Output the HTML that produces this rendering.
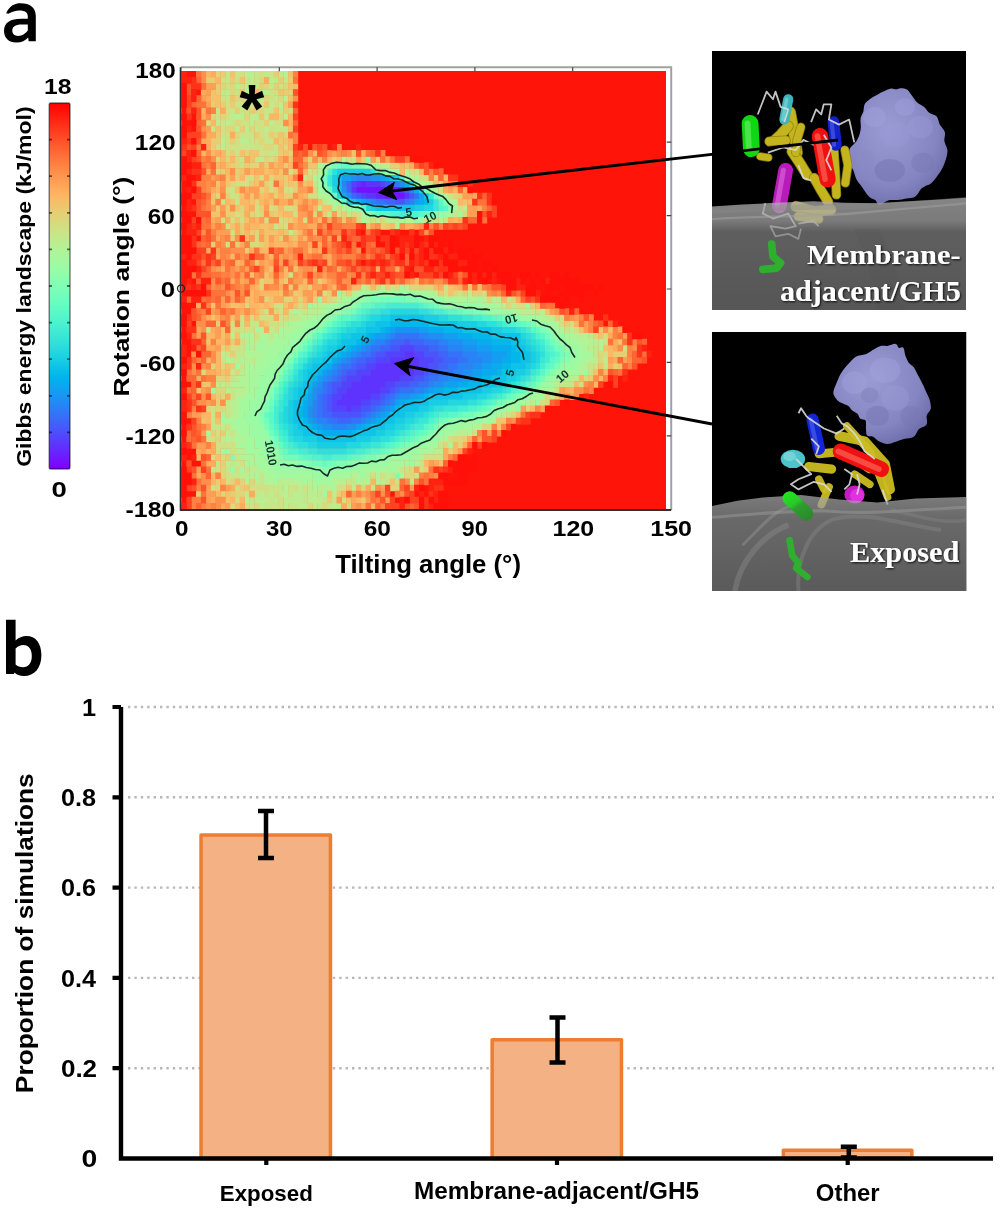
<!DOCTYPE html>
<html><head><meta charset="utf-8"><title>Figure</title>
<style>html,body{margin:0;padding:0;background:#fff;} svg{display:block;will-change:transform;}</style></head>
<body><svg width="1000" height="1212" viewBox="0 0 1000 1212">
<rect width="1000" height="1212" fill="#fff"/>
<path fill="#000" fill-rule="evenodd" d="M6.2 13.2C9.5 5.5 15 3.2 20.5 3.2C30 3.2 35.8 7.5 35.8 16L35.8 41.2L28.6 41.2L28.2 37.5C25.5 40.5 21.5 42.6 16.5 42.6C8.5 42.6 4 37.5 4 31C4 22.5 10.5 18.8 21.5 18.8L27.8 18.8L27.8 16.5C27.8 12.5 25 10.5 19.5 10.5C15.5 10.5 11.5 11.8 8.4 13.8ZM27.8 24.5L21.8 24.5C15 24.5 12.3 27 12.3 30.6C12.3 34 14.5 36 18 36C22.5 36 25.8 33 27.8 30.5Z"/>
<defs><linearGradient id="cbg" x1="0" y1="0" x2="0" y2="1"><stop offset="0.000" stop-color="#ff0000"/><stop offset="0.050" stop-color="#ff2814"/><stop offset="0.100" stop-color="#ff4f28"/><stop offset="0.150" stop-color="#ff743c"/><stop offset="0.200" stop-color="#ff964f"/><stop offset="0.250" stop-color="#ffb462"/><stop offset="0.300" stop-color="#e5ce74"/><stop offset="0.350" stop-color="#cce385"/><stop offset="0.400" stop-color="#b2f396"/><stop offset="0.450" stop-color="#99fca6"/><stop offset="0.500" stop-color="#80ffb4"/><stop offset="0.550" stop-color="#66fcc2"/><stop offset="0.600" stop-color="#4cf3ce"/><stop offset="0.650" stop-color="#33e3d9"/><stop offset="0.700" stop-color="#19cee3"/><stop offset="0.750" stop-color="#00b4ec"/><stop offset="0.800" stop-color="#1a96f3"/><stop offset="0.850" stop-color="#3374f8"/><stop offset="0.900" stop-color="#4d4ffc"/><stop offset="0.950" stop-color="#6628fe"/><stop offset="1.000" stop-color="#8000ff"/></linearGradient></defs>
<rect x="49.2" y="103" width="20.8" height="366" rx="1.5" fill="url(#cbg)"/>
<rect x="49.2" y="103" width="20.8" height="366" rx="1.5" fill="none" stroke="#000" stroke-opacity="0.5" stroke-width="1.4"/>
<path d="M49 139.6h3M70 139.6h-3M49 176.2h3M70 176.2h-3M49 212.8h3M70 212.8h-3M49 249.4h3M70 249.4h-3M49 286.0h3M70 286.0h-3M49 322.6h3M70 322.6h-3M49 359.2h3M70 359.2h-3M49 395.8h3M70 395.8h-3M49 432.4h3M70 432.4h-3" stroke="#000" stroke-opacity="0.55" stroke-width="1.8" fill="none"/>
<text x="200" y="400" font-family="Liberation Sans" font-weight="bold" font-size="23" fill="#000" transform="matrix(1.0750 0.0000 0.0000 0.9765 -171.0750 -296.4882)" >18</text>
<text x="200" y="400" font-family="Liberation Sans" font-weight="bold" font-size="23" fill="#000" transform="matrix(1.2000 0.0000 0.0000 0.9294 -188.4000 124.9353)" >0</text>
<text x="200" y="400" font-family="Liberation Sans" font-weight="bold" font-size="23" fill="#000" transform="matrix(0.0000 -1.0003 0.9130 0.0000 -334.2826 666.8561)" >Gibbs energy landscape (kJ/mol)</text>
<g><rect x="181.5" y="71.0" width="484.50" height="438.00" fill="#ff140a"/>
<path fill="#7511ff" d="M355.9 186.6h39.3v6.6h-39.3zM385.0 192.7h19.9v6.6h-19.9z"/>
<path fill="#6a22fe" d="M360.8 180.5h5.3v6.6h-5.3zM394.7 186.6h5.3v6.6h-5.3zM375.3 192.7h10.2v6.6h-10.2z"/>
<path fill="#5f33fe" d="M355.9 180.5h5.3v6.6h-5.3zM365.6 180.5h15.0v6.6h-15.0zM351.1 186.6h5.3v6.6h-5.3zM399.5 186.6h5.3v6.6h-5.3zM365.6 192.7h10.2v6.6h-10.2zM404.4 192.7h5.3v6.6h-5.3zM404.4 350.8h10.2v6.6h-10.2zM389.8 356.9h29.6v6.6h-29.6zM375.3 363.0h44.1v6.6h-44.1zM370.5 369.1h44.1v6.6h-44.1zM360.8 375.2h39.3v6.6h-39.3zM351.1 381.2h34.4v6.6h-34.4zM346.2 387.3h34.4v6.6h-34.4zM341.4 393.4h29.6v6.6h-29.6zM336.5 399.5h24.7v6.6h-24.7zM346.2 405.6h5.3v6.6h-5.3z"/>
<path fill="#5443fd" d="M351.1 180.5h5.3v6.6h-5.3zM380.1 180.5h5.3v6.6h-5.3zM360.8 192.7h5.3v6.6h-5.3zM399.5 344.8h15.0v6.6h-15.0zM385.0 350.8h19.9v6.6h-19.9zM414.1 350.8h10.2v6.6h-10.2zM375.3 356.9h15.0v6.6h-15.0zM418.9 356.9h15.0v6.6h-15.0zM365.6 363.0h10.2v6.6h-10.2zM418.9 363.0h10.2v6.6h-10.2zM355.9 369.1h15.0v6.6h-15.0zM414.1 369.1h10.2v6.6h-10.2zM346.2 375.2h15.0v6.6h-15.0zM399.5 375.2h15.0v6.6h-15.0zM341.4 381.2h10.2v6.6h-10.2zM385.0 381.2h10.2v6.6h-10.2zM336.5 387.3h10.2v6.6h-10.2zM380.1 387.3h10.2v6.6h-10.2zM331.7 393.4h10.2v6.6h-10.2zM370.5 393.4h10.2v6.6h-10.2zM331.7 399.5h5.3v6.6h-5.3zM360.8 399.5h10.2v6.6h-10.2zM331.7 405.6h15.0v6.6h-15.0zM351.1 405.6h10.2v6.6h-10.2z"/>
<path fill="#4954fb" d="M385.0 180.5h5.3v6.6h-5.3zM404.4 186.6h5.3v6.6h-5.3zM355.9 192.7h5.3v6.6h-5.3zM409.2 192.7h5.3v6.6h-5.3zM394.7 198.8h10.2v6.6h-10.2zM404.4 338.7h5.3v6.6h-5.3zM389.8 344.8h10.2v6.6h-10.2zM414.1 344.8h15.0v6.6h-15.0zM375.3 350.8h10.2v6.6h-10.2zM423.8 350.8h15.0v6.6h-15.0zM365.6 356.9h10.2v6.6h-10.2zM433.4 356.9h10.2v6.6h-10.2zM355.9 363.0h10.2v6.6h-10.2zM428.6 363.0h10.2v6.6h-10.2zM346.2 369.1h10.2v6.6h-10.2zM423.8 369.1h5.3v6.6h-5.3zM341.4 375.2h5.3v6.6h-5.3zM414.1 375.2h10.2v6.6h-10.2zM331.7 381.2h10.2v6.6h-10.2zM394.7 381.2h15.0v6.6h-15.0zM331.7 387.3h5.3v6.6h-5.3zM389.8 387.3h5.3v6.6h-5.3zM326.9 393.4h5.3v6.6h-5.3zM380.1 393.4h5.3v6.6h-5.3zM326.9 399.5h5.3v6.6h-5.3zM370.5 399.5h10.2v6.6h-10.2zM326.9 405.6h5.3v6.6h-5.3zM360.8 405.6h10.2v6.6h-10.2zM331.7 411.7h29.6v6.6h-29.6z"/>
<path fill="#3e64fa" d="M346.2 180.5h5.3v6.6h-5.3zM389.8 180.5h5.3v6.6h-5.3zM346.2 186.6h5.3v6.6h-5.3zM351.1 192.7h5.3v6.6h-5.3zM385.0 198.8h10.2v6.6h-10.2zM389.8 338.7h15.0v6.6h-15.0zM409.2 338.7h15.0v6.6h-15.0zM380.1 344.8h10.2v6.6h-10.2zM428.6 344.8h10.2v6.6h-10.2zM370.5 350.8h5.3v6.6h-5.3zM438.3 350.8h10.2v6.6h-10.2zM355.9 356.9h10.2v6.6h-10.2zM443.1 356.9h15.0v6.6h-15.0zM351.1 363.0h5.3v6.6h-5.3zM438.3 363.0h10.2v6.6h-10.2zM341.4 369.1h5.3v6.6h-5.3zM428.6 369.1h10.2v6.6h-10.2zM336.5 375.2h5.3v6.6h-5.3zM423.8 375.2h5.3v6.6h-5.3zM326.9 381.2h5.3v6.6h-5.3zM409.2 381.2h10.2v6.6h-10.2zM326.9 387.3h5.3v6.6h-5.3zM394.7 387.3h5.3v6.6h-5.3zM322.0 393.4h5.3v6.6h-5.3zM385.0 393.4h5.3v6.6h-5.3zM322.0 399.5h5.3v6.6h-5.3zM380.1 399.5h5.3v6.6h-5.3zM322.0 405.6h5.3v6.6h-5.3zM370.5 405.6h5.3v6.6h-5.3zM322.0 411.7h10.2v6.6h-10.2zM360.8 411.7h5.3v6.6h-5.3zM336.5 417.8h15.0v6.6h-15.0z"/>
<path fill="#3473f8" d="M394.7 180.5h5.3v6.6h-5.3zM414.1 192.7h5.3v6.6h-5.3zM375.3 198.8h10.2v6.6h-10.2zM404.4 198.8h5.3v6.6h-5.3zM394.7 332.6h24.7v6.6h-24.7zM385.0 338.7h5.3v6.6h-5.3zM423.8 338.7h15.0v6.6h-15.0zM370.5 344.8h10.2v6.6h-10.2zM438.3 344.8h10.2v6.6h-10.2zM360.8 350.8h10.2v6.6h-10.2zM448.0 350.8h15.0v6.6h-15.0zM351.1 356.9h5.3v6.6h-5.3zM457.7 356.9h10.2v6.6h-10.2zM341.4 363.0h10.2v6.6h-10.2zM448.0 363.0h10.2v6.6h-10.2zM336.5 369.1h5.3v6.6h-5.3zM438.3 369.1h15.0v6.6h-15.0zM331.7 375.2h5.3v6.6h-5.3zM428.6 375.2h10.2v6.6h-10.2zM322.0 381.2h5.3v6.6h-5.3zM418.9 381.2h10.2v6.6h-10.2zM322.0 387.3h5.3v6.6h-5.3zM399.5 387.3h15.0v6.6h-15.0zM317.2 393.4h5.3v6.6h-5.3zM389.8 393.4h5.3v6.6h-5.3zM317.2 399.5h5.3v6.6h-5.3zM385.0 399.5h5.3v6.6h-5.3zM317.2 405.6h5.3v6.6h-5.3zM375.3 405.6h5.3v6.6h-5.3zM317.2 411.7h5.3v6.6h-5.3zM365.6 411.7h5.3v6.6h-5.3zM326.9 417.8h10.2v6.6h-10.2zM351.1 417.8h10.2v6.6h-10.2z"/>
<path fill="#2982f6" d="M355.9 174.4h15.0v6.6h-15.0zM341.4 180.5h5.3v6.6h-5.3zM409.2 186.6h5.3v6.6h-5.3zM370.5 198.8h5.3v6.6h-5.3zM409.2 198.8h5.3v6.6h-5.3zM389.8 332.6h5.3v6.6h-5.3zM418.9 332.6h10.2v6.6h-10.2zM375.3 338.7h10.2v6.6h-10.2zM438.3 338.7h10.2v6.6h-10.2zM365.6 344.8h5.3v6.6h-5.3zM448.0 344.8h15.0v6.6h-15.0zM355.9 350.8h5.3v6.6h-5.3zM462.5 350.8h15.0v6.6h-15.0zM346.2 356.9h5.3v6.6h-5.3zM467.4 356.9h15.0v6.6h-15.0zM336.5 363.0h5.3v6.6h-5.3zM457.7 363.0h15.0v6.6h-15.0zM331.7 369.1h5.3v6.6h-5.3zM452.8 369.1h10.2v6.6h-10.2zM326.9 375.2h5.3v6.6h-5.3zM438.3 375.2h10.2v6.6h-10.2zM428.6 381.2h5.3v6.6h-5.3zM317.2 387.3h5.3v6.6h-5.3zM414.1 387.3h10.2v6.6h-10.2zM394.7 393.4h5.3v6.6h-5.3zM312.3 399.5h5.3v6.6h-5.3zM389.8 399.5h5.3v6.6h-5.3zM312.3 405.6h5.3v6.6h-5.3zM380.1 405.6h5.3v6.6h-5.3zM312.3 411.7h5.3v6.6h-5.3zM370.5 411.7h5.3v6.6h-5.3zM317.2 417.8h10.2v6.6h-10.2zM360.8 417.8h5.3v6.6h-5.3zM331.7 423.8h15.0v6.6h-15.0z"/>
<path fill="#1e90f4" d="M351.1 174.4h5.3v6.6h-5.3zM370.5 174.4h10.2v6.6h-10.2zM399.5 180.5h5.3v6.6h-5.3zM341.4 186.6h5.3v6.6h-5.3zM346.2 192.7h5.3v6.6h-5.3zM365.6 198.8h5.3v6.6h-5.3zM394.7 326.5h24.7v6.6h-24.7zM385.0 332.6h5.3v6.6h-5.3zM428.6 332.6h15.0v6.6h-15.0zM370.5 338.7h5.3v6.6h-5.3zM448.0 338.7h15.0v6.6h-15.0zM360.8 344.8h5.3v6.6h-5.3zM462.5 344.8h15.0v6.6h-15.0zM351.1 350.8h5.3v6.6h-5.3zM477.0 350.8h15.0v6.6h-15.0zM341.4 356.9h5.3v6.6h-5.3zM481.9 356.9h10.2v6.6h-10.2zM331.7 363.0h5.3v6.6h-5.3zM472.2 363.0h10.2v6.6h-10.2zM326.9 369.1h5.3v6.6h-5.3zM462.5 369.1h10.2v6.6h-10.2zM322.0 375.2h5.3v6.6h-5.3zM448.0 375.2h15.0v6.6h-15.0zM317.2 381.2h5.3v6.6h-5.3zM433.4 381.2h10.2v6.6h-10.2zM312.3 387.3h5.3v6.6h-5.3zM423.8 387.3h5.3v6.6h-5.3zM312.3 393.4h5.3v6.6h-5.3zM399.5 393.4h10.2v6.6h-10.2zM307.5 405.6h5.3v6.6h-5.3zM385.0 405.6h5.3v6.6h-5.3zM307.5 411.7h5.3v6.6h-5.3zM375.3 411.7h5.3v6.6h-5.3zM312.3 417.8h5.3v6.6h-5.3zM365.6 417.8h5.3v6.6h-5.3zM322.0 423.8h10.2v6.6h-10.2zM346.2 423.8h10.2v6.6h-10.2z"/>
<path fill="#139ef1" d="M341.4 174.4h10.2v6.6h-10.2zM380.1 174.4h5.3v6.6h-5.3zM418.9 192.7h5.3v6.6h-5.3zM360.8 198.8h5.3v6.6h-5.3zM414.1 198.8h5.3v6.6h-5.3zM389.8 326.5h5.3v6.6h-5.3zM418.9 326.5h10.2v6.6h-10.2zM375.3 332.6h10.2v6.6h-10.2zM443.1 332.6h15.0v6.6h-15.0zM365.6 338.7h5.3v6.6h-5.3zM462.5 338.7h15.0v6.6h-15.0zM355.9 344.8h5.3v6.6h-5.3zM477.0 344.8h15.0v6.6h-15.0zM346.2 350.8h5.3v6.6h-5.3zM491.6 350.8h15.0v6.6h-15.0zM336.5 356.9h5.3v6.6h-5.3zM491.6 356.9h10.2v6.6h-10.2zM481.9 363.0h10.2v6.6h-10.2zM322.0 369.1h5.3v6.6h-5.3zM472.2 369.1h10.2v6.6h-10.2zM317.2 375.2h5.3v6.6h-5.3zM462.5 375.2h10.2v6.6h-10.2zM312.3 381.2h5.3v6.6h-5.3zM443.1 381.2h15.0v6.6h-15.0zM428.6 387.3h5.3v6.6h-5.3zM307.5 393.4h5.3v6.6h-5.3zM409.2 393.4h10.2v6.6h-10.2zM307.5 399.5h5.3v6.6h-5.3zM394.7 399.5h5.3v6.6h-5.3zM389.8 405.6h5.3v6.6h-5.3zM380.1 411.7h5.3v6.6h-5.3zM307.5 417.8h5.3v6.6h-5.3zM370.5 417.8h5.3v6.6h-5.3zM317.2 423.8h5.3v6.6h-5.3zM355.9 423.8h5.3v6.6h-5.3z"/>
<path fill="#08abee" d="M385.0 174.4h5.3v6.6h-5.3zM404.4 180.5h5.3v6.6h-5.3zM414.1 186.6h5.3v6.6h-5.3zM341.4 192.7h5.3v6.6h-5.3zM418.9 198.8h5.3v6.6h-5.3zM385.0 326.5h5.3v6.6h-5.3zM428.6 326.5h15.0v6.6h-15.0zM370.5 332.6h5.3v6.6h-5.3zM457.7 332.6h15.0v6.6h-15.0zM360.8 338.7h5.3v6.6h-5.3zM477.0 338.7h15.0v6.6h-15.0zM351.1 344.8h5.3v6.6h-5.3zM491.6 344.8h19.9v6.6h-19.9zM341.4 350.8h5.3v6.6h-5.3zM506.1 350.8h5.3v6.6h-5.3zM331.7 356.9h5.3v6.6h-5.3zM501.3 356.9h10.2v6.6h-10.2zM326.9 363.0h5.3v6.6h-5.3zM491.6 363.0h10.2v6.6h-10.2zM481.9 369.1h15.0v6.6h-15.0zM472.2 375.2h10.2v6.6h-10.2zM457.7 381.2h10.2v6.6h-10.2zM307.5 387.3h5.3v6.6h-5.3zM433.4 387.3h10.2v6.6h-10.2zM418.9 393.4h5.3v6.6h-5.3zM302.6 399.5h5.3v6.6h-5.3zM399.5 399.5h5.3v6.6h-5.3zM302.6 405.6h5.3v6.6h-5.3zM302.6 411.7h5.3v6.6h-5.3zM385.0 411.7h5.3v6.6h-5.3zM375.3 417.8h5.3v6.6h-5.3zM312.3 423.8h5.3v6.6h-5.3zM360.8 423.8h5.3v6.6h-5.3zM322.0 429.9h29.6v6.6h-29.6z"/>
<path fill="#03b7eb" d="M355.9 198.8h5.3v6.6h-5.3zM423.8 198.8h5.3v6.6h-5.3zM389.8 320.4h39.3v6.6h-39.3zM380.1 326.5h5.3v6.6h-5.3zM443.1 326.5h19.9v6.6h-19.9zM365.6 332.6h5.3v6.6h-5.3zM472.2 332.6h19.9v6.6h-19.9zM355.9 338.7h5.3v6.6h-5.3zM491.6 338.7h19.9v6.6h-19.9zM346.2 344.8h5.3v6.6h-5.3zM511.0 344.8h5.3v6.6h-5.3zM336.5 350.8h5.3v6.6h-5.3zM511.0 350.8h10.2v6.6h-10.2zM511.0 356.9h10.2v6.6h-10.2zM322.0 363.0h5.3v6.6h-5.3zM501.3 363.0h10.2v6.6h-10.2zM317.2 369.1h5.3v6.6h-5.3zM496.4 369.1h5.3v6.6h-5.3zM312.3 375.2h5.3v6.6h-5.3zM481.9 375.2h10.2v6.6h-10.2zM307.5 381.2h5.3v6.6h-5.3zM467.4 381.2h15.0v6.6h-15.0zM443.1 387.3h15.0v6.6h-15.0zM302.6 393.4h5.3v6.6h-5.3zM423.8 393.4h5.3v6.6h-5.3zM404.4 399.5h10.2v6.6h-10.2zM297.8 405.6h5.3v6.6h-5.3zM394.7 405.6h5.3v6.6h-5.3zM297.8 411.7h5.3v6.6h-5.3zM302.6 417.8h5.3v6.6h-5.3zM380.1 417.8h5.3v6.6h-5.3zM307.5 423.8h5.3v6.6h-5.3zM365.6 423.8h5.3v6.6h-5.3zM317.2 429.9h5.3v6.6h-5.3zM351.1 429.9h5.3v6.6h-5.3z"/>
<path fill="#0ec3e7" d="M336.5 174.4h5.3v6.6h-5.3zM389.8 174.4h5.3v6.6h-5.3zM336.5 180.5h5.3v6.6h-5.3zM336.5 186.6h5.3v6.6h-5.3zM423.8 192.7h5.3v6.6h-5.3zM351.1 198.8h5.3v6.6h-5.3zM375.3 204.8h39.3v6.6h-39.3zM389.8 314.3h34.4v6.6h-34.4zM375.3 320.4h15.0v6.6h-15.0zM428.6 320.4h29.6v6.6h-29.6zM365.6 326.5h15.0v6.6h-15.0zM462.5 326.5h29.6v6.6h-29.6zM351.1 332.6h15.0v6.6h-15.0zM491.6 332.6h29.6v6.6h-29.6zM341.4 338.7h15.0v6.6h-15.0zM511.0 338.7h10.2v6.6h-10.2zM336.5 344.8h10.2v6.6h-10.2zM515.8 344.8h10.2v6.6h-10.2zM326.9 350.8h10.2v6.6h-10.2zM520.6 350.8h10.2v6.6h-10.2zM322.0 356.9h10.2v6.6h-10.2zM520.6 356.9h10.2v6.6h-10.2zM312.3 363.0h10.2v6.6h-10.2zM511.0 363.0h15.0v6.6h-15.0zM307.5 369.1h10.2v6.6h-10.2zM501.3 369.1h15.0v6.6h-15.0zM307.5 375.2h5.3v6.6h-5.3zM491.6 375.2h15.0v6.6h-15.0zM302.6 381.2h5.3v6.6h-5.3zM481.9 381.2h15.0v6.6h-15.0zM297.8 387.3h10.2v6.6h-10.2zM457.7 387.3h24.7v6.6h-24.7zM297.8 393.4h5.3v6.6h-5.3zM428.6 393.4h34.4v6.6h-34.4zM292.9 399.5h10.2v6.6h-10.2zM414.1 399.5h15.0v6.6h-15.0zM292.9 405.6h5.3v6.6h-5.3zM399.5 405.6h19.9v6.6h-19.9zM292.9 411.7h5.3v6.6h-5.3zM389.8 411.7h15.0v6.6h-15.0zM292.9 417.8h10.2v6.6h-10.2zM385.0 417.8h10.2v6.6h-10.2zM297.8 423.8h10.2v6.6h-10.2zM370.5 423.8h15.0v6.6h-15.0zM302.6 429.9h15.0v6.6h-15.0zM355.9 429.9h19.9v6.6h-19.9zM317.2 436.0h39.3v6.6h-39.3z"/>
<path fill="#18cde4" d="M336.5 168.3h34.4v6.6h-34.4zM331.7 174.4h5.3v6.6h-5.3zM394.7 174.4h5.3v6.6h-5.3zM331.7 180.5h5.3v6.6h-5.3zM409.2 180.5h5.3v6.6h-5.3zM418.9 186.6h5.3v6.6h-5.3zM346.2 198.8h5.3v6.6h-5.3zM428.6 198.8h5.3v6.6h-5.3zM370.5 204.8h5.3v6.6h-5.3zM414.1 204.8h10.2v6.6h-10.2zM380.1 314.3h10.2v6.6h-10.2zM423.8 314.3h15.0v6.6h-15.0zM365.6 320.4h10.2v6.6h-10.2zM457.7 320.4h19.9v6.6h-19.9zM355.9 326.5h10.2v6.6h-10.2zM491.6 326.5h10.2v6.6h-10.2zM341.4 332.6h10.2v6.6h-10.2zM336.5 338.7h5.3v6.6h-5.3zM520.6 338.7h5.3v6.6h-5.3zM326.9 344.8h10.2v6.6h-10.2zM525.5 344.8h5.3v6.6h-5.3zM322.0 350.8h5.3v6.6h-5.3zM530.3 350.8h5.3v6.6h-5.3zM312.3 356.9h10.2v6.6h-10.2zM530.3 356.9h5.3v6.6h-5.3zM307.5 363.0h5.3v6.6h-5.3zM525.5 363.0h5.3v6.6h-5.3zM302.6 369.1h5.3v6.6h-5.3zM515.8 369.1h10.2v6.6h-10.2zM302.6 375.2h5.3v6.6h-5.3zM506.1 375.2h10.2v6.6h-10.2zM297.8 381.2h5.3v6.6h-5.3zM496.4 381.2h10.2v6.6h-10.2zM292.9 387.3h5.3v6.6h-5.3zM481.9 387.3h10.2v6.6h-10.2zM292.9 393.4h5.3v6.6h-5.3zM462.5 393.4h15.0v6.6h-15.0zM288.1 399.5h5.3v6.6h-5.3zM428.6 399.5h19.9v6.6h-19.9zM288.1 405.6h5.3v6.6h-5.3zM418.9 405.6h10.2v6.6h-10.2zM288.1 411.7h5.3v6.6h-5.3zM404.4 411.7h10.2v6.6h-10.2zM288.1 417.8h5.3v6.6h-5.3zM394.7 417.8h10.2v6.6h-10.2zM292.9 423.8h5.3v6.6h-5.3zM385.0 423.8h10.2v6.6h-10.2zM292.9 429.9h10.2v6.6h-10.2zM375.3 429.9h10.2v6.6h-10.2zM302.6 436.0h15.0v6.6h-15.0zM355.9 436.0h15.0v6.6h-15.0zM317.2 442.1h29.6v6.6h-29.6z"/>
<path fill="#23d7e0" d="M331.7 186.6h5.3v6.6h-5.3zM336.5 192.7h5.3v6.6h-5.3zM365.6 204.8h5.3v6.6h-5.3zM423.8 204.8h10.2v6.6h-10.2zM389.8 308.2h29.6v6.6h-29.6zM370.5 314.3h10.2v6.6h-10.2zM438.3 314.3h10.2v6.6h-10.2zM360.8 320.4h5.3v6.6h-5.3zM477.0 320.4h10.2v6.6h-10.2zM346.2 326.5h10.2v6.6h-10.2zM501.3 326.5h15.0v6.6h-15.0zM336.5 332.6h5.3v6.6h-5.3zM520.6 332.6h5.3v6.6h-5.3zM326.9 338.7h10.2v6.6h-10.2zM525.5 338.7h5.3v6.6h-5.3zM322.0 344.8h5.3v6.6h-5.3zM530.3 344.8h5.3v6.6h-5.3zM317.2 350.8h5.3v6.6h-5.3zM535.2 350.8h5.3v6.6h-5.3zM307.5 356.9h5.3v6.6h-5.3zM535.2 356.9h5.3v6.6h-5.3zM302.6 363.0h5.3v6.6h-5.3zM530.3 363.0h5.3v6.6h-5.3zM297.8 369.1h5.3v6.6h-5.3zM525.5 369.1h5.3v6.6h-5.3zM297.8 375.2h5.3v6.6h-5.3zM515.8 375.2h5.3v6.6h-5.3zM292.9 381.2h5.3v6.6h-5.3zM506.1 381.2h5.3v6.6h-5.3zM288.1 387.3h5.3v6.6h-5.3zM491.6 387.3h10.2v6.6h-10.2zM288.1 393.4h5.3v6.6h-5.3zM477.0 393.4h10.2v6.6h-10.2zM448.0 399.5h19.9v6.6h-19.9zM283.2 405.6h5.3v6.6h-5.3zM428.6 405.6h5.3v6.6h-5.3zM283.2 411.7h5.3v6.6h-5.3zM414.1 411.7h10.2v6.6h-10.2zM283.2 417.8h5.3v6.6h-5.3zM404.4 417.8h10.2v6.6h-10.2zM288.1 423.8h5.3v6.6h-5.3zM394.7 423.8h10.2v6.6h-10.2zM288.1 429.9h5.3v6.6h-5.3zM385.0 429.9h10.2v6.6h-10.2zM292.9 436.0h10.2v6.6h-10.2zM370.5 436.0h10.2v6.6h-10.2zM307.5 442.1h10.2v6.6h-10.2zM346.2 442.1h15.0v6.6h-15.0z"/>
<path fill="#2ee0db" d="M331.7 168.3h5.3v6.6h-5.3zM370.5 168.3h5.3v6.6h-5.3zM380.1 308.2h10.2v6.6h-10.2zM418.9 308.2h10.2v6.6h-10.2zM365.6 314.3h5.3v6.6h-5.3zM448.0 314.3h15.0v6.6h-15.0zM351.1 320.4h10.2v6.6h-10.2zM486.7 320.4h10.2v6.6h-10.2zM341.4 326.5h5.3v6.6h-5.3zM515.8 326.5h5.3v6.6h-5.3zM331.7 332.6h5.3v6.6h-5.3zM525.5 332.6h5.3v6.6h-5.3zM322.0 338.7h5.3v6.6h-5.3zM530.3 338.7h5.3v6.6h-5.3zM317.2 344.8h5.3v6.6h-5.3zM535.2 344.8h5.3v6.6h-5.3zM312.3 350.8h5.3v6.6h-5.3zM540.0 350.8h5.3v6.6h-5.3zM535.2 363.0h5.3v6.6h-5.3zM292.9 375.2h5.3v6.6h-5.3zM520.6 375.2h5.3v6.6h-5.3zM288.1 381.2h5.3v6.6h-5.3zM511.0 381.2h5.3v6.6h-5.3zM501.3 387.3h5.3v6.6h-5.3zM283.2 393.4h5.3v6.6h-5.3zM486.7 393.4h5.3v6.6h-5.3zM283.2 399.5h5.3v6.6h-5.3zM467.4 399.5h10.2v6.6h-10.2zM433.4 405.6h10.2v6.6h-10.2zM278.4 411.7h5.3v6.6h-5.3zM423.8 411.7h5.3v6.6h-5.3zM278.4 417.8h5.3v6.6h-5.3zM414.1 417.8h5.3v6.6h-5.3zM283.2 423.8h5.3v6.6h-5.3zM404.4 423.8h5.3v6.6h-5.3zM394.7 429.9h5.3v6.6h-5.3zM288.1 436.0h5.3v6.6h-5.3zM380.1 436.0h10.2v6.6h-10.2zM297.8 442.1h10.2v6.6h-10.2zM360.8 442.1h10.2v6.6h-10.2zM317.2 448.2h29.6v6.6h-29.6z"/>
<path fill="#39e7d7" d="M326.9 174.4h5.3v6.6h-5.3zM326.9 180.5h5.3v6.6h-5.3zM428.6 192.7h5.3v6.6h-5.3zM433.4 198.8h5.3v6.6h-5.3zM433.4 204.8h5.3v6.6h-5.3zM370.5 308.2h10.2v6.6h-10.2zM428.6 308.2h5.3v6.6h-5.3zM360.8 314.3h5.3v6.6h-5.3zM462.5 314.3h10.2v6.6h-10.2zM346.2 320.4h5.3v6.6h-5.3zM496.4 320.4h5.3v6.6h-5.3zM336.5 326.5h5.3v6.6h-5.3zM520.6 326.5h5.3v6.6h-5.3zM326.9 332.6h5.3v6.6h-5.3zM530.3 332.6h5.3v6.6h-5.3zM535.2 338.7h5.3v6.6h-5.3zM312.3 344.8h5.3v6.6h-5.3zM540.0 344.8h5.3v6.6h-5.3zM307.5 350.8h5.3v6.6h-5.3zM302.6 356.9h5.3v6.6h-5.3zM540.0 356.9h5.3v6.6h-5.3zM297.8 363.0h5.3v6.6h-5.3zM292.9 369.1h5.3v6.6h-5.3zM530.3 369.1h5.3v6.6h-5.3zM525.5 375.2h5.3v6.6h-5.3zM515.8 381.2h5.3v6.6h-5.3zM283.2 387.3h5.3v6.6h-5.3zM506.1 387.3h5.3v6.6h-5.3zM491.6 393.4h5.3v6.6h-5.3zM278.4 399.5h5.3v6.6h-5.3zM477.0 399.5h5.3v6.6h-5.3zM278.4 405.6h5.3v6.6h-5.3zM443.1 405.6h15.0v6.6h-15.0zM428.6 411.7h5.3v6.6h-5.3zM418.9 417.8h10.2v6.6h-10.2zM278.4 423.8h5.3v6.6h-5.3zM409.2 423.8h5.3v6.6h-5.3zM283.2 429.9h5.3v6.6h-5.3zM399.5 429.9h5.3v6.6h-5.3zM389.8 436.0h5.3v6.6h-5.3zM292.9 442.1h5.3v6.6h-5.3zM370.5 442.1h10.2v6.6h-10.2zM307.5 448.2h10.2v6.6h-10.2zM346.2 448.2h10.2v6.6h-10.2z"/>
<path fill="#44eed2" d="M399.5 210.9h5.3v6.6h-5.3zM385.0 302.2h34.4v6.6h-34.4zM365.6 308.2h5.3v6.6h-5.3zM433.4 308.2h10.2v6.6h-10.2zM355.9 314.3h5.3v6.6h-5.3zM472.2 314.3h10.2v6.6h-10.2zM341.4 320.4h5.3v6.6h-5.3zM501.3 320.4h5.3v6.6h-5.3zM331.7 326.5h5.3v6.6h-5.3zM525.5 326.5h5.3v6.6h-5.3zM322.0 332.6h5.3v6.6h-5.3zM317.2 338.7h5.3v6.6h-5.3zM540.0 338.7h5.3v6.6h-5.3zM544.9 350.8h5.3v6.6h-5.3zM297.8 356.9h5.3v6.6h-5.3zM544.9 356.9h5.3v6.6h-5.3zM292.9 363.0h5.3v6.6h-5.3zM540.0 363.0h5.3v6.6h-5.3zM535.2 369.1h5.3v6.6h-5.3zM288.1 375.2h5.3v6.6h-5.3zM283.2 381.2h5.3v6.6h-5.3zM520.6 381.2h5.3v6.6h-5.3zM278.4 393.4h5.3v6.6h-5.3zM496.4 393.4h5.3v6.6h-5.3zM481.9 399.5h5.3v6.6h-5.3zM273.6 405.6h5.3v6.6h-5.3zM457.7 405.6h10.2v6.6h-10.2zM273.6 411.7h5.3v6.6h-5.3zM433.4 411.7h5.3v6.6h-5.3zM273.6 417.8h5.3v6.6h-5.3zM414.1 423.8h10.2v6.6h-10.2zM278.4 429.9h5.3v6.6h-5.3zM404.4 429.9h5.3v6.6h-5.3zM283.2 436.0h5.3v6.6h-5.3zM394.7 436.0h5.3v6.6h-5.3zM288.1 442.1h5.3v6.6h-5.3zM380.1 442.1h5.3v6.6h-5.3zM297.8 448.2h10.2v6.6h-10.2zM355.9 448.2h10.2v6.6h-10.2zM322.0 454.2h10.2v6.6h-10.2z"/>
<path fill="#4ff4cd" d="M326.9 168.3h5.3v6.6h-5.3zM399.5 174.4h5.3v6.6h-5.3zM438.3 204.8h5.3v6.6h-5.3zM389.8 210.9h10.2v6.6h-10.2zM404.4 210.9h15.0v6.6h-15.0zM375.3 302.2h10.2v6.6h-10.2zM418.9 302.2h5.3v6.6h-5.3zM360.8 308.2h5.3v6.6h-5.3zM443.1 308.2h5.3v6.6h-5.3zM351.1 314.3h5.3v6.6h-5.3zM481.9 314.3h10.2v6.6h-10.2zM336.5 320.4h5.3v6.6h-5.3zM506.1 320.4h10.2v6.6h-10.2zM326.9 326.5h5.3v6.6h-5.3zM535.2 332.6h5.3v6.6h-5.3zM312.3 338.7h5.3v6.6h-5.3zM307.5 344.8h5.3v6.6h-5.3zM544.9 344.8h5.3v6.6h-5.3zM302.6 350.8h5.3v6.6h-5.3zM549.7 350.8h5.3v6.6h-5.3zM288.1 369.1h5.3v6.6h-5.3zM530.3 375.2h5.3v6.6h-5.3zM278.4 387.3h5.3v6.6h-5.3zM511.0 387.3h5.3v6.6h-5.3zM501.3 393.4h5.3v6.6h-5.3zM273.6 399.5h5.3v6.6h-5.3zM486.7 399.5h5.3v6.6h-5.3zM467.4 405.6h10.2v6.6h-10.2zM438.3 411.7h10.2v6.6h-10.2zM428.6 417.8h5.3v6.6h-5.3zM273.6 423.8h5.3v6.6h-5.3zM409.2 429.9h5.3v6.6h-5.3zM278.4 436.0h5.3v6.6h-5.3zM399.5 436.0h5.3v6.6h-5.3zM283.2 442.1h5.3v6.6h-5.3zM385.0 442.1h5.3v6.6h-5.3zM288.1 448.2h10.2v6.6h-10.2zM365.6 448.2h5.3v6.6h-5.3zM312.3 454.2h10.2v6.6h-10.2zM331.7 454.2h15.0v6.6h-15.0z"/>
<path fill="#5af8c8" d="M375.3 168.3h5.3v6.6h-5.3zM438.3 198.8h5.3v6.6h-5.3zM360.8 204.8h5.3v6.6h-5.3zM443.1 204.8h5.3v6.6h-5.3zM380.1 210.9h10.2v6.6h-10.2zM418.9 210.9h5.3v6.6h-5.3zM370.5 302.2h5.3v6.6h-5.3zM423.8 302.2h5.3v6.6h-5.3zM355.9 308.2h5.3v6.6h-5.3zM448.0 308.2h10.2v6.6h-10.2zM341.4 314.3h10.2v6.6h-10.2zM491.6 314.3h5.3v6.6h-5.3zM331.7 320.4h5.3v6.6h-5.3zM515.8 320.4h5.3v6.6h-5.3zM530.3 326.5h5.3v6.6h-5.3zM317.2 332.6h5.3v6.6h-5.3zM540.0 332.6h5.3v6.6h-5.3zM544.9 338.7h5.3v6.6h-5.3zM549.7 344.8h5.3v6.6h-5.3zM297.8 350.8h5.3v6.6h-5.3zM554.6 350.8h5.3v6.6h-5.3zM292.9 356.9h5.3v6.6h-5.3zM549.7 356.9h5.3v6.6h-5.3zM544.9 363.0h5.3v6.6h-5.3zM540.0 369.1h5.3v6.6h-5.3zM283.2 375.2h5.3v6.6h-5.3zM278.4 381.2h5.3v6.6h-5.3zM525.5 381.2h5.3v6.6h-5.3zM515.8 387.3h5.3v6.6h-5.3zM273.6 393.4h5.3v6.6h-5.3zM491.6 399.5h5.3v6.6h-5.3zM477.0 405.6h5.3v6.6h-5.3zM268.7 411.7h5.3v6.6h-5.3zM448.0 411.7h10.2v6.6h-10.2zM268.7 417.8h5.3v6.6h-5.3zM433.4 417.8h5.3v6.6h-5.3zM423.8 423.8h5.3v6.6h-5.3zM273.6 429.9h5.3v6.6h-5.3zM414.1 429.9h5.3v6.6h-5.3zM404.4 436.0h5.3v6.6h-5.3zM389.8 442.1h5.3v6.6h-5.3zM370.5 448.2h10.2v6.6h-10.2zM302.6 454.2h10.2v6.6h-10.2zM346.2 454.2h5.3v6.6h-5.3z"/>
<path fill="#64fbc3" d="M341.4 162.2h10.2v6.6h-10.2zM326.9 186.6h5.3v6.6h-5.3zM331.7 192.7h5.3v6.6h-5.3zM341.4 198.8h5.3v6.6h-5.3zM375.3 210.9h5.3v6.6h-5.3zM423.8 210.9h5.3v6.6h-5.3zM360.8 302.2h10.2v6.6h-10.2zM428.6 302.2h5.3v6.6h-5.3zM457.7 308.2h5.3v6.6h-5.3zM336.5 314.3h5.3v6.6h-5.3zM496.4 314.3h5.3v6.6h-5.3zM520.6 320.4h5.3v6.6h-5.3zM322.0 326.5h5.3v6.6h-5.3zM535.2 326.5h5.3v6.6h-5.3zM312.3 332.6h5.3v6.6h-5.3zM307.5 338.7h5.3v6.6h-5.3zM302.6 344.8h5.3v6.6h-5.3zM554.6 356.9h5.3v6.6h-5.3zM288.1 363.0h5.3v6.6h-5.3zM549.7 363.0h5.3v6.6h-5.3zM283.2 369.1h5.3v6.6h-5.3zM535.2 375.2h5.3v6.6h-5.3zM530.3 381.2h5.3v6.6h-5.3zM273.6 387.3h5.3v6.6h-5.3zM520.6 387.3h5.3v6.6h-5.3zM506.1 393.4h5.3v6.6h-5.3zM268.7 405.6h5.3v6.6h-5.3zM481.9 405.6h5.3v6.6h-5.3zM263.9 411.7h5.3v6.6h-5.3zM457.7 411.7h5.3v6.6h-5.3zM268.7 423.8h5.3v6.6h-5.3zM428.6 423.8h5.3v6.6h-5.3zM418.9 429.9h5.3v6.6h-5.3zM409.2 436.0h5.3v6.6h-5.3zM278.4 442.1h5.3v6.6h-5.3zM394.7 442.1h5.3v6.6h-5.3zM283.2 448.2h5.3v6.6h-5.3zM380.1 448.2h5.3v6.6h-5.3zM297.8 454.2h5.3v6.6h-5.3zM351.1 454.2h10.2v6.6h-10.2zM322.0 460.3h5.3v6.6h-5.3z"/>
<path fill="#6ffebd" d="M336.5 162.2h5.3v6.6h-5.3zM351.1 162.2h10.2v6.6h-10.2zM322.0 174.4h5.3v6.6h-5.3zM433.4 192.7h5.3v6.6h-5.3zM428.6 210.9h5.3v6.6h-5.3zM380.1 296.1h24.7v6.6h-24.7zM433.4 302.2h5.3v6.6h-5.3zM351.1 308.2h5.3v6.6h-5.3zM462.5 308.2h10.2v6.6h-10.2zM501.3 314.3h5.3v6.6h-5.3zM326.9 320.4h5.3v6.6h-5.3zM525.5 320.4h5.3v6.6h-5.3zM544.9 332.6h5.3v6.6h-5.3zM549.7 338.7h5.3v6.6h-5.3zM554.6 344.8h5.3v6.6h-5.3zM559.4 350.8h5.3v6.6h-5.3zM544.9 369.1h5.3v6.6h-5.3zM278.4 375.2h5.3v6.6h-5.3zM540.0 375.2h5.3v6.6h-5.3zM511.0 393.4h5.3v6.6h-5.3zM268.7 399.5h5.3v6.6h-5.3zM496.4 399.5h5.3v6.6h-5.3zM486.7 405.6h5.3v6.6h-5.3zM462.5 411.7h10.2v6.6h-10.2zM263.9 417.8h5.3v6.6h-5.3zM438.3 417.8h5.3v6.6h-5.3zM268.7 429.9h5.3v6.6h-5.3zM423.8 429.9h5.3v6.6h-5.3zM273.6 436.0h5.3v6.6h-5.3zM414.1 436.0h5.3v6.6h-5.3zM399.5 442.1h5.3v6.6h-5.3zM278.4 448.2h5.3v6.6h-5.3zM385.0 448.2h5.3v6.6h-5.3zM283.2 454.2h15.0v6.6h-15.0zM360.8 454.2h5.3v6.6h-5.3zM312.3 460.3h10.2v6.6h-10.2zM326.9 460.3h10.2v6.6h-10.2z"/>
<path fill="#7affb7" d="M331.7 162.2h5.3v6.6h-5.3zM360.8 162.2h5.3v6.6h-5.3zM322.0 180.5h5.3v6.6h-5.3zM423.8 186.6h5.3v6.6h-5.3zM370.5 210.9h5.3v6.6h-5.3zM370.5 296.1h10.2v6.6h-10.2zM404.4 296.1h15.0v6.6h-15.0zM355.9 302.2h5.3v6.6h-5.3zM346.2 308.2h5.3v6.6h-5.3zM472.2 308.2h10.2v6.6h-10.2zM331.7 314.3h5.3v6.6h-5.3zM506.1 314.3h5.3v6.6h-5.3zM530.3 320.4h5.3v6.6h-5.3zM317.2 326.5h5.3v6.6h-5.3zM540.0 326.5h5.3v6.6h-5.3zM302.6 338.7h5.3v6.6h-5.3zM297.8 344.8h5.3v6.6h-5.3zM559.4 344.8h5.3v6.6h-5.3zM292.9 350.8h5.3v6.6h-5.3zM564.3 350.8h5.3v6.6h-5.3zM288.1 356.9h5.3v6.6h-5.3zM559.4 356.9h5.3v6.6h-5.3zM283.2 363.0h5.3v6.6h-5.3zM554.6 363.0h5.3v6.6h-5.3zM273.6 381.2h5.3v6.6h-5.3zM535.2 381.2h5.3v6.6h-5.3zM525.5 387.3h5.3v6.6h-5.3zM268.7 393.4h5.3v6.6h-5.3zM501.3 399.5h5.3v6.6h-5.3zM263.9 405.6h5.3v6.6h-5.3zM472.2 411.7h5.3v6.6h-5.3zM443.1 417.8h5.3v6.6h-5.3zM263.9 423.8h5.3v6.6h-5.3zM433.4 423.8h5.3v6.6h-5.3zM273.6 442.1h5.3v6.6h-5.3zM404.4 442.1h5.3v6.6h-5.3zM389.8 448.2h5.3v6.6h-5.3zM229.9 454.2h5.3v6.6h-5.3zM365.6 454.2h10.2v6.6h-10.2zM307.5 460.3h5.3v6.6h-5.3zM336.5 460.3h10.2v6.6h-10.2zM394.7 472.5h5.3v6.6h-5.3z"/>
<path fill="#85ffb1" d="M365.6 156.2h5.3v6.6h-5.3zM443.1 198.8h5.3v6.6h-5.3zM448.0 204.8h5.3v6.6h-5.3zM433.4 210.9h5.3v6.6h-5.3zM365.6 296.1h5.3v6.6h-5.3zM418.9 296.1h5.3v6.6h-5.3zM438.3 302.2h5.3v6.6h-5.3zM341.4 308.2h5.3v6.6h-5.3zM481.9 308.2h5.3v6.6h-5.3zM511.0 314.3h5.3v6.6h-5.3zM322.0 320.4h5.3v6.6h-5.3zM312.3 326.5h5.3v6.6h-5.3zM544.9 326.5h5.3v6.6h-5.3zM307.5 332.6h5.3v6.6h-5.3zM549.7 332.6h5.3v6.6h-5.3zM554.6 338.7h5.3v6.6h-5.3zM564.3 356.9h5.3v6.6h-5.3zM278.4 369.1h5.3v6.6h-5.3zM549.7 369.1h5.3v6.6h-5.3zM268.7 387.3h5.3v6.6h-5.3zM515.8 393.4h5.3v6.6h-5.3zM263.9 399.5h5.3v6.6h-5.3zM491.6 405.6h5.3v6.6h-5.3zM259.0 411.7h5.3v6.6h-5.3zM477.0 411.7h5.3v6.6h-5.3zM259.0 417.8h5.3v6.6h-5.3zM448.0 417.8h5.3v6.6h-5.3zM428.6 429.9h5.3v6.6h-5.3zM268.7 436.0h5.3v6.6h-5.3zM418.9 436.0h5.3v6.6h-5.3zM409.2 442.1h5.3v6.6h-5.3zM394.7 448.2h5.3v6.6h-5.3zM278.4 454.2h5.3v6.6h-5.3zM375.3 454.2h5.3v6.6h-5.3zM297.8 460.3h10.2v6.6h-10.2zM346.2 460.3h5.3v6.6h-5.3zM322.0 466.4h5.3v6.6h-5.3z"/>
<path fill="#90feab" d="M326.9 162.2h5.3v6.6h-5.3zM365.6 162.2h5.3v6.6h-5.3zM322.0 168.3h5.3v6.6h-5.3zM380.1 168.3h5.3v6.6h-5.3zM355.9 204.8h5.3v6.6h-5.3zM365.6 210.9h5.3v6.6h-5.3zM438.3 210.9h5.3v6.6h-5.3zM336.5 290.0h5.3v6.6h-5.3zM317.2 296.1h5.3v6.6h-5.3zM360.8 296.1h5.3v6.6h-5.3zM423.8 296.1h5.3v6.6h-5.3zM351.1 302.2h5.3v6.6h-5.3zM443.1 302.2h5.3v6.6h-5.3zM336.5 308.2h5.3v6.6h-5.3zM486.7 308.2h5.3v6.6h-5.3zM326.9 314.3h5.3v6.6h-5.3zM515.8 314.3h5.3v6.6h-5.3zM535.2 320.4h5.3v6.6h-5.3zM297.8 338.7h5.3v6.6h-5.3zM292.9 344.8h5.3v6.6h-5.3zM564.3 344.8h5.3v6.6h-5.3zM288.1 350.8h5.3v6.6h-5.3zM569.1 350.8h5.3v6.6h-5.3zM283.2 356.9h5.3v6.6h-5.3zM559.4 363.0h5.3v6.6h-5.3zM273.6 375.2h5.3v6.6h-5.3zM544.9 375.2h5.3v6.6h-5.3zM530.3 387.3h5.3v6.6h-5.3zM520.6 393.4h5.3v6.6h-5.3zM506.1 399.5h5.3v6.6h-5.3zM259.0 405.6h5.3v6.6h-5.3zM515.8 405.6h5.3v6.6h-5.3zM481.9 411.7h5.3v6.6h-5.3zM452.8 417.8h10.2v6.6h-10.2zM438.3 423.8h5.3v6.6h-5.3zM263.9 429.9h5.3v6.6h-5.3zM423.8 436.0h5.3v6.6h-5.3zM268.7 442.1h5.3v6.6h-5.3zM414.1 442.1h5.3v6.6h-5.3zM273.6 448.2h5.3v6.6h-5.3zM399.5 448.2h5.3v6.6h-5.3zM380.1 454.2h5.3v6.6h-5.3zM278.4 460.3h19.9v6.6h-19.9zM351.1 460.3h10.2v6.6h-10.2zM229.9 466.4h5.3v6.6h-5.3zM326.9 466.4h5.3v6.6h-5.3z"/>
<path fill="#9bfba5" d="M385.0 168.3h5.3v6.6h-5.3zM404.4 174.4h5.3v6.6h-5.3zM414.1 180.5h5.3v6.6h-5.3zM322.0 186.6h5.3v6.6h-5.3zM438.3 192.7h5.3v6.6h-5.3zM336.5 198.8h5.3v6.6h-5.3zM351.1 204.8h5.3v6.6h-5.3zM443.1 210.9h5.3v6.6h-5.3zM457.7 210.9h5.3v6.6h-5.3zM414.1 217.0h10.2v6.6h-10.2zM370.5 290.0h44.1v6.6h-44.1zM351.1 296.1h10.2v6.6h-10.2zM428.6 296.1h15.0v6.6h-15.0zM477.0 296.1h5.3v6.6h-5.3zM307.5 302.2h5.3v6.6h-5.3zM336.5 302.2h15.0v6.6h-15.0zM448.0 302.2h34.4v6.6h-34.4zM525.5 302.2h5.3v6.6h-5.3zM326.9 308.2h10.2v6.6h-10.2zM491.6 308.2h19.9v6.6h-19.9zM317.2 314.3h10.2v6.6h-10.2zM520.6 314.3h15.0v6.6h-15.0zM307.5 320.4h15.0v6.6h-15.0zM540.0 320.4h10.2v6.6h-10.2zM302.6 326.5h10.2v6.6h-10.2zM549.7 326.5h5.3v6.6h-5.3zM292.9 332.6h15.0v6.6h-15.0zM554.6 332.6h10.2v6.6h-10.2zM259.0 338.7h5.3v6.6h-5.3zM288.1 338.7h10.2v6.6h-10.2zM559.4 338.7h10.2v6.6h-10.2zM244.5 344.8h5.3v6.6h-5.3zM283.2 344.8h10.2v6.6h-10.2zM569.1 344.8h10.2v6.6h-10.2zM278.4 350.8h10.2v6.6h-10.2zM573.9 350.8h5.3v6.6h-5.3zM273.6 356.9h10.2v6.6h-10.2zM569.1 356.9h10.2v6.6h-10.2zM234.8 363.0h5.3v6.6h-5.3zM268.7 363.0h15.0v6.6h-15.0zM564.3 363.0h10.2v6.6h-10.2zM263.9 369.1h15.0v6.6h-15.0zM554.6 369.1h10.2v6.6h-10.2zM583.6 369.1h5.3v6.6h-5.3zM259.0 375.2h15.0v6.6h-15.0zM549.7 375.2h5.3v6.6h-5.3zM259.0 381.2h15.0v6.6h-15.0zM540.0 381.2h10.2v6.6h-10.2zM210.6 387.3h5.3v6.6h-5.3zM254.2 387.3h15.0v6.6h-15.0zM535.2 387.3h5.3v6.6h-5.3zM254.2 393.4h15.0v6.6h-15.0zM525.5 393.4h5.3v6.6h-5.3zM249.3 399.5h15.0v6.6h-15.0zM511.0 399.5h10.2v6.6h-10.2zM535.2 399.5h5.3v6.6h-5.3zM249.3 405.6h10.2v6.6h-10.2zM496.4 405.6h10.2v6.6h-10.2zM220.3 411.7h5.3v6.6h-5.3zM244.5 411.7h15.0v6.6h-15.0zM486.7 411.7h10.2v6.6h-10.2zM244.5 417.8h15.0v6.6h-15.0zM462.5 417.8h19.9v6.6h-19.9zM486.7 417.8h5.3v6.6h-5.3zM249.3 423.8h15.0v6.6h-15.0zM443.1 423.8h15.0v6.6h-15.0zM249.3 429.9h15.0v6.6h-15.0zM433.4 429.9h10.2v6.6h-10.2zM254.2 436.0h15.0v6.6h-15.0zM428.6 436.0h10.2v6.6h-10.2zM254.2 442.1h15.0v6.6h-15.0zM418.9 442.1h10.2v6.6h-10.2zM225.1 448.2h5.3v6.6h-5.3zM259.0 448.2h15.0v6.6h-15.0zM404.4 448.2h15.0v6.6h-15.0zM263.9 454.2h15.0v6.6h-15.0zM385.0 454.2h24.7v6.6h-24.7zM268.7 460.3h10.2v6.6h-10.2zM360.8 460.3h29.6v6.6h-29.6zM409.2 460.3h5.3v6.6h-5.3zM273.6 466.4h48.9v6.6h-48.9zM331.7 466.4h29.6v6.6h-29.6zM389.8 466.4h5.3v6.6h-5.3zM312.3 472.5h19.9v6.6h-19.9zM360.8 472.5h5.3v6.6h-5.3zM322.0 490.8h5.3v6.6h-5.3z"/>
<path fill="#a5f89e" d="M317.2 162.2h10.2v6.6h-10.2zM370.5 162.2h5.3v6.6h-5.3zM389.8 168.3h10.2v6.6h-10.2zM317.2 174.4h5.3v6.6h-5.3zM414.1 174.4h5.3v6.6h-5.3zM317.2 180.5h5.3v6.6h-5.3zM423.8 180.5h5.3v6.6h-5.3zM317.2 186.6h5.3v6.6h-5.3zM428.6 186.6h5.3v6.6h-5.3zM326.9 192.7h5.3v6.6h-5.3zM331.7 198.8h5.3v6.6h-5.3zM448.0 198.8h5.3v6.6h-5.3zM346.2 204.8h5.3v6.6h-5.3zM452.8 204.8h5.3v6.6h-5.3zM448.0 210.9h5.3v6.6h-5.3zM360.8 217.0h5.3v6.6h-5.3zM399.5 217.0h5.3v6.6h-5.3zM399.5 283.9h5.3v6.6h-5.3zM355.9 290.0h15.0v6.6h-15.0zM414.1 290.0h15.0v6.6h-15.0zM341.4 296.1h10.2v6.6h-10.2zM443.1 296.1h15.0v6.6h-15.0zM462.5 296.1h5.3v6.6h-5.3zM326.9 302.2h10.2v6.6h-10.2zM481.9 302.2h19.9v6.6h-19.9zM292.9 308.2h5.3v6.6h-5.3zM322.0 308.2h5.3v6.6h-5.3zM511.0 308.2h5.3v6.6h-5.3zM307.5 314.3h10.2v6.6h-10.2zM535.2 314.3h5.3v6.6h-5.3zM288.1 320.4h5.3v6.6h-5.3zM297.8 320.4h10.2v6.6h-10.2zM549.7 320.4h5.3v6.6h-5.3zM254.2 326.5h5.3v6.6h-5.3zM278.4 326.5h5.3v6.6h-5.3zM292.9 326.5h10.2v6.6h-10.2zM554.6 326.5h5.3v6.6h-5.3zM244.5 332.6h5.3v6.6h-5.3zM263.9 332.6h5.3v6.6h-5.3zM273.6 332.6h5.3v6.6h-5.3zM283.2 332.6h10.2v6.6h-10.2zM564.3 332.6h5.3v6.6h-5.3zM273.6 338.7h15.0v6.6h-15.0zM569.1 338.7h10.2v6.6h-10.2zM254.2 344.8h29.6v6.6h-29.6zM578.8 344.8h5.3v6.6h-5.3zM263.9 350.8h15.0v6.6h-15.0zM578.8 350.8h15.0v6.6h-15.0zM239.6 356.9h5.3v6.6h-5.3zM259.0 356.9h15.0v6.6h-15.0zM578.8 356.9h10.2v6.6h-10.2zM244.5 363.0h5.3v6.6h-5.3zM254.2 363.0h15.0v6.6h-15.0zM573.9 363.0h10.2v6.6h-10.2zM249.3 369.1h15.0v6.6h-15.0zM564.3 369.1h15.0v6.6h-15.0zM249.3 375.2h10.2v6.6h-10.2zM554.6 375.2h10.2v6.6h-10.2zM249.3 381.2h10.2v6.6h-10.2zM549.7 381.2h5.3v6.6h-5.3zM249.3 387.3h5.3v6.6h-5.3zM540.0 387.3h5.3v6.6h-5.3zM244.5 393.4h10.2v6.6h-10.2zM530.3 393.4h15.0v6.6h-15.0zM239.6 399.5h10.2v6.6h-10.2zM520.6 399.5h5.3v6.6h-5.3zM239.6 405.6h10.2v6.6h-10.2zM506.1 405.6h5.3v6.6h-5.3zM239.6 411.7h5.3v6.6h-5.3zM496.4 411.7h5.3v6.6h-5.3zM220.3 417.8h24.7v6.6h-24.7zM481.9 417.8h5.3v6.6h-5.3zM234.8 423.8h15.0v6.6h-15.0zM457.7 423.8h15.0v6.6h-15.0zM205.7 429.9h5.3v6.6h-5.3zM239.6 429.9h10.2v6.6h-10.2zM443.1 429.9h10.2v6.6h-10.2zM244.5 436.0h10.2v6.6h-10.2zM438.3 436.0h5.3v6.6h-5.3zM239.6 442.1h15.0v6.6h-15.0zM428.6 442.1h10.2v6.6h-10.2zM448.0 442.1h5.3v6.6h-5.3zM220.3 448.2h5.3v6.6h-5.3zM244.5 448.2h15.0v6.6h-15.0zM418.9 448.2h15.0v6.6h-15.0zM254.2 454.2h10.2v6.6h-10.2zM409.2 454.2h10.2v6.6h-10.2zM244.5 460.3h5.3v6.6h-5.3zM254.2 460.3h15.0v6.6h-15.0zM389.8 460.3h15.0v6.6h-15.0zM239.6 466.4h5.3v6.6h-5.3zM259.0 466.4h15.0v6.6h-15.0zM360.8 466.4h24.7v6.6h-24.7zM254.2 472.5h5.3v6.6h-5.3zM268.7 472.5h44.1v6.6h-44.1zM331.7 472.5h19.9v6.6h-19.9zM399.5 472.5h5.3v6.6h-5.3zM273.6 478.6h5.3v6.6h-5.3zM302.6 478.6h5.3v6.6h-5.3zM312.3 478.6h19.9v6.6h-19.9zM355.9 478.6h5.3v6.6h-5.3zM312.3 484.7h5.3v6.6h-5.3z"/>
<path fill="#b0f497" d="M341.4 156.2h5.3v6.6h-5.3zM375.3 162.2h5.3v6.6h-5.3zM404.4 168.3h5.3v6.6h-5.3zM312.3 174.4h5.3v6.6h-5.3zM409.2 174.4h5.3v6.6h-5.3zM418.9 180.5h5.3v6.6h-5.3zM433.4 186.6h5.3v6.6h-5.3zM317.2 192.7h10.2v6.6h-10.2zM443.1 192.7h5.3v6.6h-5.3zM326.9 198.8h5.3v6.6h-5.3zM452.8 198.8h5.3v6.6h-5.3zM331.7 204.8h5.3v6.6h-5.3zM341.4 204.8h5.3v6.6h-5.3zM360.8 210.9h5.3v6.6h-5.3zM404.4 217.0h10.2v6.6h-10.2zM438.3 217.0h5.3v6.6h-5.3zM360.8 283.9h5.3v6.6h-5.3zM380.1 283.9h5.3v6.6h-5.3zM428.6 290.0h5.3v6.6h-5.3zM457.7 296.1h5.3v6.6h-5.3zM467.4 296.1h10.2v6.6h-10.2zM491.6 296.1h5.3v6.6h-5.3zM312.3 302.2h5.3v6.6h-5.3zM322.0 302.2h5.3v6.6h-5.3zM317.2 308.2h5.3v6.6h-5.3zM515.8 308.2h5.3v6.6h-5.3zM540.0 308.2h5.3v6.6h-5.3zM302.6 314.3h5.3v6.6h-5.3zM540.0 314.3h5.3v6.6h-5.3zM292.9 320.4h5.3v6.6h-5.3zM554.6 320.4h5.3v6.6h-5.3zM259.0 326.5h5.3v6.6h-5.3zM283.2 326.5h10.2v6.6h-10.2zM559.4 326.5h5.3v6.6h-5.3zM239.6 332.6h5.3v6.6h-5.3zM249.3 332.6h5.3v6.6h-5.3zM259.0 332.6h5.3v6.6h-5.3zM278.4 332.6h5.3v6.6h-5.3zM569.1 332.6h10.2v6.6h-10.2zM583.6 332.6h5.3v6.6h-5.3zM249.3 338.7h5.3v6.6h-5.3zM263.9 338.7h10.2v6.6h-10.2zM578.8 338.7h15.0v6.6h-15.0zM598.2 338.7h5.3v6.6h-5.3zM583.6 344.8h5.3v6.6h-5.3zM598.2 344.8h5.3v6.6h-5.3zM244.5 350.8h19.9v6.6h-19.9zM225.1 356.9h5.3v6.6h-5.3zM254.2 356.9h5.3v6.6h-5.3zM249.3 363.0h5.3v6.6h-5.3zM244.5 369.1h5.3v6.6h-5.3zM239.6 375.2h10.2v6.6h-10.2zM564.3 375.2h5.3v6.6h-5.3zM229.9 381.2h19.9v6.6h-19.9zM244.5 387.3h5.3v6.6h-5.3zM544.9 387.3h10.2v6.6h-10.2zM234.8 393.4h10.2v6.6h-10.2zM234.8 399.5h5.3v6.6h-5.3zM525.5 399.5h5.3v6.6h-5.3zM234.8 405.6h5.3v6.6h-5.3zM511.0 405.6h5.3v6.6h-5.3zM234.8 411.7h5.3v6.6h-5.3zM491.6 417.8h5.3v6.6h-5.3zM229.9 423.8h5.3v6.6h-5.3zM472.2 423.8h10.2v6.6h-10.2zM234.8 429.9h5.3v6.6h-5.3zM452.8 429.9h5.3v6.6h-5.3zM467.4 429.9h5.3v6.6h-5.3zM225.1 436.0h5.3v6.6h-5.3zM234.8 436.0h10.2v6.6h-10.2zM443.1 436.0h5.3v6.6h-5.3zM234.8 442.1h5.3v6.6h-5.3zM239.6 454.2h15.0v6.6h-15.0zM418.9 454.2h5.3v6.6h-5.3zM249.3 460.3h5.3v6.6h-5.3zM404.4 460.3h5.3v6.6h-5.3zM414.1 460.3h5.3v6.6h-5.3zM385.0 466.4h5.3v6.6h-5.3zM394.7 466.4h5.3v6.6h-5.3zM249.3 472.5h5.3v6.6h-5.3zM263.9 472.5h5.3v6.6h-5.3zM355.9 472.5h5.3v6.6h-5.3zM375.3 472.5h5.3v6.6h-5.3zM263.9 478.6h10.2v6.6h-10.2zM292.9 478.6h10.2v6.6h-10.2zM307.5 478.6h5.3v6.6h-5.3zM331.7 478.6h5.3v6.6h-5.3zM365.6 478.6h5.3v6.6h-5.3zM375.3 478.6h5.3v6.6h-5.3zM283.2 484.7h5.3v6.6h-5.3zM326.9 484.7h10.2v6.6h-10.2z"/>
<path fill="#bbee90" d="M244.5 71.0h10.2v6.6h-10.2zM283.2 71.0h5.3v6.6h-5.3zM249.3 77.1h5.3v6.6h-5.3zM268.7 77.1h5.3v6.6h-5.3zM234.8 83.2h5.3v6.6h-5.3zM244.5 83.2h10.2v6.6h-10.2zM225.1 89.2h5.3v6.6h-5.3zM244.5 89.2h5.3v6.6h-5.3zM259.0 89.2h10.2v6.6h-10.2zM254.2 95.3h10.2v6.6h-10.2zM283.2 95.3h5.3v6.6h-5.3zM268.7 101.4h5.3v6.6h-5.3zM278.4 101.4h5.3v6.6h-5.3zM229.9 113.6h15.0v6.6h-15.0zM249.3 113.6h10.2v6.6h-10.2zM263.9 113.6h5.3v6.6h-5.3zM283.2 113.6h5.3v6.6h-5.3zM215.4 119.7h5.3v6.6h-5.3zM225.1 119.7h5.3v6.6h-5.3zM249.3 119.7h5.3v6.6h-5.3zM268.7 119.7h5.3v6.6h-5.3zM234.8 125.8h5.3v6.6h-5.3zM244.5 125.8h5.3v6.6h-5.3zM263.9 125.8h5.3v6.6h-5.3zM220.3 137.9h5.3v6.6h-5.3zM239.6 137.9h10.2v6.6h-10.2zM220.3 144.0h5.3v6.6h-5.3zM259.0 156.2h5.3v6.6h-5.3zM380.1 162.2h10.2v6.6h-10.2zM317.2 168.3h5.3v6.6h-5.3zM317.2 204.8h5.3v6.6h-5.3zM462.5 204.8h5.3v6.6h-5.3zM326.9 210.9h5.3v6.6h-5.3zM365.6 217.0h5.3v6.6h-5.3zM375.3 217.0h5.3v6.6h-5.3zM385.0 217.0h15.0v6.6h-15.0zM428.6 217.0h5.3v6.6h-5.3zM394.7 223.1h5.3v6.6h-5.3zM288.1 229.2h5.3v6.6h-5.3zM404.4 283.9h5.3v6.6h-5.3zM351.1 290.0h5.3v6.6h-5.3zM433.4 290.0h5.3v6.6h-5.3zM467.4 290.0h5.3v6.6h-5.3zM336.5 296.1h5.3v6.6h-5.3zM481.9 296.1h5.3v6.6h-5.3zM496.4 296.1h5.3v6.6h-5.3zM317.2 302.2h5.3v6.6h-5.3zM501.3 302.2h5.3v6.6h-5.3zM511.0 302.2h5.3v6.6h-5.3zM297.8 308.2h5.3v6.6h-5.3zM307.5 308.2h10.2v6.6h-10.2zM520.6 308.2h15.0v6.6h-15.0zM297.8 314.3h5.3v6.6h-5.3zM544.9 314.3h10.2v6.6h-10.2zM283.2 320.4h5.3v6.6h-5.3zM205.7 326.5h5.3v6.6h-5.3zM268.7 326.5h5.3v6.6h-5.3zM569.1 326.5h5.3v6.6h-5.3zM229.9 332.6h5.3v6.6h-5.3zM578.8 332.6h5.3v6.6h-5.3zM244.5 338.7h5.3v6.6h-5.3zM254.2 338.7h5.3v6.6h-5.3zM593.3 338.7h5.3v6.6h-5.3zM249.3 344.8h5.3v6.6h-5.3zM588.5 344.8h5.3v6.6h-5.3zM220.3 350.8h5.3v6.6h-5.3zM229.9 356.9h5.3v6.6h-5.3zM244.5 356.9h10.2v6.6h-10.2zM588.5 356.9h10.2v6.6h-10.2zM603.0 356.9h5.3v6.6h-5.3zM583.6 363.0h5.3v6.6h-5.3zM229.9 369.1h5.3v6.6h-5.3zM239.6 369.1h5.3v6.6h-5.3zM578.8 369.1h5.3v6.6h-5.3zM234.8 375.2h5.3v6.6h-5.3zM569.1 375.2h10.2v6.6h-10.2zM220.3 381.2h5.3v6.6h-5.3zM554.6 381.2h5.3v6.6h-5.3zM225.1 387.3h5.3v6.6h-5.3zM234.8 387.3h10.2v6.6h-10.2zM549.7 393.4h5.3v6.6h-5.3zM229.9 399.5h5.3v6.6h-5.3zM530.3 399.5h5.3v6.6h-5.3zM229.9 405.6h5.3v6.6h-5.3zM229.9 411.7h5.3v6.6h-5.3zM501.3 411.7h5.3v6.6h-5.3zM220.3 423.8h5.3v6.6h-5.3zM225.1 429.9h5.3v6.6h-5.3zM457.7 429.9h10.2v6.6h-10.2zM220.3 436.0h5.3v6.6h-5.3zM229.9 436.0h5.3v6.6h-5.3zM234.8 448.2h10.2v6.6h-10.2zM433.4 448.2h10.2v6.6h-10.2zM225.1 460.3h5.3v6.6h-5.3zM234.8 460.3h5.3v6.6h-5.3zM210.6 466.4h5.3v6.6h-5.3zM249.3 466.4h10.2v6.6h-10.2zM239.6 472.5h10.2v6.6h-10.2zM351.1 472.5h5.3v6.6h-5.3zM365.6 472.5h5.3v6.6h-5.3zM385.0 472.5h5.3v6.6h-5.3zM244.5 478.6h5.3v6.6h-5.3zM254.2 478.6h5.3v6.6h-5.3zM278.4 478.6h15.0v6.6h-15.0zM336.5 478.6h10.2v6.6h-10.2zM360.8 478.6h5.3v6.6h-5.3zM380.1 478.6h5.3v6.6h-5.3zM297.8 484.7h5.3v6.6h-5.3zM307.5 484.7h5.3v6.6h-5.3zM317.2 484.7h10.2v6.6h-10.2zM351.1 484.7h5.3v6.6h-5.3zM259.0 490.8h5.3v6.6h-5.3zM268.7 490.8h5.3v6.6h-5.3zM278.4 490.8h10.2v6.6h-10.2zM292.9 490.8h10.2v6.6h-10.2zM307.5 490.8h10.2v6.6h-10.2zM331.7 490.8h5.3v6.6h-5.3zM244.5 496.8h5.3v6.6h-5.3zM254.2 496.8h15.0v6.6h-15.0zM273.6 496.8h5.3v6.6h-5.3zM283.2 496.8h19.9v6.6h-19.9zM307.5 496.8h15.0v6.6h-15.0zM259.0 502.9h5.3v6.1h-5.3zM283.2 502.9h5.3v6.1h-5.3zM297.8 502.9h10.2v6.1h-10.2zM312.3 502.9h5.3v6.1h-5.3zM331.7 502.9h5.3v6.1h-5.3z"/>
<path fill="#c6e789" d="M225.1 71.0h5.3v6.6h-5.3zM234.8 71.0h5.3v6.6h-5.3zM254.2 71.0h5.3v6.6h-5.3zM263.9 71.0h10.2v6.6h-10.2zM278.4 71.0h5.3v6.6h-5.3zM225.1 77.1h5.3v6.6h-5.3zM244.5 77.1h5.3v6.6h-5.3zM254.2 77.1h5.3v6.6h-5.3zM273.6 77.1h5.3v6.6h-5.3zM283.2 77.1h5.3v6.6h-5.3zM254.2 83.2h5.3v6.6h-5.3zM268.7 83.2h5.3v6.6h-5.3zM220.3 89.2h5.3v6.6h-5.3zM234.8 89.2h5.3v6.6h-5.3zM249.3 89.2h5.3v6.6h-5.3zM225.1 95.3h5.3v6.6h-5.3zM249.3 95.3h5.3v6.6h-5.3zM273.6 95.3h5.3v6.6h-5.3zM234.8 101.4h10.2v6.6h-10.2zM249.3 101.4h5.3v6.6h-5.3zM259.0 101.4h5.3v6.6h-5.3zM215.4 107.5h5.3v6.6h-5.3zM229.9 107.5h5.3v6.6h-5.3zM239.6 107.5h5.3v6.6h-5.3zM263.9 107.5h10.2v6.6h-10.2zM278.4 107.5h5.3v6.6h-5.3zM220.3 119.7h5.3v6.6h-5.3zM229.9 119.7h5.3v6.6h-5.3zM259.0 119.7h5.3v6.6h-5.3zM254.2 125.8h5.3v6.6h-5.3zM273.6 125.8h15.0v6.6h-15.0zM220.3 131.8h5.3v6.6h-5.3zM239.6 131.8h15.0v6.6h-15.0zM263.9 131.8h5.3v6.6h-5.3zM249.3 137.9h5.3v6.6h-5.3zM263.9 137.9h10.2v6.6h-10.2zM229.9 144.0h5.3v6.6h-5.3zM239.6 144.0h19.9v6.6h-19.9zM273.6 144.0h5.3v6.6h-5.3zM234.8 150.1h5.3v6.6h-5.3zM259.0 150.1h5.3v6.6h-5.3zM268.7 150.1h10.2v6.6h-10.2zM239.6 156.2h5.3v6.6h-5.3zM254.2 156.2h5.3v6.6h-5.3zM351.1 156.2h5.3v6.6h-5.3zM288.1 168.3h5.3v6.6h-5.3zM307.5 168.3h5.3v6.6h-5.3zM414.1 168.3h5.3v6.6h-5.3zM302.6 174.4h5.3v6.6h-5.3zM244.5 180.5h5.3v6.6h-5.3zM312.3 180.5h5.3v6.6h-5.3zM428.6 180.5h5.3v6.6h-5.3zM229.9 186.6h5.3v6.6h-5.3zM288.1 186.6h5.3v6.6h-5.3zM229.9 192.7h5.3v6.6h-5.3zM448.0 192.7h5.3v6.6h-5.3zM220.3 198.8h5.3v6.6h-5.3zM234.8 198.8h5.3v6.6h-5.3zM322.0 198.8h5.3v6.6h-5.3zM346.2 210.9h5.3v6.6h-5.3zM452.8 210.9h5.3v6.6h-5.3zM273.6 223.1h5.3v6.6h-5.3zM229.9 229.2h5.3v6.6h-5.3zM288.1 271.8h5.3v6.6h-5.3zM389.8 283.9h5.3v6.6h-5.3zM443.1 283.9h5.3v6.6h-5.3zM457.7 290.0h5.3v6.6h-5.3zM506.1 296.1h5.3v6.6h-5.3zM263.9 308.2h5.3v6.6h-5.3zM288.1 308.2h5.3v6.6h-5.3zM302.6 308.2h5.3v6.6h-5.3zM278.4 314.3h5.3v6.6h-5.3zM288.1 314.3h10.2v6.6h-10.2zM239.6 320.4h5.3v6.6h-5.3zM249.3 320.4h10.2v6.6h-10.2zM278.4 320.4h5.3v6.6h-5.3zM239.6 326.5h5.3v6.6h-5.3zM564.3 326.5h5.3v6.6h-5.3zM268.7 332.6h5.3v6.6h-5.3zM588.5 332.6h5.3v6.6h-5.3zM603.0 338.7h5.3v6.6h-5.3zM239.6 344.8h5.3v6.6h-5.3zM593.3 344.8h5.3v6.6h-5.3zM225.1 350.8h5.3v6.6h-5.3zM234.8 350.8h10.2v6.6h-10.2zM593.3 350.8h5.3v6.6h-5.3zM220.3 356.9h5.3v6.6h-5.3zM234.8 356.9h5.3v6.6h-5.3zM239.6 363.0h5.3v6.6h-5.3zM588.5 363.0h5.3v6.6h-5.3zM603.0 363.0h5.3v6.6h-5.3zM229.9 375.2h5.3v6.6h-5.3zM215.4 381.2h5.3v6.6h-5.3zM559.4 381.2h15.0v6.6h-15.0zM229.9 387.3h5.3v6.6h-5.3zM225.1 399.5h5.3v6.6h-5.3zM225.1 405.6h5.3v6.6h-5.3zM210.6 411.7h5.3v6.6h-5.3zM210.6 417.8h5.3v6.6h-5.3zM210.6 423.8h10.2v6.6h-10.2zM229.9 429.9h5.3v6.6h-5.3zM438.3 442.1h5.3v6.6h-5.3zM234.8 454.2h5.3v6.6h-5.3zM215.4 460.3h5.3v6.6h-5.3zM229.9 460.3h5.3v6.6h-5.3zM418.9 460.3h5.3v6.6h-5.3zM225.1 466.4h5.3v6.6h-5.3zM244.5 466.4h5.3v6.6h-5.3zM399.5 466.4h5.3v6.6h-5.3zM229.9 472.5h10.2v6.6h-10.2zM259.0 472.5h5.3v6.6h-5.3zM389.8 472.5h5.3v6.6h-5.3zM414.1 472.5h5.3v6.6h-5.3zM259.0 478.6h5.3v6.6h-5.3zM346.2 478.6h10.2v6.6h-10.2zM385.0 478.6h5.3v6.6h-5.3zM409.2 478.6h5.3v6.6h-5.3zM268.7 484.7h15.0v6.6h-15.0zM288.1 484.7h5.3v6.6h-5.3zM370.5 484.7h5.3v6.6h-5.3zM244.5 490.8h5.3v6.6h-5.3zM254.2 490.8h5.3v6.6h-5.3zM263.9 490.8h5.3v6.6h-5.3zM288.1 490.8h5.3v6.6h-5.3zM302.6 490.8h5.3v6.6h-5.3zM317.2 490.8h5.3v6.6h-5.3zM249.3 496.8h5.3v6.6h-5.3zM268.7 496.8h5.3v6.6h-5.3zM302.6 496.8h5.3v6.6h-5.3zM322.0 496.8h5.3v6.6h-5.3zM331.7 496.8h5.3v6.6h-5.3zM249.3 502.9h5.3v6.1h-5.3zM263.9 502.9h15.0v6.1h-15.0zM288.1 502.9h10.2v6.1h-10.2zM317.2 502.9h5.3v6.1h-5.3zM326.9 502.9h5.3v6.1h-5.3zM336.5 502.9h5.3v6.1h-5.3z"/>
<path fill="#d1e082" d="M239.6 71.0h5.3v6.6h-5.3zM259.0 71.0h5.3v6.6h-5.3zM220.3 77.1h5.3v6.6h-5.3zM234.8 77.1h5.3v6.6h-5.3zM225.1 83.2h5.3v6.6h-5.3zM239.6 83.2h5.3v6.6h-5.3zM278.4 83.2h5.3v6.6h-5.3zM268.7 89.2h10.2v6.6h-10.2zM220.3 95.3h5.3v6.6h-5.3zM244.5 95.3h5.3v6.6h-5.3zM268.7 95.3h5.3v6.6h-5.3zM225.1 101.4h5.3v6.6h-5.3zM244.5 101.4h5.3v6.6h-5.3zM254.2 101.4h5.3v6.6h-5.3zM273.6 101.4h5.3v6.6h-5.3zM225.1 107.5h5.3v6.6h-5.3zM244.5 107.5h5.3v6.6h-5.3zM288.1 107.5h5.3v6.6h-5.3zM215.4 113.6h5.3v6.6h-5.3zM225.1 113.6h5.3v6.6h-5.3zM205.7 119.7h5.3v6.6h-5.3zM239.6 119.7h10.2v6.6h-10.2zM254.2 119.7h5.3v6.6h-5.3zM273.6 119.7h10.2v6.6h-10.2zM210.6 125.8h5.3v6.6h-5.3zM220.3 125.8h5.3v6.6h-5.3zM259.0 125.8h5.3v6.6h-5.3zM268.7 125.8h5.3v6.6h-5.3zM225.1 131.8h5.3v6.6h-5.3zM259.0 131.8h5.3v6.6h-5.3zM225.1 137.9h5.3v6.6h-5.3zM234.8 137.9h5.3v6.6h-5.3zM254.2 137.9h5.3v6.6h-5.3zM215.4 144.0h5.3v6.6h-5.3zM225.1 144.0h5.3v6.6h-5.3zM234.8 144.0h5.3v6.6h-5.3zM259.0 144.0h5.3v6.6h-5.3zM225.1 150.1h5.3v6.6h-5.3zM263.9 150.1h5.3v6.6h-5.3zM268.7 156.2h5.3v6.6h-5.3zM346.2 156.2h5.3v6.6h-5.3zM239.6 162.2h5.3v6.6h-5.3zM312.3 168.3h5.3v6.6h-5.3zM409.2 168.3h5.3v6.6h-5.3zM244.5 174.4h10.2v6.6h-10.2zM259.0 174.4h5.3v6.6h-5.3zM418.9 174.4h10.2v6.6h-10.2zM234.8 180.5h10.2v6.6h-10.2zM268.7 180.5h5.3v6.6h-5.3zM225.1 186.6h5.3v6.6h-5.3zM268.7 186.6h5.3v6.6h-5.3zM283.2 186.6h5.3v6.6h-5.3zM438.3 186.6h5.3v6.6h-5.3zM234.8 192.7h5.3v6.6h-5.3zM307.5 192.7h10.2v6.6h-10.2zM254.2 204.8h5.3v6.6h-5.3zM268.7 204.8h5.3v6.6h-5.3zM283.2 204.8h10.2v6.6h-10.2zM336.5 204.8h5.3v6.6h-5.3zM457.7 204.8h5.3v6.6h-5.3zM234.8 210.9h5.3v6.6h-5.3zM254.2 210.9h5.3v6.6h-5.3zM292.9 210.9h5.3v6.6h-5.3zM336.5 210.9h5.3v6.6h-5.3zM355.9 210.9h5.3v6.6h-5.3zM220.3 217.0h5.3v6.6h-5.3zM229.9 217.0h5.3v6.6h-5.3zM239.6 217.0h5.3v6.6h-5.3zM263.9 217.0h5.3v6.6h-5.3zM278.4 217.0h5.3v6.6h-5.3zM302.6 217.0h5.3v6.6h-5.3zM370.5 217.0h5.3v6.6h-5.3zM423.8 217.0h5.3v6.6h-5.3zM433.4 217.0h5.3v6.6h-5.3zM443.1 217.0h5.3v6.6h-5.3zM225.1 223.1h5.3v6.6h-5.3zM283.2 223.1h5.3v6.6h-5.3zM225.1 241.3h5.3v6.6h-5.3zM365.6 283.9h5.3v6.6h-5.3zM322.0 290.0h5.3v6.6h-5.3zM341.4 290.0h5.3v6.6h-5.3zM443.1 290.0h5.3v6.6h-5.3zM481.9 290.0h5.3v6.6h-5.3zM331.7 296.1h5.3v6.6h-5.3zM273.6 302.2h10.2v6.6h-10.2zM297.8 302.2h5.3v6.6h-5.3zM515.8 302.2h10.2v6.6h-10.2zM278.4 308.2h5.3v6.6h-5.3zM535.2 308.2h5.3v6.6h-5.3zM239.6 314.3h5.3v6.6h-5.3zM249.3 314.3h5.3v6.6h-5.3zM259.0 314.3h15.0v6.6h-15.0zM559.4 314.3h5.3v6.6h-5.3zM229.9 320.4h5.3v6.6h-5.3zM268.7 320.4h10.2v6.6h-10.2zM559.4 320.4h5.3v6.6h-5.3zM569.1 320.4h5.3v6.6h-5.3zM229.9 326.5h5.3v6.6h-5.3zM244.5 326.5h10.2v6.6h-10.2zM273.6 326.5h5.3v6.6h-5.3zM573.9 326.5h5.3v6.6h-5.3zM254.2 332.6h5.3v6.6h-5.3zM603.0 332.6h5.3v6.6h-5.3zM239.6 338.7h5.3v6.6h-5.3zM229.9 344.8h10.2v6.6h-10.2zM622.4 344.8h5.3v6.6h-5.3zM603.0 350.8h5.3v6.6h-5.3zM593.3 363.0h5.3v6.6h-5.3zM588.5 369.1h5.3v6.6h-5.3zM225.1 381.2h5.3v6.6h-5.3zM578.8 381.2h5.3v6.6h-5.3zM554.6 387.3h5.3v6.6h-5.3zM229.9 393.4h5.3v6.6h-5.3zM540.0 399.5h5.3v6.6h-5.3zM210.6 405.6h5.3v6.6h-5.3zM225.1 411.7h5.3v6.6h-5.3zM506.1 411.7h5.3v6.6h-5.3zM225.1 423.8h5.3v6.6h-5.3zM215.4 429.9h5.3v6.6h-5.3zM472.2 429.9h5.3v6.6h-5.3zM205.7 436.0h10.2v6.6h-10.2zM448.0 436.0h5.3v6.6h-5.3zM215.4 442.1h19.9v6.6h-19.9zM215.4 448.2h5.3v6.6h-5.3zM229.9 448.2h5.3v6.6h-5.3zM210.6 454.2h5.3v6.6h-5.3zM220.3 454.2h5.3v6.6h-5.3zM423.8 454.2h19.9v6.6h-19.9zM239.6 460.3h5.3v6.6h-5.3zM215.4 466.4h5.3v6.6h-5.3zM234.8 466.4h5.3v6.6h-5.3zM404.4 466.4h5.3v6.6h-5.3zM418.9 466.4h5.3v6.6h-5.3zM225.1 472.5h5.3v6.6h-5.3zM370.5 472.5h5.3v6.6h-5.3zM380.1 472.5h5.3v6.6h-5.3zM225.1 478.6h5.3v6.6h-5.3zM394.7 478.6h5.3v6.6h-5.3zM210.6 484.7h5.3v6.6h-5.3zM234.8 484.7h5.3v6.6h-5.3zM249.3 484.7h19.9v6.6h-19.9zM292.9 484.7h5.3v6.6h-5.3zM302.6 484.7h5.3v6.6h-5.3zM336.5 484.7h10.2v6.6h-10.2zM273.6 490.8h5.3v6.6h-5.3zM234.8 496.8h5.3v6.6h-5.3zM278.4 496.8h5.3v6.6h-5.3zM341.4 496.8h5.3v6.6h-5.3zM229.9 502.9h5.3v6.1h-5.3zM244.5 502.9h5.3v6.1h-5.3zM278.4 502.9h5.3v6.1h-5.3z"/>
<path fill="#dcd77b" d="M215.4 71.0h5.3v6.6h-5.3zM259.0 77.1h5.3v6.6h-5.3zM220.3 83.2h5.3v6.6h-5.3zM229.9 83.2h5.3v6.6h-5.3zM263.9 83.2h5.3v6.6h-5.3zM283.2 83.2h5.3v6.6h-5.3zM229.9 89.2h5.3v6.6h-5.3zM288.1 89.2h5.3v6.6h-5.3zM234.8 95.3h10.2v6.6h-10.2zM263.9 95.3h5.3v6.6h-5.3zM278.4 95.3h5.3v6.6h-5.3zM254.2 107.5h10.2v6.6h-10.2zM210.6 113.6h5.3v6.6h-5.3zM220.3 113.6h5.3v6.6h-5.3zM244.5 113.6h5.3v6.6h-5.3zM278.4 113.6h5.3v6.6h-5.3zM234.8 119.7h5.3v6.6h-5.3zM225.1 125.8h10.2v6.6h-10.2zM249.3 125.8h5.3v6.6h-5.3zM234.8 131.8h5.3v6.6h-5.3zM273.6 131.8h5.3v6.6h-5.3zM283.2 131.8h5.3v6.6h-5.3zM259.0 137.9h5.3v6.6h-5.3zM263.9 144.0h10.2v6.6h-10.2zM283.2 144.0h5.3v6.6h-5.3zM244.5 150.1h5.3v6.6h-5.3zM288.1 150.1h5.3v6.6h-5.3zM215.4 156.2h5.3v6.6h-5.3zM225.1 156.2h5.3v6.6h-5.3zM234.8 156.2h5.3v6.6h-5.3zM263.9 156.2h5.3v6.6h-5.3zM307.5 156.2h5.3v6.6h-5.3zM331.7 156.2h5.3v6.6h-5.3zM234.8 162.2h5.3v6.6h-5.3zM249.3 162.2h10.2v6.6h-10.2zM215.4 168.3h5.3v6.6h-5.3zM268.7 174.4h5.3v6.6h-5.3zM307.5 174.4h5.3v6.6h-5.3zM229.9 180.5h5.3v6.6h-5.3zM259.0 186.6h5.3v6.6h-5.3zM312.3 186.6h5.3v6.6h-5.3zM215.4 192.7h5.3v6.6h-5.3zM452.8 192.7h5.3v6.6h-5.3zM254.2 198.8h5.3v6.6h-5.3zM239.6 204.8h5.3v6.6h-5.3zM273.6 204.8h5.3v6.6h-5.3zM292.9 204.8h5.3v6.6h-5.3zM239.6 210.9h5.3v6.6h-5.3zM249.3 210.9h5.3v6.6h-5.3zM259.0 210.9h5.3v6.6h-5.3zM312.3 210.9h5.3v6.6h-5.3zM351.1 210.9h5.3v6.6h-5.3zM462.5 210.9h5.3v6.6h-5.3zM283.2 217.0h5.3v6.6h-5.3zM355.9 217.0h5.3v6.6h-5.3zM380.1 217.0h5.3v6.6h-5.3zM278.4 223.1h5.3v6.6h-5.3zM254.2 229.2h5.3v6.6h-5.3zM254.2 235.2h5.3v6.6h-5.3zM249.3 241.3h10.2v6.6h-10.2zM259.0 277.8h5.3v6.6h-5.3zM259.0 283.9h5.3v6.6h-5.3zM375.3 283.9h5.3v6.6h-5.3zM394.7 283.9h5.3v6.6h-5.3zM409.2 283.9h10.2v6.6h-10.2zM423.8 283.9h10.2v6.6h-10.2zM452.8 290.0h5.3v6.6h-5.3zM263.9 296.1h5.3v6.6h-5.3zM283.2 296.1h10.2v6.6h-10.2zM297.8 296.1h5.3v6.6h-5.3zM326.9 296.1h5.3v6.6h-5.3zM486.7 296.1h5.3v6.6h-5.3zM511.0 296.1h5.3v6.6h-5.3zM244.5 302.2h5.3v6.6h-5.3zM506.1 302.2h5.3v6.6h-5.3zM273.6 308.2h5.3v6.6h-5.3zM283.2 314.3h5.3v6.6h-5.3zM234.8 326.5h5.3v6.6h-5.3zM593.3 332.6h5.3v6.6h-5.3zM220.3 344.8h5.3v6.6h-5.3zM598.2 350.8h5.3v6.6h-5.3zM598.2 356.9h5.3v6.6h-5.3zM210.6 363.0h5.3v6.6h-5.3zM220.3 363.0h5.3v6.6h-5.3zM200.9 369.1h5.3v6.6h-5.3zM234.8 369.1h5.3v6.6h-5.3zM215.4 375.2h10.2v6.6h-10.2zM583.6 375.2h5.3v6.6h-5.3zM215.4 387.3h10.2v6.6h-10.2zM220.3 393.4h5.3v6.6h-5.3zM544.9 393.4h5.3v6.6h-5.3zM544.9 399.5h5.3v6.6h-5.3zM205.7 405.6h5.3v6.6h-5.3zM215.4 405.6h10.2v6.6h-10.2zM511.0 411.7h5.3v6.6h-5.3zM481.9 423.8h10.2v6.6h-10.2zM215.4 436.0h5.3v6.6h-5.3zM452.8 436.0h10.2v6.6h-10.2zM443.1 442.1h5.3v6.6h-5.3zM457.7 442.1h5.3v6.6h-5.3zM448.0 448.2h5.3v6.6h-5.3zM220.3 466.4h5.3v6.6h-5.3zM409.2 466.4h5.3v6.6h-5.3zM220.3 472.5h5.3v6.6h-5.3zM404.4 472.5h10.2v6.6h-10.2zM229.9 478.6h5.3v6.6h-5.3zM239.6 478.6h5.3v6.6h-5.3zM249.3 478.6h5.3v6.6h-5.3zM215.4 484.7h5.3v6.6h-5.3zM360.8 484.7h5.3v6.6h-5.3zM389.8 484.7h10.2v6.6h-10.2zM220.3 490.8h5.3v6.6h-5.3zM234.8 490.8h10.2v6.6h-10.2zM254.2 502.9h5.3v6.1h-5.3zM307.5 502.9h5.3v6.1h-5.3zM322.0 502.9h5.3v6.1h-5.3zM346.2 502.9h5.3v6.1h-5.3z"/>
<path fill="#e7cd73" d="M220.3 71.0h5.3v6.6h-5.3zM273.6 71.0h5.3v6.6h-5.3zM205.7 77.1h10.2v6.6h-10.2zM229.9 77.1h5.3v6.6h-5.3zM278.4 77.1h5.3v6.6h-5.3zM288.1 77.1h5.3v6.6h-5.3zM215.4 83.2h5.3v6.6h-5.3zM259.0 83.2h5.3v6.6h-5.3zM273.6 83.2h5.3v6.6h-5.3zM215.4 89.2h5.3v6.6h-5.3zM239.6 89.2h5.3v6.6h-5.3zM283.2 89.2h5.3v6.6h-5.3zM210.6 101.4h5.3v6.6h-5.3zM220.3 101.4h5.3v6.6h-5.3zM229.9 101.4h5.3v6.6h-5.3zM234.8 107.5h5.3v6.6h-5.3zM249.3 107.5h5.3v6.6h-5.3zM283.2 107.5h5.3v6.6h-5.3zM263.9 119.7h5.3v6.6h-5.3zM239.6 125.8h5.3v6.6h-5.3zM215.4 131.8h5.3v6.6h-5.3zM254.2 131.8h5.3v6.6h-5.3zM268.7 131.8h5.3v6.6h-5.3zM210.6 137.9h10.2v6.6h-10.2zM229.9 137.9h5.3v6.6h-5.3zM278.4 137.9h5.3v6.6h-5.3zM210.6 144.0h5.3v6.6h-5.3zM229.9 150.1h5.3v6.6h-5.3zM278.4 150.1h5.3v6.6h-5.3zM273.6 156.2h5.3v6.6h-5.3zM360.8 156.2h5.3v6.6h-5.3zM375.3 156.2h5.3v6.6h-5.3zM229.9 162.2h5.3v6.6h-5.3zM244.5 162.2h5.3v6.6h-5.3zM263.9 162.2h5.3v6.6h-5.3zM283.2 162.2h5.3v6.6h-5.3zM389.8 162.2h10.2v6.6h-10.2zM220.3 168.3h5.3v6.6h-5.3zM234.8 168.3h5.3v6.6h-5.3zM234.8 174.4h5.3v6.6h-5.3zM283.2 174.4h5.3v6.6h-5.3zM433.4 174.4h5.3v6.6h-5.3zM249.3 180.5h5.3v6.6h-5.3zM263.9 180.5h5.3v6.6h-5.3zM283.2 180.5h5.3v6.6h-5.3zM292.9 180.5h5.3v6.6h-5.3zM438.3 180.5h5.3v6.6h-5.3zM273.6 186.6h5.3v6.6h-5.3zM292.9 186.6h5.3v6.6h-5.3zM225.1 192.7h5.3v6.6h-5.3zM273.6 192.7h5.3v6.6h-5.3zM283.2 192.7h10.2v6.6h-10.2zM457.7 192.7h5.3v6.6h-5.3zM215.4 204.8h5.3v6.6h-5.3zM225.1 204.8h5.3v6.6h-5.3zM259.0 204.8h5.3v6.6h-5.3zM225.1 210.9h10.2v6.6h-10.2zM273.6 210.9h5.3v6.6h-5.3zM322.0 210.9h5.3v6.6h-5.3zM341.4 210.9h5.3v6.6h-5.3zM288.1 217.0h5.3v6.6h-5.3zM239.6 223.1h5.3v6.6h-5.3zM380.1 223.1h5.3v6.6h-5.3zM239.6 229.2h5.3v6.6h-5.3zM249.3 229.2h5.3v6.6h-5.3zM292.9 229.2h5.3v6.6h-5.3zM229.9 235.2h5.3v6.6h-5.3zM278.4 235.2h5.3v6.6h-5.3zM210.6 241.3h5.3v6.6h-5.3zM234.8 241.3h5.3v6.6h-5.3zM259.0 241.3h5.3v6.6h-5.3zM244.5 247.4h5.3v6.6h-5.3zM283.2 277.8h5.3v6.6h-5.3zM317.2 277.8h5.3v6.6h-5.3zM288.1 283.9h5.3v6.6h-5.3zM307.5 283.9h5.3v6.6h-5.3zM385.0 283.9h5.3v6.6h-5.3zM418.9 283.9h5.3v6.6h-5.3zM292.9 290.0h5.3v6.6h-5.3zM326.9 290.0h5.3v6.6h-5.3zM346.2 290.0h5.3v6.6h-5.3zM438.3 290.0h5.3v6.6h-5.3zM462.5 290.0h5.3v6.6h-5.3zM472.2 290.0h10.2v6.6h-10.2zM312.3 296.1h5.3v6.6h-5.3zM302.6 302.2h5.3v6.6h-5.3zM530.3 302.2h5.3v6.6h-5.3zM259.0 308.2h5.3v6.6h-5.3zM554.6 314.3h5.3v6.6h-5.3zM215.4 320.4h5.3v6.6h-5.3zM263.9 320.4h5.3v6.6h-5.3zM564.3 320.4h5.3v6.6h-5.3zM229.9 338.7h5.3v6.6h-5.3zM229.9 350.8h5.3v6.6h-5.3zM612.7 350.8h15.0v6.6h-15.0zM229.9 363.0h5.3v6.6h-5.3zM612.7 363.0h5.3v6.6h-5.3zM225.1 375.2h5.3v6.6h-5.3zM588.5 375.2h5.3v6.6h-5.3zM215.4 393.4h5.3v6.6h-5.3zM554.6 393.4h5.3v6.6h-5.3zM215.4 399.5h5.3v6.6h-5.3zM525.5 405.6h5.3v6.6h-5.3zM210.6 429.9h5.3v6.6h-5.3zM220.3 429.9h5.3v6.6h-5.3zM462.5 436.0h5.3v6.6h-5.3zM225.1 454.2h5.3v6.6h-5.3zM220.3 460.3h5.3v6.6h-5.3zM423.8 466.4h5.3v6.6h-5.3zM215.4 478.6h5.3v6.6h-5.3zM239.6 484.7h5.3v6.6h-5.3zM196.0 490.8h5.3v6.6h-5.3zM229.9 490.8h5.3v6.6h-5.3zM336.5 490.8h5.3v6.6h-5.3zM326.9 496.8h5.3v6.6h-5.3zM360.8 496.8h5.3v6.6h-5.3z"/>
<path fill="#f1c36b" d="M229.9 71.0h5.3v6.6h-5.3zM288.1 71.0h5.3v6.6h-5.3zM239.6 77.1h5.3v6.6h-5.3zM288.1 83.2h5.3v6.6h-5.3zM210.6 89.2h5.3v6.6h-5.3zM278.4 89.2h5.3v6.6h-5.3zM210.6 95.3h10.2v6.6h-10.2zM229.9 95.3h5.3v6.6h-5.3zM288.1 95.3h5.3v6.6h-5.3zM215.4 101.4h5.3v6.6h-5.3zM263.9 101.4h5.3v6.6h-5.3zM283.2 101.4h5.3v6.6h-5.3zM273.6 107.5h5.3v6.6h-5.3zM259.0 113.6h5.3v6.6h-5.3zM215.4 125.8h5.3v6.6h-5.3zM288.1 125.8h5.3v6.6h-5.3zM278.4 131.8h5.3v6.6h-5.3zM283.2 137.9h5.3v6.6h-5.3zM278.4 144.0h5.3v6.6h-5.3zM239.6 150.1h5.3v6.6h-5.3zM249.3 150.1h10.2v6.6h-10.2zM283.2 150.1h5.3v6.6h-5.3zM351.1 150.1h5.3v6.6h-5.3zM249.3 156.2h5.3v6.6h-5.3zM288.1 156.2h5.3v6.6h-5.3zM336.5 156.2h5.3v6.6h-5.3zM225.1 162.2h5.3v6.6h-5.3zM307.5 162.2h10.2v6.6h-10.2zM404.4 162.2h5.3v6.6h-5.3zM239.6 168.3h5.3v6.6h-5.3zM263.9 168.3h5.3v6.6h-5.3zM278.4 168.3h5.3v6.6h-5.3zM292.9 168.3h5.3v6.6h-5.3zM225.1 174.4h5.3v6.6h-5.3zM254.2 174.4h5.3v6.6h-5.3zM273.6 174.4h10.2v6.6h-10.2zM215.4 180.5h5.3v6.6h-5.3zM225.1 180.5h5.3v6.6h-5.3zM254.2 180.5h5.3v6.6h-5.3zM288.1 180.5h5.3v6.6h-5.3zM302.6 180.5h5.3v6.6h-5.3zM234.8 186.6h5.3v6.6h-5.3zM263.9 186.6h5.3v6.6h-5.3zM210.6 192.7h5.3v6.6h-5.3zM239.6 192.7h5.3v6.6h-5.3zM249.3 192.7h5.3v6.6h-5.3zM259.0 192.7h5.3v6.6h-5.3zM210.6 198.8h5.3v6.6h-5.3zM229.9 198.8h5.3v6.6h-5.3zM249.3 198.8h5.3v6.6h-5.3zM268.7 198.8h5.3v6.6h-5.3zM292.9 198.8h5.3v6.6h-5.3zM317.2 198.8h5.3v6.6h-5.3zM462.5 198.8h5.3v6.6h-5.3zM234.8 204.8h5.3v6.6h-5.3zM322.0 204.8h10.2v6.6h-10.2zM210.6 210.9h10.2v6.6h-10.2zM268.7 210.9h5.3v6.6h-5.3zM278.4 210.9h5.3v6.6h-5.3zM234.8 217.0h5.3v6.6h-5.3zM244.5 217.0h5.3v6.6h-5.3zM341.4 217.0h5.3v6.6h-5.3zM229.9 223.1h5.3v6.6h-5.3zM259.0 223.1h10.2v6.6h-10.2zM365.6 223.1h5.3v6.6h-5.3zM385.0 223.1h5.3v6.6h-5.3zM263.9 229.2h15.0v6.6h-15.0zM283.2 229.2h5.3v6.6h-5.3zM263.9 235.2h5.3v6.6h-5.3zM292.9 235.2h5.3v6.6h-5.3zM263.9 241.3h5.3v6.6h-5.3zM254.2 259.6h5.3v6.6h-5.3zM268.7 265.7h5.3v6.6h-5.3zM292.9 265.7h5.3v6.6h-5.3zM249.3 271.8h5.3v6.6h-5.3zM263.9 271.8h5.3v6.6h-5.3zM263.9 277.8h10.2v6.6h-10.2zM297.8 283.9h5.3v6.6h-5.3zM448.0 283.9h5.3v6.6h-5.3zM467.4 283.9h5.3v6.6h-5.3zM278.4 290.0h5.3v6.6h-5.3zM297.8 290.0h5.3v6.6h-5.3zM448.0 290.0h5.3v6.6h-5.3zM244.5 296.1h5.3v6.6h-5.3zM268.7 296.1h5.3v6.6h-5.3zM322.0 296.1h5.3v6.6h-5.3zM210.6 302.2h5.3v6.6h-5.3zM229.9 302.2h10.2v6.6h-10.2zM259.0 302.2h5.3v6.6h-5.3zM268.7 302.2h5.3v6.6h-5.3zM283.2 302.2h5.3v6.6h-5.3zM292.9 302.2h5.3v6.6h-5.3zM544.9 308.2h5.3v6.6h-5.3zM210.6 314.3h5.3v6.6h-5.3zM229.9 314.3h5.3v6.6h-5.3zM254.2 314.3h5.3v6.6h-5.3zM220.3 326.5h5.3v6.6h-5.3zM578.8 326.5h5.3v6.6h-5.3zM598.2 326.5h5.3v6.6h-5.3zM607.9 326.5h5.3v6.6h-5.3zM220.3 332.6h5.3v6.6h-5.3zM234.8 332.6h5.3v6.6h-5.3zM598.2 332.6h5.3v6.6h-5.3zM205.7 338.7h5.3v6.6h-5.3zM617.5 338.7h5.3v6.6h-5.3zM225.1 344.8h5.3v6.6h-5.3zM603.0 344.8h5.3v6.6h-5.3zM225.1 363.0h5.3v6.6h-5.3zM598.2 363.0h5.3v6.6h-5.3zM617.5 363.0h5.3v6.6h-5.3zM220.3 369.1h5.3v6.6h-5.3zM593.3 369.1h5.3v6.6h-5.3zM200.9 381.2h10.2v6.6h-10.2zM196.0 387.3h5.3v6.6h-5.3zM200.9 417.8h5.3v6.6h-5.3zM215.4 417.8h5.3v6.6h-5.3zM496.4 417.8h10.2v6.6h-10.2zM496.4 423.8h5.3v6.6h-5.3zM215.4 454.2h5.3v6.6h-5.3zM438.3 460.3h5.3v6.6h-5.3zM389.8 478.6h5.3v6.6h-5.3zM244.5 484.7h5.3v6.6h-5.3zM346.2 484.7h5.3v6.6h-5.3zM225.1 490.8h5.3v6.6h-5.3zM326.9 490.8h5.3v6.6h-5.3zM225.1 496.8h5.3v6.6h-5.3zM346.2 496.8h5.3v6.6h-5.3zM234.8 502.9h5.3v6.1h-5.3z"/>
<path fill="#fcb764" d="M205.7 71.0h5.3v6.6h-5.3zM215.4 77.1h5.3v6.6h-5.3zM292.9 83.2h5.3v6.6h-5.3zM254.2 89.2h5.3v6.6h-5.3zM200.9 107.5h5.3v6.6h-5.3zM268.7 113.6h10.2v6.6h-10.2zM288.1 113.6h5.3v6.6h-5.3zM210.6 119.7h5.3v6.6h-5.3zM288.1 119.7h5.3v6.6h-5.3zM273.6 137.9h5.3v6.6h-5.3zM288.1 137.9h5.3v6.6h-5.3zM288.1 144.0h5.3v6.6h-5.3zM200.9 150.1h5.3v6.6h-5.3zM210.6 150.1h5.3v6.6h-5.3zM220.3 150.1h5.3v6.6h-5.3zM312.3 150.1h5.3v6.6h-5.3zM220.3 156.2h5.3v6.6h-5.3zM229.9 156.2h5.3v6.6h-5.3zM317.2 156.2h5.3v6.6h-5.3zM326.9 156.2h5.3v6.6h-5.3zM215.4 162.2h5.3v6.6h-5.3zM273.6 162.2h5.3v6.6h-5.3zM288.1 162.2h5.3v6.6h-5.3zM399.5 162.2h5.3v6.6h-5.3zM225.1 168.3h5.3v6.6h-5.3zM249.3 168.3h5.3v6.6h-5.3zM268.7 168.3h5.3v6.6h-5.3zM302.6 168.3h5.3v6.6h-5.3zM399.5 168.3h5.3v6.6h-5.3zM418.9 168.3h5.3v6.6h-5.3zM239.6 174.4h5.3v6.6h-5.3zM288.1 174.4h5.3v6.6h-5.3zM443.1 174.4h5.3v6.6h-5.3zM278.4 180.5h5.3v6.6h-5.3zM307.5 180.5h5.3v6.6h-5.3zM433.4 180.5h5.3v6.6h-5.3zM215.4 186.6h5.3v6.6h-5.3zM452.8 186.6h5.3v6.6h-5.3zM263.9 192.7h5.3v6.6h-5.3zM278.4 192.7h5.3v6.6h-5.3zM302.6 192.7h5.3v6.6h-5.3zM225.1 198.8h5.3v6.6h-5.3zM239.6 198.8h10.2v6.6h-10.2zM259.0 198.8h5.3v6.6h-5.3zM457.7 198.8h5.3v6.6h-5.3zM467.4 198.8h5.3v6.6h-5.3zM244.5 204.8h5.3v6.6h-5.3zM278.4 204.8h5.3v6.6h-5.3zM312.3 204.8h5.3v6.6h-5.3zM283.2 210.9h10.2v6.6h-10.2zM254.2 217.0h5.3v6.6h-5.3zM292.9 217.0h5.3v6.6h-5.3zM317.2 217.0h5.3v6.6h-5.3zM452.8 217.0h5.3v6.6h-5.3zM249.3 223.1h10.2v6.6h-10.2zM268.7 223.1h5.3v6.6h-5.3zM389.8 223.1h5.3v6.6h-5.3zM244.5 229.2h5.3v6.6h-5.3zM278.4 229.2h5.3v6.6h-5.3zM297.8 229.2h5.3v6.6h-5.3zM312.3 229.2h5.3v6.6h-5.3zM244.5 235.2h5.3v6.6h-5.3zM273.6 235.2h5.3v6.6h-5.3zM288.1 235.2h5.3v6.6h-5.3zM302.6 235.2h5.3v6.6h-5.3zM273.6 241.3h15.0v6.6h-15.0zM292.9 241.3h5.3v6.6h-5.3zM259.0 247.4h10.2v6.6h-10.2zM307.5 247.4h5.3v6.6h-5.3zM229.9 253.5h5.3v6.6h-5.3zM268.7 253.5h5.3v6.6h-5.3zM234.8 259.6h5.3v6.6h-5.3zM283.2 265.7h5.3v6.6h-5.3zM283.2 271.8h5.3v6.6h-5.3zM278.4 277.8h5.3v6.6h-5.3zM302.6 277.8h5.3v6.6h-5.3zM322.0 277.8h5.3v6.6h-5.3zM414.1 277.8h5.3v6.6h-5.3zM254.2 283.9h5.3v6.6h-5.3zM302.6 283.9h5.3v6.6h-5.3zM331.7 283.9h5.3v6.6h-5.3zM351.1 283.9h10.2v6.6h-10.2zM370.5 283.9h5.3v6.6h-5.3zM433.4 283.9h5.3v6.6h-5.3zM452.8 283.9h5.3v6.6h-5.3zM477.0 283.9h5.3v6.6h-5.3zM249.3 290.0h5.3v6.6h-5.3zM259.0 290.0h19.9v6.6h-19.9zM312.3 290.0h5.3v6.6h-5.3zM249.3 296.1h5.3v6.6h-5.3zM292.9 296.1h5.3v6.6h-5.3zM302.6 296.1h5.3v6.6h-5.3zM501.3 296.1h5.3v6.6h-5.3zM239.6 302.2h5.3v6.6h-5.3zM249.3 302.2h10.2v6.6h-10.2zM263.9 302.2h5.3v6.6h-5.3zM535.2 302.2h5.3v6.6h-5.3zM254.2 308.2h5.3v6.6h-5.3zM283.2 308.2h5.3v6.6h-5.3zM244.5 320.4h5.3v6.6h-5.3zM259.0 320.4h5.3v6.6h-5.3zM573.9 320.4h5.3v6.6h-5.3zM205.7 332.6h10.2v6.6h-10.2zM215.4 338.7h10.2v6.6h-10.2zM607.9 344.8h5.3v6.6h-5.3zM215.4 350.8h5.3v6.6h-5.3zM607.9 350.8h5.3v6.6h-5.3zM205.7 356.9h5.3v6.6h-5.3zM215.4 356.9h5.3v6.6h-5.3zM215.4 363.0h5.3v6.6h-5.3zM215.4 369.1h5.3v6.6h-5.3zM225.1 369.1h5.3v6.6h-5.3zM603.0 369.1h5.3v6.6h-5.3zM578.8 375.2h5.3v6.6h-5.3zM598.2 375.2h5.3v6.6h-5.3zM573.9 381.2h5.3v6.6h-5.3zM593.3 381.2h5.3v6.6h-5.3zM569.1 387.3h5.3v6.6h-5.3zM210.6 393.4h5.3v6.6h-5.3zM530.3 405.6h5.3v6.6h-5.3zM200.9 411.7h10.2v6.6h-10.2zM515.8 411.7h5.3v6.6h-5.3zM205.7 417.8h5.3v6.6h-5.3zM452.8 442.1h5.3v6.6h-5.3zM205.7 448.2h5.3v6.6h-5.3zM452.8 448.2h5.3v6.6h-5.3zM196.0 454.2h5.3v6.6h-5.3zM423.8 460.3h5.3v6.6h-5.3zM210.6 472.5h5.3v6.6h-5.3zM210.6 478.6h5.3v6.6h-5.3zM220.3 478.6h5.3v6.6h-5.3zM234.8 478.6h5.3v6.6h-5.3zM370.5 478.6h5.3v6.6h-5.3zM215.4 490.8h5.3v6.6h-5.3zM341.4 490.8h5.3v6.6h-5.3zM229.9 496.8h5.3v6.6h-5.3zM239.6 496.8h5.3v6.6h-5.3zM355.9 496.8h5.3v6.6h-5.3zM370.5 502.9h5.3v6.1h-5.3z"/>
<path fill="#ffab5c" d="M210.6 71.0h5.3v6.6h-5.3zM263.9 77.1h5.3v6.6h-5.3zM200.9 89.2h5.3v6.6h-5.3zM205.7 95.3h5.3v6.6h-5.3zM220.3 107.5h5.3v6.6h-5.3zM200.9 113.6h5.3v6.6h-5.3zM205.7 131.8h10.2v6.6h-10.2zM229.9 131.8h5.3v6.6h-5.3zM200.9 137.9h10.2v6.6h-10.2zM205.7 144.0h5.3v6.6h-5.3zM215.4 150.1h5.3v6.6h-5.3zM360.8 150.1h5.3v6.6h-5.3zM244.5 156.2h5.3v6.6h-5.3zM278.4 156.2h5.3v6.6h-5.3zM302.6 156.2h5.3v6.6h-5.3zM355.9 156.2h5.3v6.6h-5.3zM220.3 162.2h5.3v6.6h-5.3zM259.0 162.2h5.3v6.6h-5.3zM278.4 162.2h5.3v6.6h-5.3zM409.2 162.2h5.3v6.6h-5.3zM205.7 168.3h5.3v6.6h-5.3zM254.2 168.3h10.2v6.6h-10.2zM273.6 168.3h5.3v6.6h-5.3zM263.9 174.4h5.3v6.6h-5.3zM210.6 186.6h5.3v6.6h-5.3zM244.5 186.6h5.3v6.6h-5.3zM278.4 186.6h5.3v6.6h-5.3zM443.1 186.6h5.3v6.6h-5.3zM462.5 186.6h5.3v6.6h-5.3zM268.7 192.7h5.3v6.6h-5.3zM297.8 192.7h5.3v6.6h-5.3zM472.2 192.7h5.3v6.6h-5.3zM263.9 198.8h5.3v6.6h-5.3zM278.4 198.8h10.2v6.6h-10.2zM297.8 198.8h5.3v6.6h-5.3zM307.5 198.8h5.3v6.6h-5.3zM249.3 204.8h5.3v6.6h-5.3zM477.0 204.8h5.3v6.6h-5.3zM244.5 210.9h5.3v6.6h-5.3zM210.6 217.0h5.3v6.6h-5.3zM225.1 217.0h5.3v6.6h-5.3zM249.3 217.0h5.3v6.6h-5.3zM326.9 217.0h5.3v6.6h-5.3zM448.0 217.0h5.3v6.6h-5.3zM457.7 217.0h5.3v6.6h-5.3zM234.8 223.1h5.3v6.6h-5.3zM244.5 223.1h5.3v6.6h-5.3zM292.9 223.1h5.3v6.6h-5.3zM307.5 223.1h10.2v6.6h-10.2zM404.4 223.1h10.2v6.6h-10.2zM234.8 229.2h5.3v6.6h-5.3zM259.0 229.2h5.3v6.6h-5.3zM215.4 235.2h5.3v6.6h-5.3zM336.5 235.2h5.3v6.6h-5.3zM239.6 241.3h5.3v6.6h-5.3zM268.7 241.3h5.3v6.6h-5.3zM288.1 241.3h5.3v6.6h-5.3zM307.5 241.3h5.3v6.6h-5.3zM317.2 241.3h5.3v6.6h-5.3zM205.7 247.4h5.3v6.6h-5.3zM249.3 247.4h5.3v6.6h-5.3zM317.2 247.4h5.3v6.6h-5.3zM215.4 253.5h5.3v6.6h-5.3zM326.9 253.5h5.3v6.6h-5.3zM239.6 259.6h5.3v6.6h-5.3zM263.9 259.6h5.3v6.6h-5.3zM326.9 259.6h5.3v6.6h-5.3zM220.3 265.7h5.3v6.6h-5.3zM263.9 265.7h5.3v6.6h-5.3zM312.3 265.7h5.3v6.6h-5.3zM336.5 265.7h5.3v6.6h-5.3zM375.3 265.7h5.3v6.6h-5.3zM394.7 265.7h5.3v6.6h-5.3zM268.7 271.8h5.3v6.6h-5.3zM229.9 277.8h5.3v6.6h-5.3zM239.6 277.8h5.3v6.6h-5.3zM249.3 283.9h5.3v6.6h-5.3zM278.4 283.9h5.3v6.6h-5.3zM438.3 283.9h5.3v6.6h-5.3zM457.7 283.9h5.3v6.6h-5.3zM254.2 290.0h5.3v6.6h-5.3zM254.2 296.1h5.3v6.6h-5.3zM273.6 296.1h10.2v6.6h-10.2zM515.8 296.1h5.3v6.6h-5.3zM196.0 302.2h5.3v6.6h-5.3zM225.1 302.2h5.3v6.6h-5.3zM288.1 302.2h5.3v6.6h-5.3zM239.6 308.2h5.3v6.6h-5.3zM249.3 308.2h5.3v6.6h-5.3zM205.7 314.3h5.3v6.6h-5.3zM215.4 314.3h5.3v6.6h-5.3zM244.5 314.3h5.3v6.6h-5.3zM273.6 314.3h5.3v6.6h-5.3zM196.0 326.5h5.3v6.6h-5.3zM210.6 326.5h5.3v6.6h-5.3zM263.9 326.5h5.3v6.6h-5.3zM225.1 332.6h5.3v6.6h-5.3zM607.9 332.6h5.3v6.6h-5.3zM234.8 338.7h5.3v6.6h-5.3zM612.7 338.7h5.3v6.6h-5.3zM205.7 344.8h10.2v6.6h-10.2zM612.7 344.8h5.3v6.6h-5.3zM612.7 356.9h5.3v6.6h-5.3zM607.9 363.0h5.3v6.6h-5.3zM205.7 369.1h10.2v6.6h-10.2zM196.0 375.2h5.3v6.6h-5.3zM564.3 387.3h5.3v6.6h-5.3zM225.1 393.4h5.3v6.6h-5.3zM559.4 393.4h5.3v6.6h-5.3zM215.4 411.7h5.3v6.6h-5.3zM467.4 436.0h5.3v6.6h-5.3zM210.6 442.1h5.3v6.6h-5.3zM462.5 442.1h5.3v6.6h-5.3zM196.0 448.2h5.3v6.6h-5.3zM210.6 448.2h5.3v6.6h-5.3zM443.1 448.2h5.3v6.6h-5.3zM443.1 454.2h5.3v6.6h-5.3zM205.7 460.3h10.2v6.6h-10.2zM433.4 460.3h5.3v6.6h-5.3zM196.0 472.5h5.3v6.6h-5.3zM229.9 484.7h5.3v6.6h-5.3zM355.9 484.7h5.3v6.6h-5.3zM365.6 484.7h5.3v6.6h-5.3zM249.3 490.8h5.3v6.6h-5.3zM210.6 496.8h5.3v6.6h-5.3zM351.1 496.8h5.3v6.6h-5.3zM220.3 502.9h5.3v6.1h-5.3zM239.6 502.9h5.3v6.1h-5.3zM341.4 502.9h5.3v6.1h-5.3zM360.8 502.9h5.3v6.1h-5.3z"/>
<path fill="#ff9e54" d="M205.7 83.2h10.2v6.6h-10.2zM205.7 89.2h5.3v6.6h-5.3zM200.9 95.3h5.3v6.6h-5.3zM205.7 101.4h5.3v6.6h-5.3zM288.1 101.4h5.3v6.6h-5.3zM205.7 125.8h5.3v6.6h-5.3zM331.7 150.1h5.3v6.6h-5.3zM370.5 156.2h5.3v6.6h-5.3zM385.0 156.2h5.3v6.6h-5.3zM268.7 162.2h5.3v6.6h-5.3zM244.5 168.3h5.3v6.6h-5.3zM210.6 174.4h5.3v6.6h-5.3zM229.9 174.4h5.3v6.6h-5.3zM220.3 180.5h5.3v6.6h-5.3zM259.0 180.5h5.3v6.6h-5.3zM443.1 180.5h5.3v6.6h-5.3zM249.3 186.6h10.2v6.6h-10.2zM297.8 186.6h10.2v6.6h-10.2zM448.0 186.6h5.3v6.6h-5.3zM244.5 192.7h5.3v6.6h-5.3zM254.2 192.7h5.3v6.6h-5.3zM462.5 192.7h10.2v6.6h-10.2zM312.3 198.8h5.3v6.6h-5.3zM210.6 204.8h5.3v6.6h-5.3zM220.3 204.8h5.3v6.6h-5.3zM263.9 204.8h5.3v6.6h-5.3zM307.5 204.8h5.3v6.6h-5.3zM467.4 204.8h10.2v6.6h-10.2zM297.8 210.9h10.2v6.6h-10.2zM331.7 210.9h5.3v6.6h-5.3zM467.4 210.9h10.2v6.6h-10.2zM215.4 217.0h5.3v6.6h-5.3zM259.0 217.0h5.3v6.6h-5.3zM297.8 217.0h5.3v6.6h-5.3zM312.3 217.0h5.3v6.6h-5.3zM351.1 217.0h5.3v6.6h-5.3zM210.6 223.1h5.3v6.6h-5.3zM297.8 223.1h10.2v6.6h-10.2zM370.5 223.1h5.3v6.6h-5.3zM414.1 223.1h5.3v6.6h-5.3zM215.4 229.2h15.0v6.6h-15.0zM249.3 235.2h5.3v6.6h-5.3zM259.0 235.2h5.3v6.6h-5.3zM268.7 235.2h5.3v6.6h-5.3zM297.8 235.2h5.3v6.6h-5.3zM326.9 235.2h5.3v6.6h-5.3zM215.4 247.4h5.3v6.6h-5.3zM283.2 247.4h5.3v6.6h-5.3zM312.3 247.4h5.3v6.6h-5.3zM263.9 253.5h5.3v6.6h-5.3zM278.4 253.5h5.3v6.6h-5.3zM288.1 253.5h5.3v6.6h-5.3zM322.0 253.5h5.3v6.6h-5.3zM259.0 259.6h5.3v6.6h-5.3zM268.7 259.6h5.3v6.6h-5.3zM278.4 259.6h5.3v6.6h-5.3zM292.9 259.6h5.3v6.6h-5.3zM215.4 265.7h5.3v6.6h-5.3zM234.8 265.7h5.3v6.6h-5.3zM244.5 265.7h5.3v6.6h-5.3zM297.8 265.7h5.3v6.6h-5.3zM239.6 271.8h5.3v6.6h-5.3zM278.4 271.8h5.3v6.6h-5.3zM297.8 271.8h5.3v6.6h-5.3zM322.0 271.8h5.3v6.6h-5.3zM244.5 277.8h5.3v6.6h-5.3zM254.2 277.8h5.3v6.6h-5.3zM292.9 277.8h10.2v6.6h-10.2zM312.3 277.8h5.3v6.6h-5.3zM326.9 277.8h5.3v6.6h-5.3zM409.2 277.8h5.3v6.6h-5.3zM312.3 283.9h10.2v6.6h-10.2zM326.9 283.9h5.3v6.6h-5.3zM229.9 290.0h5.3v6.6h-5.3zM288.1 290.0h5.3v6.6h-5.3zM302.6 290.0h10.2v6.6h-10.2zM220.3 296.1h5.3v6.6h-5.3zM229.9 296.1h5.3v6.6h-5.3zM307.5 296.1h5.3v6.6h-5.3zM220.3 302.2h5.3v6.6h-5.3zM210.6 308.2h5.3v6.6h-5.3zM234.8 308.2h5.3v6.6h-5.3zM268.7 308.2h5.3v6.6h-5.3zM549.7 308.2h5.3v6.6h-5.3zM234.8 314.3h5.3v6.6h-5.3zM573.9 314.3h5.3v6.6h-5.3zM583.6 320.4h5.3v6.6h-5.3zM215.4 326.5h5.3v6.6h-5.3zM583.6 326.5h5.3v6.6h-5.3zM617.5 326.5h5.3v6.6h-5.3zM196.0 332.6h5.3v6.6h-5.3zM215.4 332.6h5.3v6.6h-5.3zM622.4 332.6h5.3v6.6h-5.3zM225.1 338.7h5.3v6.6h-5.3zM215.4 344.8h5.3v6.6h-5.3zM607.9 356.9h5.3v6.6h-5.3zM622.4 356.9h5.3v6.6h-5.3zM200.9 387.3h5.3v6.6h-5.3zM559.4 387.3h5.3v6.6h-5.3zM569.1 393.4h5.3v6.6h-5.3zM205.7 399.5h5.3v6.6h-5.3zM520.6 405.6h5.3v6.6h-5.3zM540.0 405.6h5.3v6.6h-5.3zM191.2 411.7h10.2v6.6h-10.2zM205.7 423.8h5.3v6.6h-5.3zM200.9 429.9h5.3v6.6h-5.3zM486.7 429.9h5.3v6.6h-5.3zM477.0 436.0h5.3v6.6h-5.3zM196.0 442.1h10.2v6.6h-10.2zM200.9 448.2h5.3v6.6h-5.3zM457.7 448.2h5.3v6.6h-5.3zM428.6 460.3h5.3v6.6h-5.3zM196.0 466.4h5.3v6.6h-5.3zM414.1 466.4h5.3v6.6h-5.3zM205.7 484.7h5.3v6.6h-5.3zM225.1 484.7h5.3v6.6h-5.3zM380.1 484.7h5.3v6.6h-5.3zM409.2 484.7h5.3v6.6h-5.3zM205.7 490.8h10.2v6.6h-10.2zM351.1 490.8h5.3v6.6h-5.3zM360.8 490.8h5.3v6.6h-5.3zM205.7 496.8h5.3v6.6h-5.3zM336.5 496.8h5.3v6.6h-5.3zM365.6 496.8h5.3v6.6h-5.3zM385.0 496.8h5.3v6.6h-5.3zM225.1 502.9h5.3v6.1h-5.3zM351.1 502.9h5.3v6.1h-5.3z"/>
<path fill="#ff904c" d="M200.9 71.0h5.3v6.6h-5.3zM200.9 77.1h5.3v6.6h-5.3zM292.9 95.3h5.3v6.6h-5.3zM205.7 113.6h5.3v6.6h-5.3zM283.2 119.7h5.3v6.6h-5.3zM200.9 125.8h5.3v6.6h-5.3zM205.7 150.1h5.3v6.6h-5.3zM307.5 150.1h5.3v6.6h-5.3zM326.9 150.1h5.3v6.6h-5.3zM336.5 150.1h5.3v6.6h-5.3zM346.2 150.1h5.3v6.6h-5.3zM210.6 156.2h5.3v6.6h-5.3zM283.2 156.2h5.3v6.6h-5.3zM312.3 156.2h5.3v6.6h-5.3zM302.6 162.2h5.3v6.6h-5.3zM229.9 168.3h5.3v6.6h-5.3zM283.2 168.3h5.3v6.6h-5.3zM215.4 174.4h5.3v6.6h-5.3zM205.7 180.5h5.3v6.6h-5.3zM297.8 180.5h5.3v6.6h-5.3zM205.7 186.6h5.3v6.6h-5.3zM220.3 186.6h5.3v6.6h-5.3zM239.6 186.6h5.3v6.6h-5.3zM292.9 192.7h5.3v6.6h-5.3zM273.6 198.8h5.3v6.6h-5.3zM288.1 198.8h5.3v6.6h-5.3zM302.6 198.8h5.3v6.6h-5.3zM229.9 204.8h5.3v6.6h-5.3zM297.8 204.8h5.3v6.6h-5.3zM220.3 210.9h5.3v6.6h-5.3zM263.9 210.9h5.3v6.6h-5.3zM317.2 210.9h5.3v6.6h-5.3zM268.7 217.0h10.2v6.6h-10.2zM336.5 217.0h5.3v6.6h-5.3zM346.2 217.0h5.3v6.6h-5.3zM220.3 223.1h5.3v6.6h-5.3zM288.1 223.1h5.3v6.6h-5.3zM322.0 223.1h5.3v6.6h-5.3zM375.3 223.1h5.3v6.6h-5.3zM399.5 223.1h5.3v6.6h-5.3zM418.9 223.1h5.3v6.6h-5.3zM200.9 229.2h5.3v6.6h-5.3zM302.6 229.2h5.3v6.6h-5.3zM423.8 229.2h5.3v6.6h-5.3zM220.3 235.2h5.3v6.6h-5.3zM234.8 235.2h5.3v6.6h-5.3zM283.2 235.2h5.3v6.6h-5.3zM312.3 235.2h10.2v6.6h-10.2zM220.3 241.3h5.3v6.6h-5.3zM297.8 241.3h10.2v6.6h-10.2zM326.9 241.3h5.3v6.6h-5.3zM229.9 247.4h15.0v6.6h-15.0zM288.1 247.4h5.3v6.6h-5.3zM302.6 247.4h5.3v6.6h-5.3zM355.9 247.4h5.3v6.6h-5.3zM225.1 253.5h5.3v6.6h-5.3zM239.6 253.5h5.3v6.6h-5.3zM283.2 253.5h5.3v6.6h-5.3zM302.6 253.5h5.3v6.6h-5.3zM220.3 259.6h5.3v6.6h-5.3zM288.1 259.6h5.3v6.6h-5.3zM210.6 265.7h5.3v6.6h-5.3zM229.9 265.7h5.3v6.6h-5.3zM302.6 265.7h10.2v6.6h-10.2zM322.0 265.7h5.3v6.6h-5.3zM229.9 271.8h5.3v6.6h-5.3zM254.2 271.8h5.3v6.6h-5.3zM292.9 271.8h5.3v6.6h-5.3zM312.3 271.8h5.3v6.6h-5.3zM346.2 271.8h5.3v6.6h-5.3zM210.6 277.8h5.3v6.6h-5.3zM331.7 277.8h5.3v6.6h-5.3zM341.4 277.8h10.2v6.6h-10.2zM370.5 277.8h5.3v6.6h-5.3zM404.4 277.8h5.3v6.6h-5.3zM433.4 277.8h10.2v6.6h-10.2zM210.6 283.9h5.3v6.6h-5.3zM220.3 283.9h5.3v6.6h-5.3zM239.6 283.9h5.3v6.6h-5.3zM268.7 283.9h10.2v6.6h-10.2zM346.2 283.9h5.3v6.6h-5.3zM225.1 290.0h5.3v6.6h-5.3zM239.6 290.0h5.3v6.6h-5.3zM331.7 290.0h5.3v6.6h-5.3zM486.7 290.0h5.3v6.6h-5.3zM496.4 290.0h5.3v6.6h-5.3zM259.0 296.1h5.3v6.6h-5.3zM215.4 308.2h5.3v6.6h-5.3zM244.5 308.2h5.3v6.6h-5.3zM554.6 308.2h5.3v6.6h-5.3zM200.9 314.3h5.3v6.6h-5.3zM220.3 314.3h5.3v6.6h-5.3zM569.1 314.3h5.3v6.6h-5.3zM196.0 320.4h10.2v6.6h-10.2zM200.9 326.5h5.3v6.6h-5.3zM603.0 326.5h5.3v6.6h-5.3zM617.5 344.8h5.3v6.6h-5.3zM632.1 344.8h5.3v6.6h-5.3zM191.2 350.8h5.3v6.6h-5.3zM210.6 350.8h5.3v6.6h-5.3zM210.6 356.9h5.3v6.6h-5.3zM627.2 356.9h5.3v6.6h-5.3zM191.2 363.0h5.3v6.6h-5.3zM200.9 363.0h5.3v6.6h-5.3zM191.2 369.1h5.3v6.6h-5.3zM593.3 375.2h5.3v6.6h-5.3zM210.6 381.2h5.3v6.6h-5.3zM583.6 381.2h5.3v6.6h-5.3zM205.7 387.3h5.3v6.6h-5.3zM573.9 387.3h10.2v6.6h-10.2zM200.9 393.4h5.3v6.6h-5.3zM573.9 393.4h5.3v6.6h-5.3zM196.0 399.5h10.2v6.6h-10.2zM210.6 399.5h5.3v6.6h-5.3zM220.3 399.5h5.3v6.6h-5.3zM511.0 417.8h5.3v6.6h-5.3zM200.9 472.5h5.3v6.6h-5.3zM433.4 472.5h5.3v6.6h-5.3zM200.9 478.6h10.2v6.6h-10.2zM404.4 478.6h5.3v6.6h-5.3zM375.3 484.7h5.3v6.6h-5.3zM365.6 490.8h5.3v6.6h-5.3zM380.1 490.8h5.3v6.6h-5.3zM399.5 490.8h5.3v6.6h-5.3zM215.4 496.8h10.2v6.6h-10.2zM205.7 502.9h5.3v6.1h-5.3zM215.4 502.9h5.3v6.1h-5.3zM355.9 502.9h5.3v6.1h-5.3z"/>
<path fill="#ff8243" d="M292.9 71.0h5.3v6.6h-5.3zM210.6 107.5h5.3v6.6h-5.3zM292.9 131.8h5.3v6.6h-5.3zM292.9 137.9h5.3v6.6h-5.3zM196.0 144.0h5.3v6.6h-5.3zM336.5 144.0h5.3v6.6h-5.3zM341.4 150.1h5.3v6.6h-5.3zM380.1 150.1h5.3v6.6h-5.3zM200.9 156.2h5.3v6.6h-5.3zM322.0 156.2h5.3v6.6h-5.3zM205.7 162.2h5.3v6.6h-5.3zM428.6 168.3h5.3v6.6h-5.3zM200.9 174.4h10.2v6.6h-10.2zM220.3 174.4h5.3v6.6h-5.3zM292.9 174.4h5.3v6.6h-5.3zM428.6 174.4h5.3v6.6h-5.3zM196.0 180.5h10.2v6.6h-10.2zM210.6 180.5h5.3v6.6h-5.3zM200.9 186.6h5.3v6.6h-5.3zM307.5 186.6h5.3v6.6h-5.3zM220.3 192.7h5.3v6.6h-5.3zM205.7 198.8h5.3v6.6h-5.3zM215.4 198.8h5.3v6.6h-5.3zM205.7 204.8h5.3v6.6h-5.3zM302.6 204.8h5.3v6.6h-5.3zM481.9 204.8h5.3v6.6h-5.3zM307.5 210.9h5.3v6.6h-5.3zM307.5 217.0h5.3v6.6h-5.3zM215.4 223.1h5.3v6.6h-5.3zM341.4 223.1h15.0v6.6h-15.0zM428.6 223.1h5.3v6.6h-5.3zM438.3 223.1h5.3v6.6h-5.3zM210.6 229.2h5.3v6.6h-5.3zM322.0 229.2h5.3v6.6h-5.3zM331.7 229.2h10.2v6.6h-10.2zM225.1 235.2h5.3v6.6h-5.3zM307.5 235.2h5.3v6.6h-5.3zM215.4 241.3h5.3v6.6h-5.3zM244.5 241.3h5.3v6.6h-5.3zM220.3 247.4h10.2v6.6h-10.2zM326.9 247.4h5.3v6.6h-5.3zM220.3 253.5h5.3v6.6h-5.3zM244.5 253.5h5.3v6.6h-5.3zM292.9 253.5h5.3v6.6h-5.3zM307.5 253.5h5.3v6.6h-5.3zM331.7 253.5h5.3v6.6h-5.3zM341.4 253.5h15.0v6.6h-15.0zM365.6 253.5h5.3v6.6h-5.3zM249.3 259.6h5.3v6.6h-5.3zM331.7 259.6h5.3v6.6h-5.3zM239.6 265.7h5.3v6.6h-5.3zM259.0 265.7h5.3v6.6h-5.3zM278.4 265.7h5.3v6.6h-5.3zM341.4 265.7h5.3v6.6h-5.3zM220.3 271.8h10.2v6.6h-10.2zM259.0 271.8h5.3v6.6h-5.3zM302.6 271.8h5.3v6.6h-5.3zM317.2 271.8h5.3v6.6h-5.3zM326.9 271.8h10.2v6.6h-10.2zM351.1 271.8h5.3v6.6h-5.3zM360.8 271.8h5.3v6.6h-5.3zM234.8 277.8h5.3v6.6h-5.3zM273.6 277.8h5.3v6.6h-5.3zM288.1 277.8h5.3v6.6h-5.3zM360.8 277.8h5.3v6.6h-5.3zM385.0 277.8h5.3v6.6h-5.3zM394.7 277.8h5.3v6.6h-5.3zM423.8 277.8h5.3v6.6h-5.3zM215.4 283.9h5.3v6.6h-5.3zM234.8 283.9h5.3v6.6h-5.3zM263.9 283.9h5.3v6.6h-5.3zM292.9 283.9h5.3v6.6h-5.3zM322.0 283.9h5.3v6.6h-5.3zM481.9 283.9h5.3v6.6h-5.3zM283.2 290.0h5.3v6.6h-5.3zM317.2 290.0h5.3v6.6h-5.3zM491.6 290.0h5.3v6.6h-5.3zM239.6 296.1h5.3v6.6h-5.3zM205.7 302.2h5.3v6.6h-5.3zM200.9 308.2h5.3v6.6h-5.3zM225.1 308.2h5.3v6.6h-5.3zM225.1 314.3h5.3v6.6h-5.3zM564.3 314.3h5.3v6.6h-5.3zM578.8 314.3h5.3v6.6h-5.3zM588.5 314.3h5.3v6.6h-5.3zM225.1 320.4h5.3v6.6h-5.3zM234.8 320.4h5.3v6.6h-5.3zM588.5 320.4h5.3v6.6h-5.3zM588.5 326.5h5.3v6.6h-5.3zM612.7 326.5h5.3v6.6h-5.3zM612.7 332.6h5.3v6.6h-5.3zM210.6 338.7h5.3v6.6h-5.3zM632.1 338.7h5.3v6.6h-5.3zM627.2 344.8h5.3v6.6h-5.3zM627.2 350.8h5.3v6.6h-5.3zM196.0 356.9h5.3v6.6h-5.3zM205.7 363.0h5.3v6.6h-5.3zM627.2 363.0h5.3v6.6h-5.3zM598.2 369.1h5.3v6.6h-5.3zM205.7 375.2h10.2v6.6h-10.2zM603.0 375.2h5.3v6.6h-5.3zM588.5 381.2h5.3v6.6h-5.3zM588.5 387.3h5.3v6.6h-5.3zM564.3 393.4h5.3v6.6h-5.3zM191.2 405.6h5.3v6.6h-5.3zM535.2 405.6h5.3v6.6h-5.3zM186.3 411.7h5.3v6.6h-5.3zM196.0 417.8h5.3v6.6h-5.3zM506.1 417.8h5.3v6.6h-5.3zM200.9 423.8h5.3v6.6h-5.3zM491.6 423.8h5.3v6.6h-5.3zM501.3 423.8h5.3v6.6h-5.3zM477.0 429.9h5.3v6.6h-5.3zM496.4 429.9h5.3v6.6h-5.3zM205.7 442.1h5.3v6.6h-5.3zM448.0 454.2h5.3v6.6h-5.3zM215.4 472.5h5.3v6.6h-5.3zM418.9 472.5h5.3v6.6h-5.3zM428.6 472.5h5.3v6.6h-5.3zM414.1 478.6h5.3v6.6h-5.3zM196.0 484.7h5.3v6.6h-5.3zM220.3 484.7h5.3v6.6h-5.3zM355.9 490.8h5.3v6.6h-5.3zM191.2 496.8h10.2v6.6h-10.2zM375.3 496.8h5.3v6.6h-5.3zM191.2 502.9h5.3v6.1h-5.3zM200.9 502.9h5.3v6.1h-5.3zM210.6 502.9h5.3v6.1h-5.3zM380.1 502.9h5.3v6.1h-5.3z"/>
<path fill="#ff733b" d="M196.0 71.0h5.3v6.6h-5.3zM292.9 77.1h5.3v6.6h-5.3zM200.9 83.2h5.3v6.6h-5.3zM196.0 101.4h10.2v6.6h-10.2zM205.7 107.5h5.3v6.6h-5.3zM200.9 119.7h5.3v6.6h-5.3zM200.9 131.8h5.3v6.6h-5.3zM288.1 131.8h5.3v6.6h-5.3zM365.6 150.1h5.3v6.6h-5.3zM205.7 156.2h5.3v6.6h-5.3zM380.1 156.2h5.3v6.6h-5.3zM389.8 156.2h5.3v6.6h-5.3zM404.4 156.2h5.3v6.6h-5.3zM200.9 162.2h5.3v6.6h-5.3zM297.8 162.2h5.3v6.6h-5.3zM210.6 168.3h5.3v6.6h-5.3zM273.6 180.5h5.3v6.6h-5.3zM448.0 180.5h10.2v6.6h-10.2zM205.7 192.7h5.3v6.6h-5.3zM477.0 198.8h10.2v6.6h-10.2zM200.9 204.8h5.3v6.6h-5.3zM200.9 217.0h5.3v6.6h-5.3zM322.0 217.0h5.3v6.6h-5.3zM331.7 217.0h5.3v6.6h-5.3zM481.9 217.0h5.3v6.6h-5.3zM200.9 223.1h10.2v6.6h-10.2zM317.2 223.1h5.3v6.6h-5.3zM331.7 223.1h10.2v6.6h-10.2zM307.5 229.2h5.3v6.6h-5.3zM365.6 229.2h5.3v6.6h-5.3zM210.6 235.2h5.3v6.6h-5.3zM200.9 241.3h5.3v6.6h-5.3zM229.9 241.3h5.3v6.6h-5.3zM351.1 241.3h5.3v6.6h-5.3zM370.5 241.3h5.3v6.6h-5.3zM254.2 247.4h5.3v6.6h-5.3zM273.6 247.4h5.3v6.6h-5.3zM292.9 247.4h10.2v6.6h-10.2zM331.7 247.4h5.3v6.6h-5.3zM351.1 247.4h5.3v6.6h-5.3zM234.8 253.5h5.3v6.6h-5.3zM312.3 253.5h10.2v6.6h-10.2zM336.5 253.5h5.3v6.6h-5.3zM385.0 253.5h5.3v6.6h-5.3zM200.9 259.6h5.3v6.6h-5.3zM225.1 259.6h5.3v6.6h-5.3zM351.1 259.6h5.3v6.6h-5.3zM225.1 265.7h5.3v6.6h-5.3zM288.1 265.7h5.3v6.6h-5.3zM331.7 265.7h5.3v6.6h-5.3zM355.9 265.7h5.3v6.6h-5.3zM191.2 271.8h5.3v6.6h-5.3zM210.6 271.8h10.2v6.6h-10.2zM234.8 271.8h5.3v6.6h-5.3zM457.7 271.8h5.3v6.6h-5.3zM220.3 277.8h5.3v6.6h-5.3zM355.9 277.8h5.3v6.6h-5.3zM418.9 277.8h5.3v6.6h-5.3zM428.6 277.8h5.3v6.6h-5.3zM443.1 277.8h5.3v6.6h-5.3zM229.9 283.9h5.3v6.6h-5.3zM244.5 283.9h5.3v6.6h-5.3zM283.2 283.9h5.3v6.6h-5.3zM336.5 283.9h5.3v6.6h-5.3zM462.5 283.9h5.3v6.6h-5.3zM472.2 283.9h5.3v6.6h-5.3zM486.7 283.9h5.3v6.6h-5.3zM210.6 290.0h15.0v6.6h-15.0zM515.8 290.0h5.3v6.6h-5.3zM200.9 296.1h5.3v6.6h-5.3zM210.6 296.1h5.3v6.6h-5.3zM215.4 302.2h5.3v6.6h-5.3zM544.9 302.2h10.2v6.6h-10.2zM196.0 308.2h5.3v6.6h-5.3zM229.9 308.2h5.3v6.6h-5.3zM578.8 320.4h5.3v6.6h-5.3zM191.2 332.6h5.3v6.6h-5.3zM617.5 332.6h5.3v6.6h-5.3zM607.9 338.7h5.3v6.6h-5.3zM622.4 338.7h5.3v6.6h-5.3zM641.8 350.8h5.3v6.6h-5.3zM186.3 369.1h5.3v6.6h-5.3zM196.0 369.1h5.3v6.6h-5.3zM617.5 369.1h5.3v6.6h-5.3zM200.9 375.2h5.3v6.6h-5.3zM186.3 387.3h5.3v6.6h-5.3zM583.6 387.3h5.3v6.6h-5.3zM191.2 393.4h5.3v6.6h-5.3zM520.6 411.7h5.3v6.6h-5.3zM196.0 423.8h5.3v6.6h-5.3zM186.3 429.9h5.3v6.6h-5.3zM186.3 436.0h5.3v6.6h-5.3zM200.9 436.0h5.3v6.6h-5.3zM191.2 442.1h5.3v6.6h-5.3zM200.9 460.3h5.3v6.6h-5.3zM205.7 466.4h5.3v6.6h-5.3zM428.6 466.4h5.3v6.6h-5.3zM191.2 472.5h5.3v6.6h-5.3zM423.8 472.5h5.3v6.6h-5.3zM196.0 478.6h5.3v6.6h-5.3zM399.5 478.6h5.3v6.6h-5.3zM423.8 478.6h5.3v6.6h-5.3zM200.9 490.8h5.3v6.6h-5.3zM370.5 490.8h5.3v6.6h-5.3zM394.7 490.8h5.3v6.6h-5.3zM370.5 496.8h5.3v6.6h-5.3zM365.6 502.9h5.3v6.1h-5.3z"/>
<path fill="#ff6433" d="M196.0 77.1h5.3v6.6h-5.3zM196.0 95.3h5.3v6.6h-5.3zM191.2 101.4h5.3v6.6h-5.3zM292.9 107.5h5.3v6.6h-5.3zM196.0 119.7h5.3v6.6h-5.3zM292.9 119.7h5.3v6.6h-5.3zM196.0 150.1h5.3v6.6h-5.3zM297.8 150.1h5.3v6.6h-5.3zM322.0 150.1h5.3v6.6h-5.3zM370.5 150.1h5.3v6.6h-5.3zM292.9 156.2h10.2v6.6h-10.2zM210.6 162.2h5.3v6.6h-5.3zM414.1 162.2h5.3v6.6h-5.3zM297.8 168.3h5.3v6.6h-5.3zM438.3 168.3h5.3v6.6h-5.3zM438.3 174.4h5.3v6.6h-5.3zM457.7 186.6h5.3v6.6h-5.3zM481.9 192.7h5.3v6.6h-5.3zM200.9 198.8h5.3v6.6h-5.3zM486.7 204.8h5.3v6.6h-5.3zM205.7 217.0h5.3v6.6h-5.3zM467.4 217.0h10.2v6.6h-10.2zM326.9 229.2h5.3v6.6h-5.3zM346.2 229.2h5.3v6.6h-5.3zM200.9 235.2h5.3v6.6h-5.3zM322.0 235.2h5.3v6.6h-5.3zM351.1 235.2h10.2v6.6h-10.2zM196.0 241.3h5.3v6.6h-5.3zM205.7 241.3h5.3v6.6h-5.3zM322.0 241.3h5.3v6.6h-5.3zM331.7 241.3h5.3v6.6h-5.3zM365.6 241.3h5.3v6.6h-5.3zM278.4 247.4h5.3v6.6h-5.3zM341.4 247.4h5.3v6.6h-5.3zM365.6 247.4h5.3v6.6h-5.3zM375.3 247.4h5.3v6.6h-5.3zM254.2 253.5h10.2v6.6h-10.2zM273.6 253.5h5.3v6.6h-5.3zM355.9 253.5h5.3v6.6h-5.3zM370.5 253.5h5.3v6.6h-5.3zM404.4 253.5h5.3v6.6h-5.3zM210.6 259.6h5.3v6.6h-5.3zM229.9 259.6h5.3v6.6h-5.3zM244.5 259.6h5.3v6.6h-5.3zM302.6 259.6h5.3v6.6h-5.3zM404.4 259.6h5.3v6.6h-5.3zM205.7 265.7h5.3v6.6h-5.3zM249.3 265.7h5.3v6.6h-5.3zM326.9 265.7h5.3v6.6h-5.3zM346.2 265.7h5.3v6.6h-5.3zM365.6 265.7h5.3v6.6h-5.3zM385.0 265.7h10.2v6.6h-10.2zM399.5 265.7h5.3v6.6h-5.3zM200.9 271.8h10.2v6.6h-10.2zM244.5 271.8h5.3v6.6h-5.3zM273.6 271.8h5.3v6.6h-5.3zM336.5 271.8h10.2v6.6h-10.2zM196.0 277.8h5.3v6.6h-5.3zM225.1 277.8h5.3v6.6h-5.3zM249.3 277.8h5.3v6.6h-5.3zM307.5 277.8h5.3v6.6h-5.3zM336.5 277.8h5.3v6.6h-5.3zM365.6 277.8h5.3v6.6h-5.3zM399.5 277.8h5.3v6.6h-5.3zM457.7 277.8h5.3v6.6h-5.3zM205.7 283.9h5.3v6.6h-5.3zM341.4 283.9h5.3v6.6h-5.3zM501.3 290.0h5.3v6.6h-5.3zM186.3 296.1h5.3v6.6h-5.3zM205.7 296.1h5.3v6.6h-5.3zM215.4 296.1h5.3v6.6h-5.3zM225.1 296.1h5.3v6.6h-5.3zM234.8 296.1h5.3v6.6h-5.3zM520.6 296.1h5.3v6.6h-5.3zM540.0 302.2h5.3v6.6h-5.3zM220.3 308.2h5.3v6.6h-5.3zM564.3 308.2h5.3v6.6h-5.3zM573.9 308.2h5.3v6.6h-5.3zM196.0 314.3h5.3v6.6h-5.3zM205.7 320.4h10.2v6.6h-10.2zM593.3 320.4h5.3v6.6h-5.3zM607.9 320.4h5.3v6.6h-5.3zM225.1 326.5h5.3v6.6h-5.3zM200.9 338.7h5.3v6.6h-5.3zM641.8 338.7h5.3v6.6h-5.3zM196.0 344.8h5.3v6.6h-5.3zM200.9 350.8h10.2v6.6h-10.2zM632.1 350.8h5.3v6.6h-5.3zM191.2 356.9h5.3v6.6h-5.3zM200.9 356.9h5.3v6.6h-5.3zM617.5 356.9h5.3v6.6h-5.3zM632.1 356.9h10.2v6.6h-10.2zM622.4 363.0h5.3v6.6h-5.3zM612.7 369.1h5.3v6.6h-5.3zM186.3 375.2h10.2v6.6h-10.2zM191.2 381.2h5.3v6.6h-5.3zM191.2 387.3h5.3v6.6h-5.3zM549.7 399.5h5.3v6.6h-5.3zM196.0 429.9h5.3v6.6h-5.3zM191.2 436.0h5.3v6.6h-5.3zM472.2 436.0h5.3v6.6h-5.3zM467.4 442.1h5.3v6.6h-5.3zM205.7 454.2h5.3v6.6h-5.3zM452.8 454.2h5.3v6.6h-5.3zM443.1 460.3h5.3v6.6h-5.3zM205.7 472.5h5.3v6.6h-5.3zM399.5 484.7h5.3v6.6h-5.3zM346.2 490.8h5.3v6.6h-5.3zM196.0 502.9h5.3v6.1h-5.3zM375.3 502.9h5.3v6.1h-5.3zM409.2 502.9h5.3v6.1h-5.3z"/>
<path fill="#ff542a" d="M186.3 83.2h5.3v6.6h-5.3zM186.3 89.2h5.3v6.6h-5.3zM292.9 89.2h5.3v6.6h-5.3zM186.3 107.5h5.3v6.6h-5.3zM196.0 107.5h5.3v6.6h-5.3zM196.0 113.6h5.3v6.6h-5.3zM196.0 125.8h5.3v6.6h-5.3zM196.0 137.9h5.3v6.6h-5.3zM186.3 144.0h5.3v6.6h-5.3zM302.6 144.0h5.3v6.6h-5.3zM312.3 144.0h5.3v6.6h-5.3zM322.0 144.0h5.3v6.6h-5.3zM292.9 150.1h5.3v6.6h-5.3zM302.6 150.1h5.3v6.6h-5.3zM317.2 150.1h5.3v6.6h-5.3zM355.9 150.1h5.3v6.6h-5.3zM196.0 156.2h5.3v6.6h-5.3zM423.8 162.2h5.3v6.6h-5.3zM200.9 168.3h5.3v6.6h-5.3zM423.8 168.3h5.3v6.6h-5.3zM433.4 168.3h5.3v6.6h-5.3zM200.9 192.7h5.3v6.6h-5.3zM196.0 198.8h5.3v6.6h-5.3zM196.0 204.8h5.3v6.6h-5.3zM196.0 210.9h15.0v6.6h-15.0zM481.9 210.9h5.3v6.6h-5.3zM433.4 223.1h5.3v6.6h-5.3zM448.0 223.1h5.3v6.6h-5.3zM457.7 223.1h5.3v6.6h-5.3zM205.7 229.2h5.3v6.6h-5.3zM351.1 229.2h5.3v6.6h-5.3zM428.6 229.2h5.3v6.6h-5.3zM205.7 235.2h5.3v6.6h-5.3zM346.2 235.2h5.3v6.6h-5.3zM336.5 241.3h5.3v6.6h-5.3zM336.5 247.4h5.3v6.6h-5.3zM370.5 247.4h5.3v6.6h-5.3zM380.1 247.4h5.3v6.6h-5.3zM394.7 247.4h5.3v6.6h-5.3zM200.9 253.5h5.3v6.6h-5.3zM360.8 253.5h5.3v6.6h-5.3zM273.6 259.6h5.3v6.6h-5.3zM317.2 259.6h5.3v6.6h-5.3zM336.5 259.6h10.2v6.6h-10.2zM389.8 259.6h5.3v6.6h-5.3zM360.8 265.7h5.3v6.6h-5.3zM414.1 265.7h10.2v6.6h-10.2zM394.7 271.8h10.2v6.6h-10.2zM462.5 271.8h5.3v6.6h-5.3zM215.4 277.8h5.3v6.6h-5.3zM375.3 277.8h5.3v6.6h-5.3zM225.1 283.9h5.3v6.6h-5.3zM491.6 283.9h10.2v6.6h-10.2zM234.8 290.0h5.3v6.6h-5.3zM244.5 290.0h5.3v6.6h-5.3zM511.0 290.0h5.3v6.6h-5.3zM530.3 296.1h5.3v6.6h-5.3zM191.2 308.2h5.3v6.6h-5.3zM559.4 308.2h5.3v6.6h-5.3zM191.2 314.3h5.3v6.6h-5.3zM583.6 314.3h5.3v6.6h-5.3zM220.3 320.4h5.3v6.6h-5.3zM598.2 320.4h5.3v6.6h-5.3zM200.9 332.6h5.3v6.6h-5.3zM636.9 338.7h5.3v6.6h-5.3zM641.8 356.9h5.3v6.6h-5.3zM632.1 363.0h5.3v6.6h-5.3zM607.9 369.1h5.3v6.6h-5.3zM205.7 393.4h5.3v6.6h-5.3zM191.2 399.5h5.3v6.6h-5.3zM554.6 399.5h5.3v6.6h-5.3zM191.2 423.8h5.3v6.6h-5.3zM191.2 429.9h5.3v6.6h-5.3zM481.9 429.9h5.3v6.6h-5.3zM196.0 436.0h5.3v6.6h-5.3zM481.9 436.0h10.2v6.6h-10.2zM200.9 454.2h5.3v6.6h-5.3zM186.3 460.3h5.3v6.6h-5.3zM191.2 466.4h5.3v6.6h-5.3zM418.9 478.6h5.3v6.6h-5.3zM191.2 484.7h5.3v6.6h-5.3zM200.9 484.7h5.3v6.6h-5.3zM385.0 490.8h5.3v6.6h-5.3zM404.4 490.8h5.3v6.6h-5.3zM200.9 496.8h5.3v6.6h-5.3zM380.1 496.8h5.3v6.6h-5.3zM404.4 502.9h5.3v6.1h-5.3zM414.1 502.9h5.3v6.1h-5.3z"/>
<path fill="#ff4322" d="M186.3 95.3h5.3v6.6h-5.3zM186.3 101.4h5.3v6.6h-5.3zM292.9 113.6h5.3v6.6h-5.3zM292.9 125.8h5.3v6.6h-5.3zM186.3 131.8h15.0v6.6h-15.0zM191.2 144.0h5.3v6.6h-5.3zM292.9 144.0h5.3v6.6h-5.3zM317.2 144.0h5.3v6.6h-5.3zM181.5 150.1h5.3v6.6h-5.3zM191.2 156.2h5.3v6.6h-5.3zM394.7 156.2h10.2v6.6h-10.2zM292.9 162.2h5.3v6.6h-5.3zM418.9 162.2h5.3v6.6h-5.3zM196.0 186.6h5.3v6.6h-5.3zM191.2 192.7h10.2v6.6h-10.2zM491.6 204.8h5.3v6.6h-5.3zM491.6 210.9h5.3v6.6h-5.3zM191.2 217.0h5.3v6.6h-5.3zM326.9 223.1h5.3v6.6h-5.3zM355.9 223.1h5.3v6.6h-5.3zM443.1 223.1h5.3v6.6h-5.3zM452.8 223.1h5.3v6.6h-5.3zM462.5 223.1h5.3v6.6h-5.3zM196.0 229.2h5.3v6.6h-5.3zM317.2 229.2h5.3v6.6h-5.3zM370.5 229.2h5.3v6.6h-5.3zM418.9 229.2h5.3v6.6h-5.3zM331.7 235.2h5.3v6.6h-5.3zM365.6 235.2h10.2v6.6h-10.2zM312.3 241.3h5.3v6.6h-5.3zM341.4 241.3h5.3v6.6h-5.3zM196.0 247.4h10.2v6.6h-10.2zM268.7 247.4h5.3v6.6h-5.3zM346.2 247.4h5.3v6.6h-5.3zM404.4 247.4h5.3v6.6h-5.3zM414.1 247.4h5.3v6.6h-5.3zM210.6 253.5h5.3v6.6h-5.3zM380.1 253.5h5.3v6.6h-5.3zM389.8 253.5h5.3v6.6h-5.3zM196.0 259.6h5.3v6.6h-5.3zM215.4 259.6h5.3v6.6h-5.3zM283.2 259.6h5.3v6.6h-5.3zM297.8 259.6h5.3v6.6h-5.3zM307.5 259.6h5.3v6.6h-5.3zM322.0 259.6h5.3v6.6h-5.3zM346.2 259.6h5.3v6.6h-5.3zM200.9 265.7h5.3v6.6h-5.3zM254.2 265.7h5.3v6.6h-5.3zM273.6 265.7h5.3v6.6h-5.3zM351.1 265.7h5.3v6.6h-5.3zM370.5 265.7h5.3v6.6h-5.3zM433.4 265.7h5.3v6.6h-5.3zM307.5 271.8h5.3v6.6h-5.3zM365.6 271.8h5.3v6.6h-5.3zM375.3 271.8h10.2v6.6h-10.2zM389.8 271.8h5.3v6.6h-5.3zM418.9 271.8h15.0v6.6h-15.0zM438.3 271.8h5.3v6.6h-5.3zM452.8 271.8h5.3v6.6h-5.3zM389.8 277.8h5.3v6.6h-5.3zM501.3 283.9h5.3v6.6h-5.3zM520.6 290.0h5.3v6.6h-5.3zM525.5 296.1h5.3v6.6h-5.3zM205.7 308.2h5.3v6.6h-5.3zM186.3 320.4h5.3v6.6h-5.3zM593.3 326.5h5.3v6.6h-5.3zM200.9 344.8h5.3v6.6h-5.3zM612.7 375.2h5.3v6.6h-5.3zM598.2 381.2h5.3v6.6h-5.3zM612.7 381.2h5.3v6.6h-5.3zM186.3 393.4h5.3v6.6h-5.3zM196.0 393.4h5.3v6.6h-5.3zM200.9 405.6h5.3v6.6h-5.3zM525.5 411.7h5.3v6.6h-5.3zM191.2 417.8h5.3v6.6h-5.3zM515.8 417.8h5.3v6.6h-5.3zM506.1 423.8h5.3v6.6h-5.3zM491.6 429.9h5.3v6.6h-5.3zM491.6 436.0h5.3v6.6h-5.3zM477.0 442.1h5.3v6.6h-5.3zM462.5 448.2h5.3v6.6h-5.3zM186.3 466.4h5.3v6.6h-5.3zM200.9 466.4h5.3v6.6h-5.3zM438.3 466.4h5.3v6.6h-5.3zM186.3 484.7h5.3v6.6h-5.3zM385.0 484.7h5.3v6.6h-5.3zM404.4 484.7h5.3v6.6h-5.3zM375.3 490.8h5.3v6.6h-5.3zM409.2 490.8h5.3v6.6h-5.3zM186.3 496.8h5.3v6.6h-5.3zM389.8 496.8h5.3v6.6h-5.3zM409.2 496.8h10.2v6.6h-10.2zM186.3 502.9h5.3v6.1h-5.3zM385.0 502.9h15.0v6.1h-15.0z"/>
<path fill="#ff331a" d="M191.2 77.1h5.3v6.6h-5.3zM191.2 83.2h10.2v6.6h-10.2zM292.9 101.4h5.3v6.6h-5.3zM186.3 113.6h5.3v6.6h-5.3zM186.3 137.9h5.3v6.6h-5.3zM181.5 144.0h5.3v6.6h-5.3zM375.3 150.1h5.3v6.6h-5.3zM191.2 168.3h10.2v6.6h-10.2zM448.0 174.4h10.2v6.6h-10.2zM191.2 180.5h5.3v6.6h-5.3zM467.4 180.5h5.3v6.6h-5.3zM477.0 192.7h5.3v6.6h-5.3zM486.7 192.7h5.3v6.6h-5.3zM472.2 198.8h5.3v6.6h-5.3zM486.7 198.8h5.3v6.6h-5.3zM191.2 204.8h5.3v6.6h-5.3zM462.5 217.0h5.3v6.6h-5.3zM191.2 223.1h5.3v6.6h-5.3zM360.8 223.1h5.3v6.6h-5.3zM341.4 229.2h5.3v6.6h-5.3zM375.3 229.2h5.3v6.6h-5.3zM389.8 229.2h5.3v6.6h-5.3zM409.2 229.2h5.3v6.6h-5.3zM191.2 235.2h5.3v6.6h-5.3zM239.6 235.2h5.3v6.6h-5.3zM360.8 235.2h5.3v6.6h-5.3zM380.1 235.2h10.2v6.6h-10.2zM191.2 241.3h5.3v6.6h-5.3zM360.8 241.3h5.3v6.6h-5.3zM385.0 241.3h5.3v6.6h-5.3zM404.4 241.3h5.3v6.6h-5.3zM423.8 241.3h5.3v6.6h-5.3zM210.6 247.4h5.3v6.6h-5.3zM322.0 247.4h5.3v6.6h-5.3zM385.0 247.4h5.3v6.6h-5.3zM428.6 247.4h5.3v6.6h-5.3zM191.2 253.5h10.2v6.6h-10.2zM205.7 253.5h5.3v6.6h-5.3zM249.3 253.5h5.3v6.6h-5.3zM375.3 253.5h5.3v6.6h-5.3zM394.7 253.5h5.3v6.6h-5.3zM414.1 253.5h5.3v6.6h-5.3zM428.6 253.5h10.2v6.6h-10.2zM205.7 259.6h5.3v6.6h-5.3zM312.3 259.6h5.3v6.6h-5.3zM355.9 259.6h5.3v6.6h-5.3zM365.6 259.6h5.3v6.6h-5.3zM375.3 259.6h5.3v6.6h-5.3zM385.0 259.6h5.3v6.6h-5.3zM394.7 259.6h10.2v6.6h-10.2zM414.1 259.6h5.3v6.6h-5.3zM423.8 259.6h5.3v6.6h-5.3zM438.3 259.6h5.3v6.6h-5.3zM380.1 265.7h5.3v6.6h-5.3zM438.3 265.7h10.2v6.6h-10.2zM196.0 271.8h5.3v6.6h-5.3zM355.9 271.8h5.3v6.6h-5.3zM380.1 277.8h5.3v6.6h-5.3zM448.0 277.8h10.2v6.6h-10.2zM186.3 283.9h5.3v6.6h-5.3zM196.0 283.9h5.3v6.6h-5.3zM205.7 290.0h5.3v6.6h-5.3zM535.2 296.1h5.3v6.6h-5.3zM200.9 302.2h5.3v6.6h-5.3zM186.3 314.3h5.3v6.6h-5.3zM603.0 314.3h5.3v6.6h-5.3zM186.3 326.5h10.2v6.6h-10.2zM627.2 332.6h5.3v6.6h-5.3zM191.2 338.7h10.2v6.6h-10.2zM627.2 338.7h5.3v6.6h-5.3zM636.9 344.8h5.3v6.6h-5.3zM636.9 350.8h5.3v6.6h-5.3zM186.3 356.9h5.3v6.6h-5.3zM186.3 363.0h5.3v6.6h-5.3zM622.4 369.1h5.3v6.6h-5.3zM196.0 381.2h5.3v6.6h-5.3zM186.3 399.5h5.3v6.6h-5.3zM186.3 405.6h5.3v6.6h-5.3zM196.0 405.6h5.3v6.6h-5.3zM530.3 411.7h10.2v6.6h-10.2zM520.6 417.8h10.2v6.6h-10.2zM186.3 423.8h5.3v6.6h-5.3zM186.3 442.1h5.3v6.6h-5.3zM433.4 466.4h5.3v6.6h-5.3zM443.1 466.4h5.3v6.6h-5.3zM433.4 484.7h10.2v6.6h-10.2zM428.6 490.8h5.3v6.6h-5.3zM423.8 496.8h5.3v6.6h-5.3zM423.8 502.9h5.3v6.1h-5.3z"/>
<path fill="#ff2211" d="M181.5 71.0h5.3v6.6h-5.3zM181.5 77.1h10.2v6.6h-10.2zM191.2 89.2h5.3v6.6h-5.3zM191.2 95.3h5.3v6.6h-5.3zM191.2 107.5h5.3v6.6h-5.3zM186.3 125.8h5.3v6.6h-5.3zM181.5 137.9h5.3v6.6h-5.3zM200.9 144.0h5.3v6.6h-5.3zM297.8 144.0h5.3v6.6h-5.3zM331.7 144.0h5.3v6.6h-5.3zM355.9 144.0h5.3v6.6h-5.3zM186.3 150.1h5.3v6.6h-5.3zM186.3 156.2h5.3v6.6h-5.3zM191.2 162.2h10.2v6.6h-10.2zM428.6 162.2h5.3v6.6h-5.3zM186.3 168.3h5.3v6.6h-5.3zM181.5 174.4h5.3v6.6h-5.3zM196.0 174.4h5.3v6.6h-5.3zM297.8 174.4h5.3v6.6h-5.3zM186.3 186.6h5.3v6.6h-5.3zM186.3 198.8h5.3v6.6h-5.3zM186.3 204.8h5.3v6.6h-5.3zM486.7 210.9h5.3v6.6h-5.3zM186.3 223.1h5.3v6.6h-5.3zM196.0 223.1h5.3v6.6h-5.3zM423.8 223.1h5.3v6.6h-5.3zM186.3 229.2h10.2v6.6h-10.2zM355.9 229.2h5.3v6.6h-5.3zM394.7 229.2h5.3v6.6h-5.3zM341.4 235.2h5.3v6.6h-5.3zM399.5 235.2h15.0v6.6h-15.0zM423.8 235.2h5.3v6.6h-5.3zM346.2 241.3h5.3v6.6h-5.3zM399.5 241.3h5.3v6.6h-5.3zM409.2 241.3h5.3v6.6h-5.3zM418.9 241.3h5.3v6.6h-5.3zM433.4 241.3h5.3v6.6h-5.3zM399.5 247.4h5.3v6.6h-5.3zM418.9 247.4h5.3v6.6h-5.3zM443.1 247.4h5.3v6.6h-5.3zM181.5 253.5h5.3v6.6h-5.3zM297.8 253.5h5.3v6.6h-5.3zM418.9 253.5h5.3v6.6h-5.3zM438.3 253.5h5.3v6.6h-5.3zM448.0 253.5h10.2v6.6h-10.2zM186.3 259.6h10.2v6.6h-10.2zM370.5 259.6h5.3v6.6h-5.3zM380.1 259.6h5.3v6.6h-5.3zM409.2 259.6h5.3v6.6h-5.3zM418.9 259.6h5.3v6.6h-5.3zM457.7 259.6h10.2v6.6h-10.2zM196.0 265.7h5.3v6.6h-5.3zM317.2 265.7h5.3v6.6h-5.3zM404.4 265.7h5.3v6.6h-5.3zM423.8 265.7h10.2v6.6h-10.2zM370.5 271.8h5.3v6.6h-5.3zM385.0 271.8h5.3v6.6h-5.3zM409.2 271.8h5.3v6.6h-5.3zM433.4 271.8h5.3v6.6h-5.3zM448.0 271.8h5.3v6.6h-5.3zM472.2 271.8h5.3v6.6h-5.3zM481.9 271.8h5.3v6.6h-5.3zM491.6 271.8h5.3v6.6h-5.3zM186.3 277.8h5.3v6.6h-5.3zM200.9 277.8h10.2v6.6h-10.2zM351.1 277.8h5.3v6.6h-5.3zM462.5 277.8h5.3v6.6h-5.3zM472.2 277.8h5.3v6.6h-5.3zM491.6 277.8h5.3v6.6h-5.3zM515.8 277.8h5.3v6.6h-5.3zM544.9 277.8h5.3v6.6h-5.3zM191.2 283.9h5.3v6.6h-5.3zM515.8 283.9h10.2v6.6h-10.2zM506.1 290.0h5.3v6.6h-5.3zM535.2 290.0h5.3v6.6h-5.3zM181.5 296.1h5.3v6.6h-5.3zM191.2 296.1h10.2v6.6h-10.2zM569.1 308.2h5.3v6.6h-5.3zM612.7 320.4h5.3v6.6h-5.3zM186.3 332.6h5.3v6.6h-5.3zM181.5 344.8h5.3v6.6h-5.3zM191.2 344.8h5.3v6.6h-5.3zM641.8 344.8h5.3v6.6h-5.3zM181.5 350.8h5.3v6.6h-5.3zM646.6 350.8h5.3v6.6h-5.3zM181.5 363.0h5.3v6.6h-5.3zM196.0 363.0h5.3v6.6h-5.3zM607.9 375.2h5.3v6.6h-5.3zM622.4 375.2h5.3v6.6h-5.3zM181.5 387.3h5.3v6.6h-5.3zM583.6 393.4h5.3v6.6h-5.3zM181.5 399.5h5.3v6.6h-5.3zM181.5 405.6h5.3v6.6h-5.3zM181.5 442.1h5.3v6.6h-5.3zM467.4 448.2h5.3v6.6h-5.3zM181.5 454.2h5.3v6.6h-5.3zM191.2 454.2h5.3v6.6h-5.3zM448.0 466.4h5.3v6.6h-5.3zM191.2 478.6h5.3v6.6h-5.3zM428.6 478.6h15.0v6.6h-15.0zM414.1 484.7h5.3v6.6h-5.3zM428.6 484.7h5.3v6.6h-5.3zM418.9 490.8h5.3v6.6h-5.3zM433.4 490.8h5.3v6.6h-5.3zM399.5 496.8h5.3v6.6h-5.3zM433.4 496.8h5.3v6.6h-5.3zM181.5 502.9h5.3v6.1h-5.3zM399.5 502.9h5.3v6.1h-5.3zM428.6 502.9h5.3v6.1h-5.3z"/>
<path fill="#ff1109" d="M181.5 83.2h5.3v6.6h-5.3zM181.5 89.2h5.3v6.6h-5.3zM181.5 95.3h5.3v6.6h-5.3zM181.5 101.4h5.3v6.6h-5.3zM181.5 113.6h5.3v6.6h-5.3zM191.2 119.7h5.3v6.6h-5.3zM181.5 125.8h5.3v6.6h-5.3zM181.5 131.8h5.3v6.6h-5.3zM191.2 137.9h5.3v6.6h-5.3zM191.2 150.1h5.3v6.6h-5.3zM181.5 156.2h5.3v6.6h-5.3zM414.1 156.2h10.2v6.6h-10.2zM181.5 162.2h10.2v6.6h-10.2zM433.4 162.2h5.3v6.6h-5.3zM181.5 168.3h5.3v6.6h-5.3zM186.3 174.4h5.3v6.6h-5.3zM186.3 180.5h5.3v6.6h-5.3zM457.7 180.5h10.2v6.6h-10.2zM191.2 186.6h5.3v6.6h-5.3zM467.4 186.6h5.3v6.6h-5.3zM181.5 192.7h10.2v6.6h-10.2zM181.5 198.8h5.3v6.6h-5.3zM491.6 198.8h5.3v6.6h-5.3zM181.5 210.9h5.3v6.6h-5.3zM477.0 210.9h5.3v6.6h-5.3zM186.3 217.0h5.3v6.6h-5.3zM196.0 217.0h5.3v6.6h-5.3zM477.0 217.0h5.3v6.6h-5.3zM181.5 223.1h5.3v6.6h-5.3zM181.5 235.2h10.2v6.6h-10.2zM389.8 235.2h5.3v6.6h-5.3zM414.1 235.2h5.3v6.6h-5.3zM428.6 235.2h10.2v6.6h-10.2zM181.5 241.3h10.2v6.6h-10.2zM389.8 241.3h5.3v6.6h-5.3zM414.1 241.3h5.3v6.6h-5.3zM428.6 241.3h5.3v6.6h-5.3zM438.3 241.3h5.3v6.6h-5.3zM448.0 241.3h5.3v6.6h-5.3zM181.5 247.4h15.0v6.6h-15.0zM389.8 247.4h5.3v6.6h-5.3zM423.8 247.4h5.3v6.6h-5.3zM433.4 247.4h10.2v6.6h-10.2zM448.0 247.4h5.3v6.6h-5.3zM457.7 247.4h15.0v6.6h-15.0zM186.3 253.5h5.3v6.6h-5.3zM399.5 253.5h5.3v6.6h-5.3zM409.2 253.5h5.3v6.6h-5.3zM423.8 253.5h5.3v6.6h-5.3zM443.1 253.5h5.3v6.6h-5.3zM457.7 253.5h10.2v6.6h-10.2zM472.2 253.5h10.2v6.6h-10.2zM181.5 259.6h5.3v6.6h-5.3zM428.6 259.6h10.2v6.6h-10.2zM443.1 259.6h15.0v6.6h-15.0zM467.4 259.6h10.2v6.6h-10.2zM481.9 259.6h10.2v6.6h-10.2zM181.5 265.7h15.0v6.6h-15.0zM448.0 265.7h10.2v6.6h-10.2zM462.5 265.7h15.0v6.6h-15.0zM481.9 265.7h5.3v6.6h-5.3zM491.6 265.7h5.3v6.6h-5.3zM181.5 271.8h10.2v6.6h-10.2zM404.4 271.8h5.3v6.6h-5.3zM443.1 271.8h5.3v6.6h-5.3zM477.0 271.8h5.3v6.6h-5.3zM486.7 271.8h5.3v6.6h-5.3zM496.4 271.8h15.0v6.6h-15.0zM520.6 271.8h10.2v6.6h-10.2zM535.2 271.8h5.3v6.6h-5.3zM549.7 271.8h10.2v6.6h-10.2zM564.3 271.8h5.3v6.6h-5.3zM181.5 277.8h5.3v6.6h-5.3zM481.9 277.8h5.3v6.6h-5.3zM501.3 277.8h15.0v6.6h-15.0zM520.6 277.8h5.3v6.6h-5.3zM530.3 277.8h5.3v6.6h-5.3zM540.0 277.8h5.3v6.6h-5.3zM549.7 277.8h29.6v6.6h-29.6zM200.9 283.9h5.3v6.6h-5.3zM506.1 283.9h10.2v6.6h-10.2zM525.5 283.9h10.2v6.6h-10.2zM544.9 283.9h15.0v6.6h-15.0zM564.3 283.9h29.6v6.6h-29.6zM598.2 283.9h5.3v6.6h-5.3zM186.3 290.0h19.9v6.6h-19.9zM525.5 290.0h10.2v6.6h-10.2zM544.9 290.0h5.3v6.6h-5.3zM559.4 290.0h24.7v6.6h-24.7zM593.3 290.0h5.3v6.6h-5.3zM540.0 296.1h19.9v6.6h-19.9zM564.3 296.1h5.3v6.6h-5.3zM578.8 296.1h5.3v6.6h-5.3zM181.5 302.2h5.3v6.6h-5.3zM559.4 302.2h5.3v6.6h-5.3zM181.5 314.3h5.3v6.6h-5.3zM181.5 320.4h5.3v6.6h-5.3zM622.4 326.5h5.3v6.6h-5.3zM181.5 332.6h5.3v6.6h-5.3zM632.1 332.6h10.2v6.6h-10.2zM196.0 350.8h5.3v6.6h-5.3zM181.5 356.9h5.3v6.6h-5.3zM181.5 369.1h5.3v6.6h-5.3zM181.5 381.2h5.3v6.6h-5.3zM607.9 381.2h5.3v6.6h-5.3zM181.5 393.4h5.3v6.6h-5.3zM564.3 399.5h5.3v6.6h-5.3zM544.9 405.6h5.3v6.6h-5.3zM181.5 411.7h5.3v6.6h-5.3zM181.5 417.8h5.3v6.6h-5.3zM511.0 423.8h5.3v6.6h-5.3zM181.5 429.9h5.3v6.6h-5.3zM501.3 429.9h5.3v6.6h-5.3zM472.2 442.1h5.3v6.6h-5.3zM481.9 442.1h5.3v6.6h-5.3zM181.5 448.2h5.3v6.6h-5.3zM457.7 454.2h10.2v6.6h-10.2zM472.2 454.2h5.3v6.6h-5.3zM448.0 460.3h5.3v6.6h-5.3zM457.7 460.3h19.9v6.6h-19.9zM181.5 466.4h5.3v6.6h-5.3zM452.8 466.4h24.7v6.6h-24.7zM181.5 472.5h10.2v6.6h-10.2zM438.3 472.5h10.2v6.6h-10.2zM457.7 472.5h10.2v6.6h-10.2zM181.5 478.6h10.2v6.6h-10.2zM443.1 478.6h24.7v6.6h-24.7zM181.5 484.7h5.3v6.6h-5.3zM418.9 484.7h5.3v6.6h-5.3zM181.5 490.8h5.3v6.6h-5.3zM438.3 490.8h10.2v6.6h-10.2zM404.4 496.8h5.3v6.6h-5.3zM418.9 496.8h5.3v6.6h-5.3zM428.6 496.8h5.3v6.6h-5.3zM438.3 496.8h10.2v6.6h-10.2zM418.9 502.9h5.3v6.1h-5.3zM433.4 502.9h15.0v6.1h-15.0z"/></g>
<polyline points="280.0,465.0 284.2,464.2 288.3,465.8 292.5,465.0 297.0,466.4 301.8,466.1 306.3,467.5 310.9,468.2 315.4,469.5 320.0,470.0 323.4,473.5 327.5,476.0 330.0,470.0 334.0,468.3 338.1,467.3 342.6,468.2 346.6,466.5 350.9,466.4 355.0,465.0 359.0,463.1 363.3,463.2 367.6,463.0 371.5,461.1 376.0,461.8 380.0,460.0 384.4,459.6 388.0,456.5 392.2,455.3 396.7,455.1 401.1,454.7 405.0,452.5 409.0,450.2 413.1,447.8 417.4,446.1 421.2,443.2 425.6,441.5 430.0,440.0 432.9,436.9 436.0,434.0 438.6,430.6 441.6,427.6 445.0,425.0 449.0,423.6 453.2,423.2 457.2,422.0 461.2,420.6 465.7,421.6 469.7,420.1 473.8,419.5 477.8,417.7 482.0,417.5 486.7,416.4 490.7,414.0 494.1,410.5 498.5,408.8 503.1,407.5 507.0,405.0 510.9,403.7 514.8,402.4 518.1,399.7 522.2,398.8 525.7,396.8 529.1,394.3 533.0,393.0" fill="none" stroke="#132a2a" stroke-width="1.6" stroke-linejoin="round"/>
<polyline points="255.0,416.0 256.8,411.9 260.6,409.1 262.5,405.0 264.5,401.2 265.0,396.8 267.0,393.0 268.4,389.0 270.0,385.0 272.3,381.7 274.6,378.3 275.2,374.1 277.1,370.5 280.0,367.5 283.1,363.7 284.9,359.1 287.5,355.0 290.9,351.9 292.7,347.3 296.4,344.4 299.9,341.3 302.5,337.5 305.8,333.3 310.0,330.0 313.9,328.3 317.2,325.7 320.0,322.5 323.1,318.6 326.8,315.4 331.3,313.2 335.0,310.0 340.3,309.2 344.9,306.4 350.0,305.0 353.0,302.0 356.6,299.9 360.0,297.5 363.8,295.8 367.9,295.5 372.0,295.3 376.0,294.7 380.0,294.0 384.2,293.6 388.4,293.7 392.5,293.9 396.7,294.6 400.9,294.4 405.0,295.0 410.1,294.3 415.0,296.4 420.0,296.0 424.1,297.5 428.2,299.0 432.7,299.3 436.3,302.4 440.6,303.4 445.0,304.0 449.3,303.8 453.4,304.8 457.4,306.2 461.6,306.8 465.7,307.9 470.0,307.5 474.0,307.8 477.9,309.2 482.0,309.4 486.1,309.1 490.0,310.0" fill="none" stroke="#132a2a" stroke-width="1.6" stroke-linejoin="round"/>
<polyline points="532.0,320.0 536.8,321.0 540.7,324.2 545.3,325.8 550.0,327.0 553.7,330.7 556.7,335.0 560.0,339.0 563.4,341.7 566.5,344.9 570.0,347.5 571.9,352.8 575.0,357.5" fill="none" stroke="#132a2a" stroke-width="1.6" stroke-linejoin="round"/>
<polyline points="345.0,346.0 341.7,349.5 337.0,351.1 333.4,354.2 330.0,357.5 326.6,361.6 322.5,365.0 319.2,368.3 315.9,371.7 312.5,375.0 310.3,378.6 308.2,382.2 307.7,386.6 305.0,390.0 304.3,394.6 301.0,398.1 300.0,402.5 298.9,406.8 297.5,411.0 297.5,415.0 299.5,420.3 302.5,425.0 306.5,426.6 309.2,429.9 312.5,432.5 316.7,434.6 321.5,435.2 325.3,438.3 330.0,439.0 334.3,439.2 338.2,436.6 342.3,436.0 346.7,436.4 351.0,436.6 355.0,435.0 359.1,433.1 363.1,431.1 367.4,429.8 371.3,427.4 375.6,426.1 380.0,425.0 383.0,422.4 386.2,420.0 389.0,417.0 392.5,415.0 395.3,412.0 398.4,409.5 401.8,407.4 405.0,405.0 409.9,403.7 414.8,402.3 420.0,402.5 424.1,401.3 427.6,398.9 431.4,397.2 435.0,395.0 439.4,393.8 444.1,395.1 448.6,394.3 452.9,392.2 457.5,392.5 461.6,391.1 466.0,390.8 470.1,389.7 474.4,389.1 478.3,386.9 482.5,386.0 487.2,384.7 491.4,382.3 495.4,379.6 500.0,378.0" fill="none" stroke="#132a2a" stroke-width="1.6" stroke-linejoin="round"/>
<polyline points="395.0,320.0 399.5,319.2 404.0,320.8 408.5,320.6 413.0,319.5 417.5,320.0 421.7,321.0 425.9,321.9 430.0,323.0 435.0,324.0 439.9,325.0 445.0,325.0 449.3,324.8 453.5,325.3 457.4,327.7 461.7,327.5 465.7,328.9 470.0,329.0 474.4,328.8 478.4,330.5 482.4,332.0 486.8,331.7 490.6,334.1 495.0,334.0 499.7,336.6 505.0,337.5 510.3,337.7 515.0,340.0 516.0,337.5 517.8,341.6 517.5,346.0 519.9,349.3 522.5,352.5 524.0,360.0" fill="none" stroke="#132a2a" stroke-width="1.6" stroke-linejoin="round"/>
<polyline points="418.0,218.0 414.0,218.7 410.0,217.0 406.0,217.1 402.0,218.1 398.0,217.4 394.0,217.4 390.0,217.2 386.0,216.5 382.1,215.8 377.9,216.9 374.0,215.6 369.8,215.8 366.0,214.0 362.8,209.2 358.7,207.4 354.2,207.2 350.0,206.0 346.3,203.5 341.5,203.0 337.9,200.1 334.0,198.0 330.6,193.9 326.1,191.0 322.8,186.8 323.0,182.6 321.2,178.8 323.6,174.8 323.4,169.9 326.0,166.0 331.0,163.6 336.4,162.2 342.0,162.8 347.0,163.1 352.0,164.2 357.0,163.5 361.7,163.8 366.4,164.0 371.0,165.2 376.0,170.0 380.7,170.6 385.5,170.6 390.0,172.4 394.2,173.0 398.0,174.7 402.0,176.0 406.0,177.2 410.3,179.1 414.0,182.0 418.3,183.9 422.0,186.8 426.6,188.4 430.7,191.0 435.0,193.2 438.9,194.9 442.9,196.6 446.0,199.6 448.7,203.3 452.4,206.0 451.6,213.2" fill="none" stroke="#132a2a" stroke-width="1.6" stroke-linejoin="round"/>
<polyline points="402.0,207.5 398.0,208.1 394.0,206.3 390.0,206.3 386.0,207.2 382.0,206.4 378.0,206.3 374.0,206.0 370.1,204.9 366.1,203.8 361.8,204.5 358.0,202.8 353.8,203.0 350.0,201.2 346.4,198.2 342.0,196.4 339.9,192.5 338.0,188.4 339.0,183.6 338.8,178.8 340.4,174.8 345.1,173.3 350.0,174.0 354.0,173.9 358.0,174.5 362.0,173.4 366.0,175.0 370.0,174.9 374.0,174.0 378.2,173.6 382.2,174.2 386.0,175.9 390.0,176.4 393.7,178.7 398.1,179.0 402.2,180.0 406.0,182.0 410.3,184.0 415.0,185.3 418.8,188.4 423.2,192.0 426.8,196.4 428.4,202.8" fill="none" stroke="#132a2a" stroke-width="1.6" stroke-linejoin="round"/>
<circle cx="181" cy="288.5" r="3.5" fill="none" stroke="#222" stroke-width="1.3"/>
<text x="366" y="340" font-family="Liberation Sans" font-weight="bold" font-size="11.5" fill="#123030" text-anchor="middle" dominant-baseline="middle" transform="rotate(-60 366 340)">5</text>
<text x="511" y="318" font-family="Liberation Sans" font-weight="bold" font-size="11.5" fill="#123030" text-anchor="middle" dominant-baseline="middle" transform="rotate(165 511 318)">10</text>
<text x="511" y="373" font-family="Liberation Sans" font-weight="bold" font-size="11.5" fill="#123030" text-anchor="middle" dominant-baseline="middle" transform="rotate(-75 511 373)">5</text>
<text x="563" y="377" font-family="Liberation Sans" font-weight="bold" font-size="11.5" fill="#123030" text-anchor="middle" dominant-baseline="middle" transform="rotate(-40 563 377)">10</text>
<text x="270" y="453" font-family="Liberation Sans" font-weight="bold" font-size="11.5" fill="#123030" text-anchor="middle" dominant-baseline="middle" transform="rotate(80 270 453)">1010</text>
<text x="409" y="213" font-family="Liberation Sans" font-weight="bold" font-size="11.5" fill="#123030" text-anchor="middle" dominant-baseline="middle" transform="rotate(-10 409 213)">5</text>
<text x="430.5" y="218" font-family="Liberation Sans" font-weight="bold" font-size="11.5" fill="#123030" text-anchor="middle" dominant-baseline="middle" transform="rotate(-25 430.5 218)">10</text>
<path d="M181 67.3H671.2V510" stroke="#9ea2a2" stroke-width="2" fill="none"/>
<path d="M180.6 67.3V510H671.2" stroke="#303030" stroke-width="1.8" fill="none"/>
<path d="M279.3 67.3v4M377.1 67.3v4M474.9 67.3v4M572.7 67.3v4M671.2 142.2h-4.5M671.2 215.6h-4.5M671.2 289.0h-4.5M671.2 362.4h-4.5M671.2 435.8h-4.5" stroke="#444" stroke-width="1.2" fill="none"/>
<text x="200" y="400" font-family="Liberation Sans" font-weight="bold" font-size="23" fill="#000" transform="matrix(1.0528 0.0000 0.0000 0.9706 -75.3083 -309.9853)" >180</text>
<text x="200" y="400" font-family="Liberation Sans" font-weight="bold" font-size="23" fill="#000" transform="matrix(1.0639 0.0000 0.0000 0.9706 -77.9417 -237.8173)" >120</text>
<text x="200" y="400" font-family="Liberation Sans" font-weight="bold" font-size="23" fill="#000" transform="matrix(1.0542 0.0000 0.0000 0.9706 -62.9875 -164.4013)" >60</text>
<text x="200" y="400" font-family="Liberation Sans" font-weight="bold" font-size="23" fill="#000" transform="matrix(1.1182 0.0000 0.0000 0.9706 -62.8545 -90.9853)" >0</text>
<text x="200" y="400" font-family="Liberation Sans" font-weight="bold" font-size="23" fill="#000" transform="matrix(1.0774 0.0000 0.0000 0.9706 -75.7613 -17.5693)" >-60</text>
<text x="200" y="400" font-family="Liberation Sans" font-weight="bold" font-size="23" fill="#000" transform="matrix(1.0795 0.0000 0.0000 0.9706 -90.2886 55.8467)" >-120</text>
<text x="200" y="400" font-family="Liberation Sans" font-weight="bold" font-size="23" fill="#000" transform="matrix(1.0795 0.0000 0.0000 0.9706 -90.2886 128.3147)" >-180</text>
<text x="200" y="400" font-family="Liberation Sans" font-weight="bold" font-size="23" fill="#000" transform="matrix(1.0545 0.0000 0.0000 0.9706 -35.9636 147.5647)" >0</text>
<text x="200" y="400" font-family="Liberation Sans" font-weight="bold" font-size="23" fill="#000" transform="matrix(1.0417 0.0000 0.0000 0.9706 57.6250 147.5647)" >30</text>
<text x="200" y="400" font-family="Liberation Sans" font-weight="bold" font-size="23" fill="#000" transform="matrix(1.0625 0.0000 0.0000 0.9706 151.2375 147.5647)" >60</text>
<text x="200" y="400" font-family="Liberation Sans" font-weight="bold" font-size="23" fill="#000" transform="matrix(1.0292 0.0000 0.0000 0.9706 255.6375 147.5647)" >90</text>
<text x="200" y="400" font-family="Liberation Sans" font-weight="bold" font-size="23" fill="#000" transform="matrix(1.0861 0.0000 0.0000 0.9706 335.3917 147.5647)" >120</text>
<text x="200" y="400" font-family="Liberation Sans" font-weight="bold" font-size="23" fill="#000" transform="matrix(1.0889 0.0000 0.0000 0.9706 432.4333 147.5647)" >150</text>
<text x="200" y="400" font-family="Liberation Sans" font-weight="bold" font-size="26" fill="#000" transform="matrix(0.0000 -1.0212 0.8750 0.0000 -220.9750 600.7877)" >Rotation angle (°)</text>
<text x="200" y="400" font-family="Liberation Sans" font-weight="bold" font-size="26" fill="#000" transform="matrix(0.9909 0.0000 0.0000 0.9833 137.0280 180.1500)" >Tilting angle (°)</text>
<text x="200" y="400" font-family="Liberation Sans" font-weight="bold" font-size="60" fill="#000" transform="matrix(1.0609 0.0000 0.0000 1.1364 27.4261 -322.9545)" >*</text>
<defs>
<linearGradient id="memg1" gradientUnits="userSpaceOnUse" x1="0" y1="580" x2="0" y2="1020"><stop offset="0" stop-color="#b0b0b0"/><stop offset="0.2" stop-color="#a6a6a6"/><stop offset="0.3" stop-color="#808080"/><stop offset="1" stop-color="#747474"/></linearGradient>
<linearGradient id="memg2" gradientUnits="userSpaceOnUse" x1="0" y1="640" x2="0" y2="1020"><stop offset="0" stop-color="#a8a8a8"/><stop offset="0.25" stop-color="#8e8e8e"/><stop offset="1" stop-color="#7a7a7a"/></linearGradient>
<radialGradient id="lav1" cx="0.4" cy="0.35" r="0.7"><stop offset="0" stop-color="#9a9ad4"/><stop offset="0.7" stop-color="#8585c2"/><stop offset="1" stop-color="#6e6eaa"/></radialGradient>
<radialGradient id="lav2" cx="0.4" cy="0.35" r="0.7"><stop offset="0" stop-color="#9a9ad4"/><stop offset="0.7" stop-color="#8585c2"/><stop offset="1" stop-color="#6e6eaa"/></radialGradient>
<linearGradient id="gcyl" gradientUnits="userSpaceOnUse" x1="300" y1="640" x2="370" y2="740"><stop offset="0" stop-color="#22e022"/><stop offset="0.35" stop-color="#28c828"/><stop offset="0.5" stop-color="#2e9e2e"/><stop offset="1" stop-color="#2a8a2a"/></linearGradient>
<clipPath id="cb1"><rect x="0" y="0" width="1000" height="1020"/></clipPath>
<filter id="tsh" x="-5%" y="-20%" width="110%" height="140%"><feGaussianBlur in="SourceAlpha" stdDeviation="1"/><feOffset dx="0.6" dy="0.8"/><feComponentTransfer><feFuncA type="linear" slope="0.9"/></feComponentTransfer><feMerge><feMergeNode/><feMergeNode in="SourceGraphic"/></feMerge></filter>
</defs>
<g transform="translate(712 51) scale(0.254 0.2539)" clip-path="url(#cb1)"><rect x="0" y="0" width="1000" height="1020" fill="#000"/>
<path d="M602 208C607 199 617 193 625 187C633 181 642 176 651 172C659 167 668 162 677 159C686 155 697 149 705 148C713 147 718 151 725 151C731 151 737 146 744 147C751 147 761 148 769 153C776 158 782 170 789 178C795 187 801 196 808 203C816 210 827 213 834 220C842 226 846 236 855 243C863 249 877 250 884 257C891 265 892 280 897 290C903 300 914 309 917 320C920 330 913 344 915 355C917 367 926 378 927 390C928 402 924 416 920 429C916 441 911 454 905 465C900 476 892 485 885 495C878 504 871 514 862 522C852 529 837 531 827 540C817 548 812 566 801 573C791 580 777 579 765 581C753 584 741 586 730 587C718 588 707 586 696 588C684 591 668 605 659 605C650 605 648 592 643 587C637 583 630 583 624 578C617 573 611 565 605 557C599 549 594 541 588 532C582 524 573 515 568 504C563 493 560 479 556 469C552 460 546 455 544 447C541 438 542 427 541 420C540 412 538 408 539 401C540 395 540 388 545 380C550 373 562 364 568 356C574 347 577 340 580 331C583 322 585 313 586 302C587 291 583 277 585 266C586 255 593 248 596 238C598 229 597 217 602 208Z" fill="url(#lav1)"/>
<ellipse cx="640" cy="260" rx="45" ry="40" fill="#a0a0dc" opacity="0.5"/>
<ellipse cx="720" cy="330" rx="60" ry="50" fill="#9a9ad6" opacity="0.45"/>
<ellipse cx="820" cy="300" rx="50" ry="45" fill="#9c9cd8" opacity="0.4"/>
<ellipse cx="700" cy="470" rx="60" ry="45" fill="#7373b0" opacity="0.5"/>
<ellipse cx="830" cy="440" rx="45" ry="40" fill="#7878b4" opacity="0.45"/>
<ellipse cx="600" cy="430" rx="35" ry="40" fill="#8a8ac6" opacity="0.5"/>
<ellipse cx="760" cy="220" rx="40" ry="35" fill="#a2a2de" opacity="0.4"/>
<polyline points="308,241 322,320 335,401" fill="none" stroke="#8a7e10" stroke-width="46" stroke-linejoin="round" stroke-linecap="round" opacity="0.9"/>
<polyline points="308,241 322,320 335,401" fill="none" stroke="#c4b41e" stroke-width="40" stroke-linejoin="round" stroke-linecap="round"/>
<polyline points="300,296 270,330 235,362" fill="none" stroke="#8a7e10" stroke-width="44" stroke-linejoin="round" stroke-linecap="round" opacity="0.9"/>
<polyline points="300,296 270,330 235,362" fill="none" stroke="#c4b41e" stroke-width="38" stroke-linejoin="round" stroke-linecap="round"/>
<polyline points="225,356 291,352" fill="none" stroke="#8a7e10" stroke-width="38" stroke-linejoin="round" stroke-linecap="round" opacity="0.9"/>
<polyline points="225,356 291,352" fill="none" stroke="#c4b41e" stroke-width="32" stroke-linejoin="round" stroke-linecap="round"/>
<polyline points="190,415 222,420" fill="none" stroke="#8a7e10" stroke-width="33" stroke-linejoin="round" stroke-linecap="round" opacity="0.9"/>
<polyline points="190,415 222,420" fill="none" stroke="#c4b41e" stroke-width="27" stroke-linejoin="round" stroke-linecap="round"/>
<polyline points="315,395 345,440 375,489" fill="none" stroke="#8a7e10" stroke-width="44" stroke-linejoin="round" stroke-linecap="round" opacity="0.9"/>
<polyline points="315,395 345,440 375,489" fill="none" stroke="#c4b41e" stroke-width="38" stroke-linejoin="round" stroke-linecap="round"/>
<polyline points="402,500 430,550 457,594" fill="none" stroke="#8a7e10" stroke-width="41" stroke-linejoin="round" stroke-linecap="round" opacity="0.9"/>
<polyline points="402,500 430,550 457,594" fill="none" stroke="#c4b41e" stroke-width="35" stroke-linejoin="round" stroke-linecap="round"/>
<polyline points="479,379 485,470 490,566" fill="none" stroke="#8a7e10" stroke-width="38" stroke-linejoin="round" stroke-linecap="round" opacity="0.9"/>
<polyline points="479,379 485,470 490,566" fill="none" stroke="#c4b41e" stroke-width="32" stroke-linejoin="round" stroke-linecap="round"/>
<polyline points="523,390 535,450 525,520" fill="none" stroke="#8a7e10" stroke-width="36" stroke-linejoin="round" stroke-linecap="round" opacity="0.9"/>
<polyline points="523,390 535,450 525,520" fill="none" stroke="#c4b41e" stroke-width="30" stroke-linejoin="round" stroke-linecap="round"/>
<polyline points="330,612 400,632 468,625" fill="none" stroke="#8a7e10" stroke-width="44" stroke-linejoin="round" stroke-linecap="round" opacity="0.9"/>
<polyline points="330,612 400,632 468,625" fill="none" stroke="#c4b41e" stroke-width="38" stroke-linejoin="round" stroke-linecap="round"/>
<polyline points="340,652 420,662" fill="none" stroke="#8a7e10" stroke-width="38" stroke-linejoin="round" stroke-linecap="round" opacity="0.9"/>
<polyline points="340,652 420,662" fill="none" stroke="#c4b41e" stroke-width="32" stroke-linejoin="round" stroke-linecap="round"/>
<polyline points="350,300 335,350 330,400" fill="none" stroke="#8a7e10" stroke-width="36" stroke-linejoin="round" stroke-linecap="round" opacity="0.9"/>
<polyline points="350,300 335,350 330,400" fill="none" stroke="#c4b41e" stroke-width="30" stroke-linejoin="round" stroke-linecap="round"/>
<line x1="150" y1="285" x2="155" y2="385" stroke="#12d612" stroke-width="66" stroke-linecap="round"/><line x1="140" y1="285" x2="145" y2="385" stroke="#7af07a" stroke-width="23" stroke-linecap="round" opacity="0.55"/>
<line x1="300" y1="190" x2="285" y2="270" stroke="#3eb4bc" stroke-width="40" stroke-linecap="round"/><line x1="294" y1="190" x2="279" y2="270" stroke="#8adede" stroke-width="14" stroke-linecap="round" opacity="0.55"/>
<line x1="290" y1="470" x2="265" y2="610" stroke="#b81cb8" stroke-width="58" stroke-linecap="round"/><line x1="281" y1="470" x2="256" y2="610" stroke="#e070e0" stroke-width="20" stroke-linecap="round" opacity="0.55"/>
<line x1="425" y1="335" x2="455" y2="505" stroke="#f01010" stroke-width="64" stroke-linecap="round"/><line x1="415" y1="335" x2="445" y2="505" stroke="#ff7a6a" stroke-width="22" stroke-linecap="round" opacity="0.55"/>
<line x1="478" y1="280" x2="488" y2="370" stroke="#1222c8" stroke-width="46" stroke-linecap="round"/><line x1="471" y1="280" x2="481" y2="370" stroke="#5a6af0" stroke-width="16" stroke-linecap="round" opacity="0.55"/>
<polyline points="180,250 215,160 240,190 250,160 270,220 300,230 285,280" fill="none" stroke="#d8d8d8" stroke-width="7" stroke-linejoin="round" opacity="0.9"/>
<polyline points="390,280 410,230 430,250 440,210 470,210 460,270 500,290 540,270 560,360" fill="none" stroke="#d8d8d8" stroke-width="7" stroke-linejoin="round" opacity="0.9"/>
<polyline points="220,400 280,380 330,390 360,350 400,370" fill="none" stroke="#d8d8d8" stroke-width="7" stroke-linejoin="round" opacity="0.9"/>
<polyline points="440,330 470,380 450,430 470,470" fill="none" stroke="#d8d8d8" stroke-width="7" stroke-linejoin="round" opacity="0.9"/>
<polyline points="340,450 360,500 390,510" fill="none" stroke="#d8d8d8" stroke-width="7" stroke-linejoin="round" opacity="0.9"/>
<polyline points="210,600 200,640 240,660 300,640 330,690 290,700 230,690 250,730 300,720 340,740 350,700" fill="none" stroke="#d8d8d8" stroke-width="7" stroke-linejoin="round" opacity="0.9"/>
<polyline points="340,680 400,670 420,690" fill="none" stroke="#d8d8d8" stroke-width="7" stroke-linejoin="round" opacity="0.9"/>
<path d="M0 1020 L0 612 L0 612 L120 605 L250 598 L400 592 L520 598 L650 600 L780 592 L900 585 L1000 578 L1000 1020Z" fill="url(#memg1)" opacity="0.74"/>
<path d="M0 662 C200 650 400 652 550 640 C700 628 850 612 1000 600" stroke="#a0a0a0" stroke-width="9" fill="none" opacity="0.55"/>
<path d="M0 630 C200 618 400 612 600 612 C800 604 900 594 1000 586" stroke="#8a8a8a" stroke-width="22" fill="none" opacity="0.35"/>
<path d="M560 700 C600 800 640 900 650 1020 L760 1020 C740 900 700 800 660 700Z" fill="#4a4a4a" opacity="0.12"/>
<polyline points="235,760 240,810 270,835 255,855 200,860" fill="none" stroke="#2fae2f" stroke-width="30" stroke-linejoin="round" stroke-linecap="round"/></g>
<g transform="translate(712 332) scale(0.2545 0.2539)" clip-path="url(#cb1)"><rect x="0" y="0" width="1000" height="1020" fill="#000"/>
<path d="M478 230C480 222 485 211 489 202C493 192 496 183 501 173C506 164 513 153 520 144C527 135 534 126 543 118C551 110 559 101 569 96C579 91 592 92 603 88C613 84 621 78 630 72C640 67 650 59 660 56C670 53 680 56 690 55C701 53 714 45 721 47C729 48 729 59 734 62C739 65 747 57 752 62C756 68 757 84 760 94C764 104 767 112 772 120C778 127 787 132 793 139C798 147 801 154 806 163C811 173 818 185 823 196C829 207 834 219 839 230C844 242 851 254 855 266C858 277 861 291 860 301C858 312 846 318 844 329C841 339 849 355 843 364C838 373 821 375 812 383C804 392 803 407 793 413C783 420 766 418 754 421C741 425 729 430 718 433C707 437 697 442 686 441C676 440 661 433 652 428C643 423 640 416 633 413C626 410 614 414 610 408C605 403 606 392 605 382C604 372 607 356 604 349C600 343 588 346 583 342C577 337 577 328 572 322C566 317 556 313 550 308C544 303 543 296 536 291C528 286 513 283 505 278C497 274 492 268 487 262C483 257 480 251 478 246C477 241 476 237 478 230Z" fill="url(#lav2)"/>
<ellipse cx="560" cy="200" rx="50" ry="45" fill="#a0a0dc" opacity="0.5"/>
<ellipse cx="680" cy="150" rx="60" ry="50" fill="#a2a2de" opacity="0.45"/>
<ellipse cx="720" cy="260" rx="55" ry="50" fill="#9a9ad6" opacity="0.4"/>
<ellipse cx="650" cy="330" rx="45" ry="40" fill="#7676b2" opacity="0.5"/>
<ellipse cx="780" cy="330" rx="40" ry="40" fill="#7878b4" opacity="0.45"/>
<ellipse cx="620" cy="250" rx="35" ry="30" fill="#8080bc" opacity="0.5"/>
<polyline points="500,410 600,430 680,520 700,620" fill="none" stroke="#cbbd22" stroke-width="38" stroke-linejoin="round" stroke-linecap="round" opacity="0.95"/>
<polyline points="420,480 520,470 620,540" fill="none" stroke="#cbbd22" stroke-width="34" stroke-linejoin="round" stroke-linecap="round" opacity="0.95"/>
<polyline points="380,530 470,540" fill="none" stroke="#cbbd22" stroke-width="36" stroke-linejoin="round" stroke-linecap="round" opacity="0.95"/>
<polyline points="420,580 440,620" fill="none" stroke="#cbbd22" stroke-width="30" stroke-linejoin="round" stroke-linecap="round" opacity="0.95"/>
<polyline points="460,610 430,680" fill="none" stroke="#cbbd22" stroke-width="30" stroke-linejoin="round" stroke-linecap="round" opacity="0.95"/>
<polyline points="530,370 620,470 690,650" fill="none" stroke="#cbbd22" stroke-width="30" stroke-linejoin="round" stroke-linecap="round" opacity="0.95"/>
<polyline points="560,560 620,600" fill="none" stroke="#cbbd22" stroke-width="30" stroke-linejoin="round" stroke-linecap="round" opacity="0.95"/>
<line x1="395" y1="345" x2="420" y2="460" stroke="#1226d6" stroke-width="48" stroke-linecap="round"/><line x1="388" y1="345" x2="413" y2="460" stroke="#5a6af0" stroke-width="17" stroke-linecap="round" opacity="0.55"/>
<ellipse cx="318" cy="500" rx="48" ry="36" fill="#4cc4cc"/><ellipse cx="305" cy="490" rx="25" ry="18" fill="#8ee0e0" opacity="0.6"/>
<line x1="505" y1="470" x2="665" y2="540" stroke="#f01010" stroke-width="62" stroke-linecap="round"/><line x1="496" y1="470" x2="656" y2="540" stroke="#ff7a6a" stroke-width="22" stroke-linecap="round" opacity="0.55"/>
<ellipse cx="560" cy="640" rx="40" ry="35" fill="#c41cc4"/><ellipse cx="570" cy="645" rx="28" ry="28" fill="#e030e0"/>
<polyline points="340,320 350,300 370,330 380,340 440,380 490,400 520,380" fill="none" stroke="#d8d8d8" stroke-width="7" stroke-linejoin="round" opacity="0.9"/>
<polyline points="490,330 510,360 530,370 560,400 580,430 600,470 640,500" fill="none" stroke="#d8d8d8" stroke-width="7" stroke-linejoin="round" opacity="0.9"/>
<polyline points="330,500 370,540 390,560 340,580 310,600 340,620 400,590 440,600 470,630" fill="none" stroke="#d8d8d8" stroke-width="7" stroke-linejoin="round" opacity="0.9"/>
<polyline points="390,420 420,450 410,480" fill="none" stroke="#d8d8d8" stroke-width="7" stroke-linejoin="round" opacity="0.9"/>
<polyline points="520,540 550,560 540,600 520,620" fill="none" stroke="#d8d8d8" stroke-width="7" stroke-linejoin="round" opacity="0.9"/>
<polyline points="570,560 580,600 570,640" fill="none" stroke="#d8d8d8" stroke-width="7" stroke-linejoin="round" opacity="0.9"/>
<polyline points="670,620 690,680" fill="none" stroke="#d8d8d8" stroke-width="7" stroke-linejoin="round" opacity="0.9"/>
<path d="M0 1020 L0 685 L0 685 L100 665 L200 652 L350 642 L500 660 L650 672 L800 656 L1000 650 L1000 1020Z" fill="url(#memg2)" opacity="0.74"/>
<path d="M0 730 C150 720 300 700 450 705 C600 720 800 700 1000 690" stroke="#9a9a9a" stroke-width="12" fill="none" opacity="0.5"/>
<path d="M90 1020 C110 900 200 800 300 760" stroke="#8a8a8a" stroke-width="22" fill="none" opacity="0.45"/>
<path d="M340 1020 C330 900 380 780 470 740 C600 700 750 760 900 780" stroke="#8a8a8a" stroke-width="16" fill="none" opacity="0.4"/>
<path d="M120 840 C200 760 250 700 300 690" stroke="#9a9a9a" stroke-width="12" fill="none" opacity="0.4"/>
<path d="M700 700 C800 720 900 760 1000 740" stroke="#8a8a8a" stroke-width="14" fill="none" opacity="0.35"/>
<line x1="305" y1="655" x2="370" y2="715" stroke="url(#gcyl)" stroke-width="56" stroke-linecap="round"/>
<polyline points="305,820 315,880 340,910 330,930 375,965" fill="none" stroke="#2fae2f" stroke-width="26" stroke-linejoin="round" stroke-linecap="round"/></g>
<text x="200" y="400" font-family="Liberation Serif" font-weight="bold" font-size="30" fill="#fff" transform="matrix(1.0134 0.0000 0.0000 0.9048 604.3020 -97.9048)" filter="url(#tsh)">Membrane-</text>
<text x="200" y="400" font-family="Liberation Serif" font-weight="bold" font-size="30" fill="#fff" transform="matrix(1.0056 0.0000 0.0000 0.9630 578.8708 -83.9630)" filter="url(#tsh)">adjacent/GH5</text>
<text x="200" y="400" font-family="Liberation Serif" font-weight="bold" font-size="30" fill="#fff" transform="matrix(1.0093 0.0000 0.0000 0.9889 648.1215 166.9111)" filter="url(#tsh)">Exposed</text>
<path d="M838 140L392 191" stroke="#000" stroke-width="2.8" fill="none"/>
<path d="M378.5 192.6 L394.4 182.3 L391.5 190.8 L396.8 199.6 Z" fill="#000" stroke="#000" stroke-width="1" stroke-linejoin="round"/>
<path d="M712 424L406 366" stroke="#000" stroke-width="2.8" fill="none"/>
<path d="M394.6 363.6 L413.8 357.6 L407.5 366.5 L410.2 375.8 Z" fill="#000" stroke="#000" stroke-width="1" stroke-linejoin="round"/>
<path fill="#000" fill-rule="evenodd" d="M6 619.8L15.6 619.8L15.6 640.5C18.5 637.5 22.5 636 26.5 636C35.5 636 41.4 643 41.4 655C41.4 668 34.5 676 24 676C19.5 676 16.5 674.5 14.5 672.5L14 674L6 674ZM15.6 648.5C17.8 646.3 20.5 645 23.2 645C28.8 645 31.8 649.3 31.8 656C31.8 663 28.5 667.2 23 667.2C20 667.2 17.5 666.2 15.6 664.5Z"/>
<line x1="128" y1="1068.2" x2="994" y2="1068.2" stroke="#b8b8b8" stroke-width="2.4" stroke-dasharray="2.4 4" />
<line x1="128" y1="977.9" x2="994" y2="977.9" stroke="#b8b8b8" stroke-width="2.4" stroke-dasharray="2.4 4" />
<line x1="128" y1="887.6" x2="994" y2="887.6" stroke="#b8b8b8" stroke-width="2.4" stroke-dasharray="2.4 4" />
<line x1="128" y1="797.3" x2="994" y2="797.3" stroke="#b8b8b8" stroke-width="2.4" stroke-dasharray="2.4 4" />
<line x1="128" y1="707.0" x2="994" y2="707.0" stroke="#b8b8b8" stroke-width="2.4" stroke-dasharray="2.4 4" />
<rect x="201.05" y="835.05" width="129.40" height="323.45" fill="#f4b183" stroke="#ed7d31" stroke-width="3.5" stroke-linejoin="round"/>
<rect x="492.15" y="1039.75" width="129.30" height="118.75" fill="#f4b183" stroke="#ed7d31" stroke-width="3.5" stroke-linejoin="round"/>
<rect x="783.35" y="1150.25" width="128.50" height="8.25" fill="#f4b183" stroke="#ed7d31" stroke-width="3.5" stroke-linejoin="round"/>
<path d="M266 811V858M258 811h16M258 858h16" stroke="#000" stroke-width="4.5" fill="none"/>
<path d="M557.5 1017.5V1062.5M549.5 1017.5h16M549.5 1062.5h16" stroke="#000" stroke-width="4.5" fill="none"/>
<path d="M848.8 1146.8V1157.5M840.8 1146.8h16M840.8 1157.5h16" stroke="#000" stroke-width="4.5" fill="none"/>
<path d="M121 707V1158.5H993" stroke="#000" stroke-width="4.4" fill="none"/>
<path d="M112.5 1068.2H121M112.5 977.9H121M112.5 887.6H121M112.5 797.3H121M112.5 707.0H121M266.3 1158.5V1165M557 1158.5V1165M847.7 1158.5V1165" stroke="#000" stroke-width="4.2" fill="none"/>
<text x="200" y="400" font-family="Liberation Sans" font-weight="bold" font-size="24" fill="#000" transform="matrix(1.0545 0.0000 0.0000 1.0118 -129.0182 310.8941)" >1</text>
<text x="200" y="400" font-family="Liberation Sans" font-weight="bold" font-size="24" fill="#000" transform="matrix(1.0500 0.0000 0.0000 1.0118 -149.0500 401.1941)" >0.8</text>
<text x="200" y="400" font-family="Liberation Sans" font-weight="bold" font-size="24" fill="#000" transform="matrix(1.0500 0.0000 0.0000 1.0118 -149.0500 491.4941)" >0.6</text>
<text x="200" y="400" font-family="Liberation Sans" font-weight="bold" font-size="24" fill="#000" transform="matrix(1.0500 0.0000 0.0000 1.0118 -149.0500 581.7941)" >0.4</text>
<text x="200" y="400" font-family="Liberation Sans" font-weight="bold" font-size="24" fill="#000" transform="matrix(1.0839 0.0000 0.0000 1.0118 -155.8581 672.0941)" >0.2</text>
<text x="200" y="400" font-family="Liberation Sans" font-weight="bold" font-size="24" fill="#000" transform="matrix(1.1818 0.0000 0.0000 1.0118 -154.9455 762.3941)" >0</text>
<text x="200" y="400" font-family="Liberation Sans" font-weight="bold" font-size="23" fill="#000" transform="matrix(0.9707 0.0000 0.0000 0.9391 25.6283 824.9522)" >Exposed</text>
<text x="200" y="400" font-family="Liberation Sans" font-weight="bold" font-size="23" fill="#000" transform="matrix(1.0581 0.0000 0.0000 1.0000 202.2734 799.5000)" >Membrane-adjacent/GH5</text>
<text x="200" y="400" font-family="Liberation Sans" font-weight="bold" font-size="23" fill="#000" transform="matrix(1.0400 0.0000 0.0000 1.0056 607.8600 798.3778)" >Other</text>
<text x="200" y="400" font-family="Liberation Sans" font-weight="bold" font-size="26" fill="#000" transform="matrix(0.0000 -1.0118 0.9375 0.0000 -342.1875 1295.4879)" >Proportion of simulations</text>
</svg></body></html>
